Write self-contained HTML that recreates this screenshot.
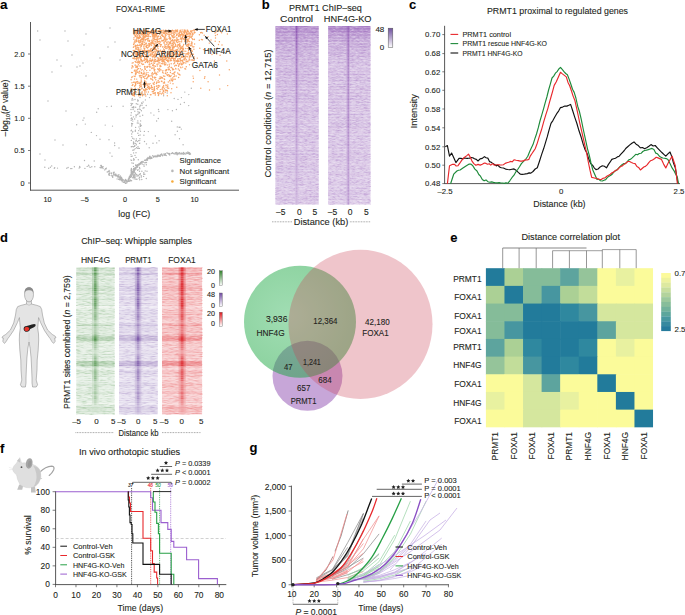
<!DOCTYPE html>
<html><head><meta charset="utf-8"><style>
html,body{margin:0;padding:0;background:#fff;}
body{width:685px;height:615px;overflow:hidden;}
svg{display:block;font-family:"Liberation Sans", sans-serif;}
text{stroke:#231f20;stroke-width:0.1px;}
</style></head><body>
<svg width="685" height="615" viewBox="0 0 685 615" fill="#231f20">
<text x="0" y="9.0" font-size="13.5" font-weight="bold" fill="#000">a</text>
<text x="140.50" y="12.47" font-size="8.8" text-anchor="middle" textLength="49" lengthAdjust="spacingAndGlyphs">FOXA1-RIME</text>
<line x1="30.50" y1="22.00" x2="30.50" y2="190.50" stroke="#444" stroke-width="0.9"/>
<line x1="30.00" y1="190.20" x2="239.00" y2="190.20" stroke="#444" stroke-width="0.9"/>
<line x1="28.00" y1="54.00" x2="30.50" y2="54.00" stroke="#444" stroke-width="0.7"/>
<text x="24.50" y="56.63" font-size="7.3" text-anchor="end">2.0</text>
<line x1="28.00" y1="86.20" x2="30.50" y2="86.20" stroke="#444" stroke-width="0.7"/>
<text x="24.50" y="88.83" font-size="7.3" text-anchor="end">1.5</text>
<line x1="28.00" y1="118.30" x2="30.50" y2="118.30" stroke="#444" stroke-width="0.7"/>
<text x="24.50" y="120.93" font-size="7.3" text-anchor="end">1.0</text>
<line x1="28.00" y1="150.50" x2="30.50" y2="150.50" stroke="#444" stroke-width="0.7"/>
<text x="24.50" y="153.13" font-size="7.3" text-anchor="end">0.5</text>
<line x1="28.00" y1="183.00" x2="30.50" y2="183.00" stroke="#444" stroke-width="0.7"/>
<text x="24.50" y="185.63" font-size="7.3" text-anchor="end">0</text>
<text x="47.50" y="201.93" font-size="7.3" text-anchor="middle">10</text>
<text x="84.80" y="201.93" font-size="7.3" text-anchor="middle">–5</text>
<text x="125.00" y="201.93" font-size="7.3" text-anchor="middle">0</text>
<text x="157.70" y="201.93" font-size="7.3" text-anchor="middle">5</text>
<text x="194.60" y="201.93" font-size="7.3" text-anchor="middle">10</text>
<text x="134.30" y="216.97" font-size="8.8" text-anchor="middle" textLength="32" lengthAdjust="spacingAndGlyphs">log (FC)</text>
<text transform="translate(7.8,108) rotate(-90)" font-size="8.6" text-anchor="middle">–log<tspan font-size="5.5" dy="2">10</tspan><tspan dy="-2">(</tspan><tspan font-style="italic">P</tspan> value)</text>
<path d="M145.2 160.6h0M131.1 174.9h0M158.7 155.4h0M156.9 156.1h0M129.4 176.8h0M132.0 172.9h0M151.5 157.5h0M139.2 164.0h0M164.9 155.3h0M149.8 157.8h0M189.3 154.4h0M143.2 161.7h0M134.8 169.3h0M177.9 153.9h0M136.8 165.9h0M148.2 158.2h0M159.5 155.6h0M138.2 165.3h0M168.5 153.7h0M162.0 155.2h0M153.4 156.5h0M169.7 155.1h0M140.4 162.7h0M182.0 153.1h0M171.8 153.5h0M133.4 172.4h0M151.1 157.6h0M155.7 155.9h0M129.5 176.4h0M161.2 154.2h0M182.1 153.1h0M162.6 155.7h0M161.7 153.9h0M187.0 153.6h0M154.7 156.3h0M169.9 153.9h0M166.2 155.5h0M142.8 161.5h0M149.1 158.2h0M153.9 156.5h0M136.1 167.6h0M174.5 153.9h0M134.0 169.9h0M181.8 154.0h0M131.5 172.8h0M182.6 153.6h0M178.1 153.9h0M150.9 157.2h0M147.4 160.2h0M135.2 167.5h0M136.6 167.0h0M155.4 156.7h0M162.3 154.9h0M151.2 157.6h0M148.0 157.4h0M169.2 153.5h0M157.4 155.1h0M130.2 175.1h0M183.8 153.6h0M176.6 152.4h0M149.5 157.9h0M165.3 154.7h0M130.6 175.4h0M135.8 167.9h0M146.2 159.6h0M135.2 168.5h0M132.5 171.9h0M182.0 153.5h0M164.0 155.0h0M146.7 159.8h0M147.7 159.7h0M190.5 154.0h0M154.2 156.3h0M132.6 171.9h0M146.4 159.4h0M135.7 168.9h0M128.8 178.9h0M134.9 168.5h0M159.2 156.2h0M189.4 153.4h0M181.2 153.3h0M147.9 158.4h0M136.0 167.6h0M175.3 153.0h0M145.6 160.1h0M189.9 154.3h0M180.4 153.9h0M172.6 152.8h0M139.4 163.6h0M129.1 177.7h0M129.0 177.7h0M169.3 154.6h0M187.9 151.9h0M190.1 153.7h0M187.8 153.0h0M139.4 164.5h0M137.7 166.0h0M183.8 154.2h0M179.6 152.6h0M176.7 153.7h0M131.7 172.5h0M175.5 152.6h0M173.3 153.5h0M176.0 153.7h0M145.8 160.4h0M149.7 156.5h0M150.1 158.8h0M136.2 167.0h0M133.9 170.8h0M177.2 154.7h0M134.9 169.6h0M166.9 152.9h0M146.9 159.0h0M128.5 178.8h0M188.9 152.8h0M186.2 152.7h0M152.1 158.0h0M138.5 164.1h0M140.9 162.8h0M162.1 155.4h0M141.3 162.3h0M184.5 153.5h0M147.1 158.4h0M184.1 153.6h0M151.3 158.1h0M158.5 155.2h0M157.9 156.3h0M136.9 166.6h0M128.1 179.7h0M154.7 156.1h0M171.5 153.4h0M157.6 155.6h0M160.0 155.3h0M160.4 155.0h0M140.7 162.9h0M156.9 156.9h0M160.5 155.3h0M152.7 155.7h0M163.9 154.0h0M169.3 154.1h0M153.3 156.2h0M186.8 153.1h0M169.7 155.1h0M141.4 161.6h0M160.3 156.3h0M134.4 169.0h0M133.6 170.3h0M140.2 163.6h0M131.1 173.6h0M183.6 152.5h0M135.4 168.1h0M134.7 168.1h0M182.6 153.8h0M187.6 153.2h0M149.9 156.2h0M179.0 153.7h0M135.7 167.2h0M146.2 159.9h0M137.7 165.4h0M128.7 179.4h0M159.9 155.2h0M145.7 159.9h0M164.6 154.4h0M189.9 153.2h0M175.9 154.0h0M141.7 162.3h0M129.5 176.9h0M134.0 169.4h0M151.4 158.4h0M141.3 162.1h0M135.1 169.3h0M169.8 153.7h0M131.9 173.7h0M151.6 157.7h0M131.1 175.0h0M176.9 153.3h0M131.6 173.4h0M181.2 153.3h0M153.4 156.4h0M185.7 154.0h0M141.8 162.8h0M140.1 164.1h0M132.9 171.5h0M138.0 165.6h0M144.5 160.2h0M143.2 162.3h0M156.4 156.3h0M128.6 179.1h0M140.8 164.0h0M159.7 155.4h0M137.3 164.7h0M132.8 171.8h0M178.1 152.9h0M179.2 153.8h0M149.5 157.2h0M189.7 153.2h0M146.4 160.0h0M165.4 153.7h0M150.3 157.7h0M134.0 170.1h0M131.0 174.3h0M135.8 167.2h0M131.7 173.9h0M167.8 153.2h0M142.7 161.7h0M153.8 157.2h0M135.5 167.6h0M188.2 153.4h0M189.0 152.8h0M188.5 153.1h0M130.4 177.4h0M127.0 182.0h0M133.5 175.7h0M128.8 180.0h0M127.0 182.0h0M127.5 181.2h0M127.2 181.6h0M130.4 176.8h0M136.0 174.4h0M140.0 174.5h0M139.1 178.3h0M131.9 175.6h0M146.5 162.5h0M139.3 174.5h0M127.2 181.9h0M143.8 172.8h0M139.6 177.2h0M128.0 180.8h0M134.2 178.9h0M141.4 177.0h0M135.9 179.2h0M138.3 175.7h0M129.2 177.6h0M128.0 180.6h0M127.7 181.6h0M135.3 176.0h0M136.9 176.0h0M133.8 170.2h0M141.2 175.7h0M134.1 175.7h0M137.7 166.7h0M139.6 168.1h0M127.4 181.3h0M139.5 167.4h0M139.7 179.8h0M133.9 174.1h0M133.6 177.5h0M140.4 173.7h0M137.3 167.2h0M128.1 180.1h0M139.8 168.8h0M135.6 168.2h0M127.3 181.5h0M138.0 175.8h0M138.1 169.7h0M134.4 174.7h0M133.4 172.0h0M143.9 164.7h0M146.3 178.5h0M127.0 181.9h0M141.8 179.5h0M133.0 173.8h0M128.9 181.4h0M128.9 180.1h0M128.1 180.8h0M145.6 162.6h0M141.9 171.3h0M143.7 174.3h0M129.2 181.1h0M133.8 170.5h0M127.0 182.0h0M133.1 174.1h0M128.1 180.4h0M130.6 180.3h0M127.0 182.0h0M142.4 164.1h0M144.8 174.2h0M144.1 166.3h0M131.5 176.5h0M147.0 171.3h0M131.3 176.9h0M129.9 176.5h0M127.6 181.6h0M130.1 181.0h0M129.5 178.2h0M134.3 171.7h0M131.6 180.8h0M143.6 176.4h0M137.0 179.2h0M145.2 170.9h0M139.2 165.1h0M139.5 171.3h0M140.1 174.3h0M130.1 176.2h0M144.8 162.8h0M133.5 174.1h0M130.2 179.9h0M146.3 164.8h0M137.6 170.2h0M135.3 173.2h0M122.5 179.6h0M102.5 167.6h0M113.6 174.2h0M100.1 167.5h0M114.9 175.0h0M124.6 181.0h0M117.8 176.9h0M120.0 178.1h0M111.6 173.7h0M115.9 174.2h0M115.8 174.3h0M117.9 176.3h0M125.3 180.6h0M123.6 182.2h0M113.4 172.5h0M121.2 177.1h0M119.7 177.5h0M115.0 175.6h0M101.2 167.3h0M126.4 180.2h0M126.1 181.0h0M114.2 172.3h0M111.1 173.2h0M102.0 166.7h0M104.7 169.9h0M120.3 176.0h0M124.1 180.8h0M108.6 171.6h0M101.6 166.2h0M106.4 168.1h0M114.7 174.2h0M105.9 169.0h0M120.7 179.3h0M118.8 176.4h0M123.5 179.9h0M108.1 171.8h0M124.0 181.1h0M111.3 172.9h0M116.5 175.8h0M126.7 183.0h0M118.9 174.8h0M109.6 171.9h0M103.1 166.8h0M120.3 178.0h0M101.1 165.9h0M126.4 180.9h0M113.5 173.3h0M120.1 176.9h0M109.0 171.6h0M126.1 181.1h0M117.9 175.2h0M121.7 179.4h0M105.5 168.8h0M121.5 177.5h0M100.8 165.4h0M120.8 179.7h0M121.0 178.4h0M101.3 165.5h0M113.6 174.1h0M115.7 175.7h0M109.0 171.5h0M116.4 175.3h0M121.3 179.0h0M125.6 181.1h0M125.4 179.5h0M103.1 168.6h0M107.2 172.0h0M118.1 176.5h0M122.0 180.3h0M126.1 180.9h0M109.1 170.4h0M118.0 177.1h0M122.4 179.9h0M117.5 176.2h0M101.2 167.9h0M122.3 181.8h0M119.6 179.8h0M118.2 177.2h0M125.1 180.8h0M109.4 174.8h0M122.5 179.3h0M125.5 183.0h0M118.6 179.2h0M125.3 180.4h0M125.4 183.4h0M121.4 180.6h0M112.5 176.6h0M121.1 179.4h0M108.8 173.9h0M113.1 175.8h0M120.3 179.5h0M112.4 176.0h0M109.5 173.4h0M125.6 180.4h0M121.8 178.1h0M108.8 174.7h0M119.0 178.9h0M117.1 178.9h0M109.3 175.2h0M112.7 177.4h0M111.2 175.6h0M120.1 178.3h0M120.2 178.5h0M124.6 182.4h0M122.4 180.4h0M91.8 166.8h0M94.8 166.7h0M44.8 167.2h0M48.7 168.2h0M90.1 167.4h0M89.1 166.1h0M68.1 167.5h0M79.7 166.4h0M57.5 168.1h0M54.3 168.3h0M87.2 166.4h0M50.4 167.2h0M71.9 168.6h0M54.7 167.7h0M79.1 168.1h0M84.9 168.4h0M74.4 166.7h0M70.7 168.6h0M79.9 167.4h0M51.7 165.9h0M88.6 165.2h0M66.8 168.2h0M131.1 171.0h0M131.7 117.9h0M143.0 108.1h0M139.5 143.4h0M140.1 125.0h0M132.8 131.8h0M138.3 159.8h0M137.7 99.9h0M132.2 146.5h0M131.9 124.7h0M133.1 109.5h0M136.3 144.8h0M131.0 109.5h0M137.8 120.9h0M133.8 107.7h0M140.2 109.5h0M131.3 140.4h0M135.0 99.5h0M136.3 140.6h0M132.3 98.4h0M133.6 152.9h0M133.5 116.9h0M132.4 174.2h0M133.5 142.0h0M139.8 128.9h0M132.7 177.7h0M139.2 108.9h0M131.0 109.5h0M133.3 170.0h0M133.3 163.3h0M133.6 168.5h0M131.1 105.5h0M136.3 140.7h0M131.3 170.7h0M133.5 146.7h0M131.8 136.6h0M136.0 116.9h0M131.4 171.9h0M138.6 135.4h0M131.8 175.3h0M143.1 102.0h0M133.5 176.0h0M143.4 94.4h0M140.5 126.4h0M138.0 146.6h0M140.3 105.3h0M134.8 111.2h0M136.7 165.5h0M132.7 107.5h0M135.6 127.4h0M131.7 126.0h0M138.9 113.6h0M131.1 169.6h0M137.6 141.6h0M142.0 92.8h0M137.7 101.1h0M136.2 140.6h0M134.7 119.0h0M134.1 143.3h0M134.1 149.8h0M131.1 130.8h0M134.6 146.4h0M139.5 112.5h0M133.8 160.0h0M135.7 107.2h0M131.9 100.0h0M131.5 130.2h0M135.3 131.2h0M138.7 93.1h0M140.0 97.5h0M134.3 159.8h0M136.6 94.5h0M141.2 125.5h0M141.6 103.0h0M135.1 177.7h0M131.9 162.9h0M133.5 176.5h0M136.8 174.5h0M140.3 105.8h0M131.2 172.4h0M138.7 123.1h0M142.0 105.2h0M140.0 116.2h0M136.3 103.7h0M131.9 171.5h0M135.9 115.0h0M131.2 120.2h0M132.2 107.4h0M135.0 172.8h0M131.7 169.5h0M131.5 160.4h0M136.4 138.9h0M140.3 123.9h0M135.7 141.0h0M131.4 168.4h0M134.4 177.4h0M139.0 126.9h0M142.7 115.2h0M133.5 142.9h0M133.7 158.7h0M139.6 106.9h0M141.6 93.9h0M137.7 114.2h0M134.1 176.7h0M132.9 150.2h0M131.2 88.3h0M137.8 104.3h0M135.4 130.3h0M131.5 169.5h0M138.0 111.7h0M131.0 90.9h0M131.6 123.4h0M132.6 123.6h0M135.7 143.4h0M137.7 109.5h0M131.7 134.0h0M132.1 172.8h0M131.6 104.3h0M138.4 148.1h0M133.4 160.1h0M131.0 115.2h0M135.2 148.6h0M137.3 123.0h0M140.5 131.3h0M132.3 156.1h0M131.1 170.1h0M134.0 139.0h0M131.3 112.7h0M131.0 159.9h0M139.8 140.6h0M132.6 103.6h0M134.8 145.5h0M137.8 148.4h0M133.7 106.7h0M131.2 118.5h0M136.1 169.0h0M131.0 154.6h0M136.0 165.3h0M137.9 133.2h0M132.5 132.1h0M133.0 99.9h0M134.3 92.8h0M136.0 157.4h0M135.7 165.4h0M136.5 115.3h0M138.7 130.6h0M132.7 138.2h0M139.4 148.4h0M141.4 110.8h0M133.5 90.1h0M139.2 112.5h0M135.5 173.5h0M140.6 120.9h0M132.8 121.1h0M134.8 170.5h0M136.0 152.7h0M133.4 176.3h0M135.6 164.9h0M133.5 166.4h0M135.0 155.4h0M132.5 119.2h0M131.3 146.8h0M131.6 170.7h0M131.8 91.5h0M132.7 172.2h0M131.1 103.5h0M139.6 93.2h0M136.6 147.7h0M131.2 156.4h0M133.5 144.0h0M179.5 138.8h0M184.8 92.1h0M183.1 144.7h0M188.8 94.6h0M144.0 94.9h0M138.5 140.6h0M179.1 127.3h0M180.0 127.2h0M147.6 94.2h0M140.1 135.0h0M144.0 107.8h0M154.5 89.3h0M146.2 105.5h0M172.4 110.8h0M149.2 147.8h0M159.1 140.8h0M166.1 89.9h0M153.9 115.1h0M176.4 109.5h0M171.7 121.3h0M144.5 141.5h0M139.9 138.8h0M142.6 88.1h0M143.9 135.3h0M191.3 88.3h0M158.3 118.5h0M178.0 99.4h0M158.5 109.5h0M180.5 104.2h0M188.7 105.6h0M144.4 131.4h0M158.7 94.8h0M167.2 93.0h0M177.4 131.2h0M177.3 126.9h0M150.9 112.9h0M153.0 143.2h0M139.8 143.1h0M138.3 100.8h0M146.5 143.9h0M158.9 111.5h0M184.3 102.5h0M156.6 121.0h0M175.1 134.7h0M167.9 109.6h0M149.5 97.6h0M181.3 129.1h0M174.2 98.5h0M155.4 136.0h0M163.6 95.8h0M156.7 142.9h0M145.4 99.9h0M148.3 131.6h0M181.4 97.6h0M142.1 103.4h0M91.3 132.4h0M83.0 120.3h0M84.5 160.5h0M111.4 106.3h0M123.1 106.3h0M94.2 161.0h0M114.7 145.5h0M96.7 112.2h0M106.9 106.6h0M85.3 124.1h0M76.7 124.7h0M114.6 143.0h0M100.0 139.2h0M98.2 108.8h0M105.2 125.1h0M112.0 156.3h0M96.5 135.6h0M112.5 126.1h0M86.4 144.8h0M119.0 148.0h0M110.0 152.9h0M109.0 139.8h0M40.0 40.0h0M65.0 31.0h0M86.0 34.0h0M52.0 72.0h0M57.0 60.0h0M72.0 55.0h0M80.0 66.0h0M48.0 101.0h0M55.0 140.0h0M63.0 145.0h0M40.0 154.0h0M45.0 160.0h0M110.0 28.0h0M115.0 42.0h0M120.0 60.0h0M37.7 31.0h0M68.0 41.0h0M84.0 45.0h0M83.0 63.0h0M77.0 67.0h0M86.0 76.0h0M100.0 58.0h0M108.0 47.0h0M61.0 66.0h0M66.0 111.0h0M84.0 118.0h0" stroke="#b3b3b3" stroke-width="1.4" stroke-linecap="round"/>
<path d="M151.0 42.4h0M181.3 48.3h0M171.5 51.3h0M169.3 36.1h0M174.3 41.0h0M180.5 59.3h0M163.9 40.3h0M142.6 61.0h0M190.0 53.8h0M166.7 44.6h0M164.5 51.5h0M158.1 48.7h0M144.8 60.0h0M140.0 50.3h0M154.7 61.4h0M134.7 31.0h0M159.3 41.3h0M146.2 50.8h0M190.6 52.3h0M156.9 44.8h0M141.9 35.0h0M161.5 53.6h0M146.1 46.0h0M180.6 60.6h0M162.0 55.1h0M182.3 37.4h0M183.9 39.2h0M158.5 36.6h0M134.0 34.2h0M151.0 51.6h0M159.5 43.2h0M187.8 48.6h0M136.0 56.5h0M141.6 55.5h0M169.6 55.6h0M175.9 30.2h0M139.8 36.1h0M154.5 33.1h0M190.4 33.4h0M170.7 54.2h0M175.5 53.8h0M144.7 58.0h0M162.9 50.6h0M164.1 52.4h0M147.9 36.5h0M161.2 33.0h0M162.9 33.1h0M133.7 43.9h0M160.5 56.0h0M154.9 46.0h0M187.5 41.3h0M135.6 31.4h0M172.5 47.7h0M162.0 59.4h0M191.3 43.4h0M153.8 30.6h0M153.7 56.8h0M145.2 43.1h0M158.3 41.8h0M183.3 45.8h0M162.7 40.8h0M169.0 36.7h0M152.6 54.2h0M170.8 38.1h0M135.3 53.9h0M136.0 51.7h0M134.0 37.6h0M174.3 34.4h0M186.4 54.1h0M173.4 47.7h0M172.6 47.2h0M178.1 35.0h0M144.3 32.1h0M173.1 30.6h0M178.8 39.7h0M150.6 54.0h0M152.2 41.4h0M136.5 41.6h0M135.4 46.2h0M189.1 32.5h0M134.2 42.2h0M188.0 40.2h0M156.9 43.1h0M142.7 32.1h0M134.3 30.2h0M138.6 50.3h0M140.9 57.1h0M177.1 30.3h0M136.7 34.3h0M176.1 53.5h0M168.6 31.6h0M147.1 51.2h0M176.7 60.6h0M184.6 30.1h0M152.4 31.5h0M163.1 51.9h0M156.9 31.1h0M141.4 46.5h0M155.1 54.4h0M155.6 48.9h0M188.3 54.0h0M136.4 53.9h0M174.6 61.0h0M190.3 55.5h0M170.4 55.6h0M154.6 37.8h0M170.2 50.3h0M132.7 58.1h0M158.1 36.4h0M135.8 46.9h0M178.5 55.7h0M182.8 57.0h0M173.5 54.7h0M165.8 58.7h0M145.0 54.4h0M170.2 52.7h0M160.6 50.1h0M180.6 34.8h0M138.9 42.6h0M167.8 54.7h0M184.8 58.1h0M144.1 44.7h0M144.6 34.4h0M156.4 50.9h0M142.5 44.5h0M140.4 30.8h0M180.2 48.5h0M163.8 33.4h0M135.9 30.3h0M167.7 61.6h0M178.6 36.4h0M184.8 41.5h0M147.6 60.6h0M138.9 30.6h0M167.5 30.9h0M183.3 57.1h0M170.0 31.2h0M149.7 40.6h0M173.7 46.1h0M159.2 60.3h0M189.3 33.5h0M147.9 61.7h0M187.7 39.1h0M180.3 58.4h0M171.4 51.2h0M179.0 61.4h0M173.7 59.7h0M139.6 37.5h0M148.4 38.3h0M147.7 32.6h0M174.0 33.1h0M136.1 30.2h0M145.6 59.2h0M141.4 59.5h0M138.9 42.2h0M160.6 59.3h0M180.5 38.8h0M146.4 43.2h0M175.5 31.0h0M149.8 45.7h0M143.2 41.0h0M143.8 36.7h0M151.8 43.6h0M136.3 58.3h0M175.4 58.0h0M148.6 35.0h0M155.4 34.7h0M138.8 61.7h0M186.8 37.2h0M191.5 31.0h0M180.3 30.2h0M183.1 38.8h0M144.4 44.8h0M168.1 41.8h0M144.4 33.0h0M137.6 53.4h0M169.1 31.7h0M169.7 43.8h0M182.8 51.1h0M177.2 46.7h0M176.9 40.9h0M184.2 31.0h0M161.6 56.9h0M187.1 30.2h0M144.5 36.5h0M154.8 55.6h0M133.4 47.2h0M140.2 44.6h0M182.6 51.4h0M155.2 56.9h0M136.7 52.7h0M164.8 57.2h0M165.0 45.0h0M145.0 30.3h0M148.6 32.1h0M175.5 55.1h0M134.8 34.5h0M173.7 47.3h0M184.3 32.1h0M163.1 51.5h0M150.1 44.0h0M168.3 32.6h0M141.6 56.7h0M182.6 46.4h0M155.6 59.6h0M157.5 41.3h0M177.9 59.8h0M159.5 38.7h0M182.6 61.3h0M135.9 58.7h0M187.1 44.5h0M170.8 59.5h0M166.2 39.5h0M135.1 31.3h0M192.1 33.0h0M183.6 53.6h0M185.1 57.6h0M173.3 30.6h0M165.2 36.8h0M163.4 59.1h0M189.1 41.7h0M140.7 37.2h0M193.0 47.1h0M165.0 44.4h0M141.4 33.2h0M150.8 32.8h0M139.1 35.9h0M168.1 45.5h0M144.6 49.1h0M168.2 51.2h0M152.1 42.9h0M156.6 35.8h0M133.9 46.8h0M167.2 39.2h0M150.0 43.6h0M141.9 61.5h0M188.3 31.2h0M160.4 41.9h0M139.5 52.1h0M143.4 35.3h0M154.2 38.7h0M179.9 50.0h0M175.5 44.5h0M180.2 52.4h0M185.8 51.2h0M179.2 32.7h0M162.9 46.8h0M178.4 60.6h0M168.7 57.2h0M175.0 40.0h0M157.1 37.3h0M179.2 45.8h0M163.4 56.3h0M142.1 42.1h0M168.9 46.5h0M185.1 31.7h0M189.7 55.9h0M134.4 34.8h0M168.4 30.8h0M167.1 43.8h0M162.9 61.9h0M154.4 44.5h0M153.5 47.2h0M138.4 60.0h0M156.5 39.8h0M187.3 46.0h0M158.8 43.5h0M165.8 48.2h0M143.0 55.1h0M165.9 38.1h0M186.3 32.3h0M188.6 50.5h0M141.9 41.3h0M144.4 37.2h0M171.0 34.2h0M168.8 47.4h0M160.3 30.7h0M133.0 54.0h0M186.0 37.7h0M162.6 46.9h0M148.8 45.7h0M163.6 49.0h0M140.5 41.0h0M139.8 33.5h0M164.2 33.8h0M136.3 55.3h0M177.6 30.2h0M143.6 38.2h0M139.4 36.5h0M159.0 58.3h0M136.7 40.2h0M157.2 57.8h0M147.4 48.0h0M153.7 30.8h0M180.5 58.2h0M161.0 37.7h0M146.5 60.1h0M151.8 40.3h0M161.2 57.3h0M154.4 54.2h0M192.5 34.3h0M164.8 37.3h0M157.3 40.2h0M155.6 31.2h0M145.5 35.9h0M173.1 37.1h0M142.9 38.8h0M184.2 51.1h0M160.5 32.7h0M154.1 55.8h0M155.1 51.7h0M163.7 60.4h0M162.7 35.4h0M186.7 32.8h0M154.6 46.9h0M184.5 36.0h0M163.8 32.6h0M156.1 45.4h0M169.0 49.3h0M144.0 37.9h0M152.2 56.4h0M155.4 49.5h0M151.5 43.9h0M141.3 31.2h0M150.3 51.5h0M188.6 40.8h0M140.4 56.7h0M175.0 36.8h0M158.3 39.1h0M183.4 49.4h0M170.0 39.1h0M179.7 34.1h0M135.5 51.3h0M152.1 30.7h0M135.9 40.0h0M182.8 37.9h0M175.4 46.3h0M153.4 36.2h0M184.2 30.0h0M184.1 53.6h0M136.0 47.6h0M146.7 35.9h0M179.6 58.7h0M177.6 31.7h0M149.1 55.5h0M190.7 31.8h0M176.8 50.6h0M135.9 55.6h0M158.0 50.8h0M179.5 44.3h0M175.1 30.7h0M191.0 54.7h0M167.0 48.6h0M158.8 36.1h0M152.4 34.7h0M147.7 32.9h0M162.8 35.8h0M151.8 42.1h0M141.1 57.6h0M165.0 46.1h0M143.6 53.0h0M177.6 49.7h0M139.5 55.6h0M137.2 37.2h0M145.6 37.0h0M152.1 50.9h0M155.1 42.9h0M192.8 33.8h0M137.9 52.7h0M139.7 51.5h0M159.1 43.6h0M188.0 34.4h0M170.6 48.9h0M147.2 59.5h0M135.5 33.0h0M144.2 53.5h0M182.6 48.7h0M184.2 59.2h0M153.5 52.4h0M155.9 34.2h0M154.7 45.7h0M166.9 55.6h0M182.7 48.3h0M164.6 51.1h0M142.3 43.9h0M174.0 37.5h0M159.9 33.6h0M159.3 60.8h0M176.8 34.4h0M182.1 30.0h0M149.4 41.5h0M152.6 49.5h0M173.0 41.9h0M150.8 55.4h0M166.6 42.1h0M152.9 39.0h0M192.1 42.6h0M194.1 58.5h0M178.4 48.0h0M151.1 31.1h0M187.8 46.3h0M153.5 43.3h0M134.3 57.6h0M138.7 34.3h0M154.6 49.5h0M165.8 46.7h0M140.4 40.5h0M140.7 34.1h0M147.5 56.8h0M162.1 31.9h0M146.7 45.8h0M169.5 46.4h0M158.7 31.6h0M164.4 31.4h0M179.5 51.4h0M140.2 32.4h0M156.3 55.6h0M181.6 33.9h0M179.3 32.9h0M134.8 31.0h0M146.3 47.1h0M185.9 37.5h0M183.6 48.1h0M143.8 46.1h0M152.7 52.5h0M140.0 53.2h0M174.9 39.8h0M169.0 60.0h0M166.0 32.0h0M175.8 54.6h0M145.7 36.2h0M140.3 42.2h0M140.3 30.3h0M150.5 54.5h0M156.7 50.4h0M175.8 33.1h0M188.2 54.8h0M163.3 30.2h0M181.7 57.2h0M175.1 30.6h0M163.4 40.4h0M186.5 33.5h0M137.5 47.7h0M169.1 38.4h0M144.7 30.7h0M155.6 39.4h0M133.9 39.2h0M160.6 46.6h0M135.2 61.5h0M149.8 33.2h0M148.6 43.9h0M187.6 46.3h0M166.6 30.6h0M172.4 53.4h0M153.9 48.5h0M190.4 37.0h0M150.0 50.2h0M171.0 53.1h0M165.0 39.1h0M153.2 40.8h0M161.9 61.6h0M154.3 39.6h0M134.3 32.9h0M165.8 57.1h0M143.8 37.6h0M176.5 31.2h0M190.8 45.7h0M138.5 38.8h0M167.4 34.1h0M157.4 61.5h0M136.9 57.0h0M149.0 43.4h0M143.5 30.3h0M157.2 36.6h0M168.7 34.6h0M176.4 56.9h0M168.2 60.6h0M154.6 31.5h0M144.3 32.9h0M190.3 45.2h0M152.5 35.0h0M172.9 52.6h0M136.9 38.7h0M154.3 41.1h0M169.5 43.7h0M188.3 36.3h0M192.3 46.1h0M152.6 31.0h0M142.8 31.9h0M182.1 33.1h0M165.1 41.4h0M167.5 46.9h0M176.9 38.5h0M179.1 36.3h0M176.9 37.8h0M163.3 61.1h0M140.6 59.7h0M177.4 30.1h0M192.8 39.5h0M135.4 35.4h0M137.4 32.9h0M188.3 44.0h0M142.3 39.6h0M143.3 34.0h0M176.4 30.5h0M172.9 35.8h0M180.9 38.9h0M139.6 42.6h0M137.1 52.1h0M136.5 48.9h0M158.7 46.1h0M146.7 58.9h0M149.0 36.1h0M178.8 41.7h0M151.3 48.8h0M142.0 61.8h0M187.3 56.8h0M150.4 36.6h0M160.6 38.5h0M169.7 57.9h0M169.4 42.4h0M154.8 57.6h0M188.2 53.7h0M152.7 34.2h0M140.0 30.4h0M142.2 61.0h0M138.8 52.2h0M153.8 33.8h0M175.3 58.9h0M146.9 57.5h0M174.3 54.2h0M158.8 30.6h0M135.1 32.1h0M139.5 61.6h0M141.9 43.5h0M142.4 41.6h0M164.4 52.2h0M186.9 32.3h0M146.7 39.1h0M149.6 60.8h0M148.9 34.0h0M159.0 31.3h0M155.1 45.8h0M165.5 30.1h0M172.6 45.6h0M157.5 61.3h0M157.5 38.1h0M156.7 61.0h0M194.2 33.1h0M148.1 30.1h0M154.6 47.7h0M184.0 35.8h0M188.3 53.9h0M171.7 30.9h0M151.6 45.6h0M187.0 60.9h0M168.7 44.3h0M177.7 61.8h0M177.9 40.0h0M171.9 40.4h0M170.7 38.2h0M149.2 45.4h0M162.5 58.5h0M145.7 51.6h0M188.4 33.1h0M179.9 44.9h0M143.9 35.7h0M180.3 55.3h0M185.6 58.0h0M180.0 30.7h0M143.4 32.6h0M182.5 36.1h0M160.8 44.6h0M171.2 31.7h0M163.9 42.3h0M173.8 54.4h0M163.9 39.6h0M155.8 35.7h0M146.1 30.3h0M177.0 46.3h0M153.0 36.8h0M171.7 35.8h0M144.7 56.7h0M155.8 41.4h0M158.9 30.8h0M157.6 39.6h0M180.3 49.0h0M186.7 39.2h0M193.0 34.4h0M152.0 51.3h0M180.2 31.3h0M185.0 40.0h0M134.4 52.9h0M181.6 47.1h0M161.9 41.1h0M162.4 57.8h0M173.7 55.4h0M173.4 52.3h0M179.5 45.7h0M137.6 53.4h0M139.0 55.1h0M137.2 31.7h0M173.8 50.2h0M159.5 43.4h0M193.9 46.8h0M153.2 55.1h0M133.6 44.5h0M151.3 61.6h0M186.0 36.2h0M136.2 45.8h0M185.0 37.7h0M145.1 54.6h0M165.0 30.9h0M166.9 39.8h0M181.6 39.6h0M136.9 34.6h0M164.6 38.0h0M149.3 40.9h0M150.1 54.3h0M160.6 51.2h0M158.3 59.5h0M172.5 57.4h0M185.5 30.9h0M187.5 31.4h0M180.5 46.0h0M150.5 43.9h0M181.2 34.9h0M139.9 33.2h0M179.7 31.9h0M147.4 60.1h0M175.1 58.4h0M136.4 33.4h0M150.7 55.8h0M166.1 35.6h0M187.0 33.4h0M181.6 38.3h0M155.8 61.2h0M146.7 30.5h0M139.0 45.5h0M173.7 42.7h0M181.1 32.4h0M195.0 32.6h0M149.7 44.8h0M188.8 39.0h0M161.4 31.9h0M137.8 56.9h0M149.5 33.0h0M189.2 57.9h0M168.6 30.5h0M170.4 60.8h0M155.0 30.9h0M144.1 42.3h0M151.7 54.0h0M166.1 31.3h0M168.5 54.0h0M139.4 42.6h0M141.0 49.0h0M172.1 46.6h0M144.1 33.7h0M183.7 59.8h0M142.7 43.3h0M163.6 31.9h0M140.2 45.1h0M164.2 42.9h0M145.7 39.6h0M147.8 40.8h0M163.4 57.1h0M164.4 57.8h0M167.4 54.2h0M142.3 50.5h0M135.6 36.5h0M185.0 40.4h0M168.0 31.6h0M173.8 35.6h0M148.0 31.1h0M170.5 47.3h0M181.8 50.6h0M189.1 38.8h0M187.5 30.1h0M147.9 41.0h0M174.0 52.1h0M145.4 33.3h0M153.7 35.2h0M163.2 61.1h0M179.8 43.8h0M144.6 58.5h0M181.4 48.2h0M154.8 54.0h0M192.7 33.6h0M182.7 49.9h0M186.3 59.6h0M169.4 52.5h0M180.0 41.8h0M191.8 53.9h0M188.6 45.0h0M149.6 32.4h0M146.5 55.9h0M162.2 34.6h0M174.2 58.5h0M178.4 51.2h0M191.6 50.2h0M171.6 55.4h0M153.3 55.8h0M133.4 47.2h0M134.2 43.6h0M170.1 32.3h0M152.7 42.5h0M169.0 35.0h0M139.1 37.3h0M172.5 36.7h0M139.8 54.7h0M144.7 50.2h0M191.4 36.7h0M170.2 39.5h0M158.1 58.0h0M194.6 43.9h0M182.4 34.3h0M144.2 33.6h0M160.0 59.9h0M138.8 54.8h0M186.4 45.7h0M183.7 44.4h0M137.8 49.7h0M153.1 48.2h0M172.0 49.5h0M184.8 39.9h0M154.9 43.9h0M176.3 61.1h0M160.6 45.9h0M179.8 52.7h0M152.5 30.6h0M143.0 32.9h0M167.0 46.9h0M170.2 30.8h0M180.5 37.0h0M189.7 37.3h0M180.8 49.0h0M172.9 50.0h0M150.6 50.5h0M178.1 33.6h0M141.6 39.0h0M178.0 44.5h0M152.0 33.8h0M190.5 31.0h0M144.2 60.6h0M153.1 37.8h0M139.8 41.9h0M189.3 36.4h0M146.0 36.6h0M168.8 58.5h0M152.1 53.7h0M166.9 33.3h0M176.5 49.8h0M163.5 36.8h0M173.2 37.2h0M182.8 36.3h0M154.1 46.2h0M136.7 59.7h0M179.4 45.6h0M139.3 50.1h0M173.1 37.8h0M177.8 60.7h0M187.3 40.5h0M180.4 52.4h0M144.9 39.1h0M171.5 57.1h0M140.6 58.3h0M164.4 38.7h0M173.5 56.4h0M149.0 46.6h0M181.4 56.1h0M179.5 55.9h0M189.1 43.9h0M171.7 58.2h0M140.1 57.4h0M149.3 51.0h0M168.0 31.3h0M146.2 55.4h0M174.8 31.9h0M175.2 61.0h0M182.0 31.4h0M142.2 38.3h0M137.2 36.8h0M135.6 42.1h0M139.3 55.5h0M152.9 35.3h0M145.9 46.2h0M182.3 54.2h0M135.2 45.2h0M159.3 53.7h0M171.4 31.2h0M162.8 51.7h0M146.5 46.9h0M194.1 57.0h0M192.1 38.4h0M160.3 31.3h0M175.6 50.2h0M157.1 42.4h0M145.4 37.0h0M144.4 52.2h0M144.7 51.0h0M188.6 36.5h0M188.8 52.6h0M136.3 59.0h0M134.5 34.8h0M148.4 56.8h0M142.8 39.2h0M135.8 48.5h0M154.8 34.0h0M138.8 58.2h0M142.7 32.2h0M182.2 53.7h0M162.0 54.3h0M167.1 55.3h0M145.9 44.2h0M178.9 36.1h0M192.4 59.9h0M181.6 41.8h0M140.5 56.0h0M156.6 30.2h0M185.1 30.1h0M185.8 54.0h0M137.5 45.1h0M160.9 38.3h0M144.8 48.7h0M140.0 35.9h0M140.6 47.0h0M169.8 34.6h0M159.7 51.1h0M161.7 31.3h0M173.1 40.7h0M174.6 51.3h0M142.2 43.0h0M146.9 58.5h0M146.2 61.5h0M171.8 40.4h0M135.0 52.4h0M136.3 31.9h0M148.0 30.9h0M189.3 59.4h0M190.9 48.7h0M178.8 36.4h0M191.7 32.1h0M142.9 51.2h0M140.0 44.3h0M132.9 54.0h0M164.6 56.4h0M166.9 55.3h0M137.4 54.5h0M156.8 31.0h0M177.6 30.1h0M161.8 30.4h0M170.2 32.6h0M190.8 34.8h0M154.4 45.5h0M183.6 31.9h0M154.2 32.1h0M169.7 37.6h0M178.1 61.2h0M175.5 30.1h0M164.5 47.3h0M170.6 42.5h0M178.0 58.8h0M178.3 54.4h0M172.8 30.5h0M142.9 56.3h0M160.0 59.8h0M153.9 51.1h0M139.4 38.3h0M191.7 42.0h0M182.9 53.1h0M147.5 61.8h0M134.7 41.1h0M154.3 35.5h0M177.2 53.4h0M139.0 57.8h0M150.9 55.4h0M189.3 48.3h0M166.2 33.6h0M155.6 49.1h0M173.5 58.7h0M150.2 60.8h0M133.4 58.4h0M143.9 36.4h0M170.3 41.9h0M147.9 50.5h0M135.2 36.3h0M191.2 50.5h0M169.4 48.8h0M150.5 49.3h0M137.8 31.2h0M140.6 30.2h0M192.0 43.7h0M143.6 50.4h0M152.8 32.0h0M176.2 40.9h0M187.1 31.9h0M183.0 38.8h0M184.0 35.4h0M133.4 54.6h0M186.1 34.4h0M172.0 33.5h0M142.0 34.1h0M173.7 31.9h0M146.5 46.3h0M142.1 31.2h0M154.6 60.6h0M148.6 51.7h0M166.0 39.6h0M150.8 32.3h0M181.7 40.0h0M156.7 35.3h0M172.5 39.6h0M173.2 43.0h0M146.8 55.8h0M160.7 30.5h0M138.6 51.3h0M147.2 32.5h0M140.5 42.0h0M187.9 31.3h0M137.6 45.8h0M185.2 35.3h0M182.2 60.6h0M148.6 32.3h0M184.3 33.8h0M189.8 35.0h0M177.6 42.6h0M145.7 31.4h0M154.9 49.5h0M144.9 32.5h0M172.4 30.1h0M179.1 44.4h0M147.3 45.2h0M141.6 43.9h0M188.0 54.6h0M188.2 52.3h0M146.9 34.1h0M146.3 47.3h0M159.7 30.6h0M169.0 33.0h0M158.1 59.7h0M148.1 50.1h0M164.1 43.2h0M166.2 60.0h0M183.4 35.1h0M147.7 34.7h0M151.9 60.5h0M134.8 40.9h0M143.6 39.8h0M149.0 55.5h0M166.9 42.4h0M140.3 51.3h0M141.7 60.5h0M184.0 32.9h0M147.7 31.0h0M157.2 33.7h0M171.8 57.8h0M190.9 56.7h0M136.5 40.9h0M150.2 58.8h0M191.3 37.2h0M182.0 57.1h0M172.9 54.7h0M173.3 44.4h0M181.9 46.9h0M137.3 58.2h0M166.9 58.1h0M147.7 34.1h0M163.9 39.6h0M172.3 50.1h0M174.4 43.0h0M175.1 54.5h0M171.9 51.2h0M148.4 34.1h0M189.6 41.6h0M183.2 34.8h0M179.3 35.6h0M140.9 39.4h0M145.8 35.3h0M158.2 36.5h0M138.1 41.3h0M155.3 46.7h0M158.8 51.0h0M173.6 34.0h0M155.7 33.6h0M171.6 60.6h0M172.7 48.5h0M151.0 60.7h0M185.1 36.2h0M169.8 47.4h0M134.6 34.6h0M137.4 45.1h0M143.9 30.1h0M149.3 50.7h0M192.3 51.3h0M194.6 30.3h0M154.7 33.2h0M161.4 44.7h0M137.0 36.3h0M171.1 31.6h0M148.9 50.7h0M162.3 54.2h0M187.1 34.3h0M175.4 46.0h0M176.4 40.2h0M139.4 35.5h0M143.9 46.9h0M147.1 51.1h0M170.9 31.9h0M168.5 46.1h0M172.0 32.2h0M165.3 35.8h0M134.8 51.7h0M171.5 51.7h0M170.9 50.5h0M172.9 58.3h0M143.3 36.4h0M176.5 35.4h0M177.6 60.4h0M136.8 37.8h0M138.7 47.7h0M187.9 30.9h0M160.5 57.3h0M165.6 34.6h0M177.3 39.5h0M137.5 44.9h0M161.8 40.2h0M152.3 36.1h0M175.0 43.2h0M187.2 53.4h0M170.9 59.5h0M149.6 32.1h0M192.7 30.6h0M171.0 58.6h0M137.8 37.5h0M138.0 52.7h0M138.9 40.5h0M180.2 60.6h0M140.2 32.9h0M184.2 31.3h0M144.5 33.8h0M140.1 53.2h0M192.1 35.9h0M186.4 32.4h0M162.7 58.4h0M160.0 60.3h0M176.3 51.4h0M140.4 32.8h0M154.8 55.0h0M192.4 36.0h0M186.3 33.2h0M154.4 38.2h0M159.8 34.3h0M133.4 55.3h0M168.1 53.1h0M185.3 58.2h0M148.6 55.2h0M155.5 39.6h0M147.6 32.3h0M184.1 58.6h0M147.9 52.9h0M178.0 58.9h0M177.1 52.8h0M182.6 36.2h0M164.9 32.9h0M184.4 38.7h0M184.2 56.3h0M176.0 33.0h0M135.9 49.2h0M152.4 57.1h0M179.4 53.9h0M147.8 57.1h0M153.8 32.0h0M138.2 30.4h0M176.7 31.3h0M179.7 34.6h0M151.4 60.2h0M188.6 48.5h0M151.2 52.1h0M167.6 57.2h0M163.8 55.6h0M170.7 43.4h0M156.0 34.9h0M141.3 39.5h0M134.6 58.7h0M157.6 47.0h0M165.5 31.8h0M146.2 55.2h0M179.6 52.5h0M161.4 35.2h0M172.8 40.0h0M152.6 59.3h0M144.4 52.0h0M141.4 45.5h0M193.0 60.3h0M188.0 46.0h0M177.7 45.7h0M144.6 57.0h0M165.4 30.4h0M165.5 58.1h0M164.8 59.4h0M157.9 33.1h0M148.0 47.4h0M160.5 36.8h0M134.2 31.8h0M147.5 38.8h0M162.7 36.2h0M145.1 34.0h0M174.4 46.8h0M149.1 52.6h0M185.7 55.9h0M139.2 30.9h0M180.4 31.3h0M172.2 50.1h0M153.3 61.9h0M142.5 53.3h0M171.1 41.0h0M138.7 37.6h0M152.9 34.4h0M160.0 44.1h0M162.9 61.0h0M167.5 59.9h0M143.9 33.1h0M157.1 31.4h0M156.7 39.2h0M142.5 39.1h0M166.1 56.9h0M155.6 30.1h0M185.8 48.4h0M165.6 40.7h0M177.6 49.5h0M185.0 60.1h0M169.2 54.2h0M164.5 50.0h0M145.1 40.7h0M135.5 32.4h0M161.0 38.3h0M153.2 43.8h0M191.8 45.0h0M155.6 48.7h0M180.4 47.7h0M154.7 36.4h0M165.9 58.7h0M142.9 36.8h0M134.4 50.5h0M143.0 34.4h0M137.2 35.4h0M187.4 36.5h0M164.1 60.0h0M160.5 59.0h0M179.9 34.4h0M184.8 56.7h0M169.1 52.8h0M140.0 61.1h0M175.9 30.3h0M144.1 48.4h0M173.9 47.7h0M157.2 60.8h0M149.6 40.4h0M180.1 35.6h0M144.3 34.0h0M137.2 33.3h0M175.7 44.9h0M166.1 30.5h0M187.1 42.3h0M188.6 47.4h0M189.4 56.7h0M156.4 46.0h0M133.3 50.5h0M133.1 54.6h0M156.7 54.4h0M156.3 49.8h0M189.0 60.5h0M154.8 59.3h0M186.2 36.6h0M193.3 54.2h0M150.9 50.4h0M142.4 52.9h0M163.5 56.6h0M189.5 36.8h0M141.8 52.9h0M165.8 53.1h0M187.2 41.5h0M150.3 31.7h0M184.6 32.4h0M176.8 42.0h0M138.7 49.0h0M172.2 43.7h0M155.1 36.9h0M161.2 59.0h0M179.6 46.4h0M155.4 53.0h0M161.6 60.1h0M174.0 32.5h0M191.2 31.0h0M171.3 45.3h0M148.1 39.9h0M138.2 55.0h0M187.0 56.4h0M174.8 30.6h0M145.2 85.4h0M160.0 93.3h0M141.8 63.5h0M173.8 76.8h0M169.6 75.8h0M181.0 67.8h0M172.5 81.0h0M162.6 87.0h0M135.5 74.7h0M158.6 92.6h0M154.0 67.2h0M138.2 89.1h0M153.3 83.7h0M154.6 73.3h0M144.0 76.5h0M157.9 72.0h0M178.7 64.9h0M139.2 72.0h0M172.2 79.9h0M132.4 72.6h0M137.7 66.3h0M178.3 69.0h0M145.2 83.8h0M158.6 94.0h0M145.2 83.2h0M141.2 80.7h0M133.7 94.9h0M159.9 60.2h0M177.7 63.4h0M170.3 83.1h0M156.5 83.5h0M191.1 60.0h0M161.0 70.0h0M162.4 60.2h0M131.5 89.1h0M136.8 66.2h0M141.7 93.3h0M163.7 91.3h0M165.3 73.3h0M137.8 61.8h0M139.9 86.1h0M181.5 64.4h0M167.3 95.8h0M161.9 81.4h0M146.8 78.7h0M136.7 92.1h0M164.8 64.4h0M154.3 88.2h0M150.9 79.0h0M150.8 78.4h0M171.7 67.4h0M136.1 67.6h0M148.6 76.0h0M165.4 70.8h0M147.1 89.5h0M140.1 76.9h0M135.6 61.9h0M154.3 70.7h0M158.8 69.9h0M141.7 93.5h0M179.4 70.4h0M132.8 84.6h0M179.5 63.6h0M133.6 82.3h0M147.8 77.0h0M159.9 62.9h0M164.9 65.1h0M174.3 74.3h0M143.9 60.1h0M165.4 73.1h0M142.5 95.8h0M151.8 68.4h0M148.2 83.9h0M189.5 64.7h0M134.7 92.8h0M161.1 76.9h0M169.1 76.6h0M158.2 69.3h0M157.0 64.2h0M162.5 63.7h0M132.3 95.1h0M144.4 84.9h0M164.0 61.4h0M145.0 85.2h0M143.4 84.8h0M134.1 95.1h0M166.3 85.3h0M164.4 81.9h0M154.5 63.3h0M146.3 83.2h0M167.5 91.1h0M179.5 70.2h0M171.4 80.1h0M140.2 82.2h0M152.8 77.5h0M159.6 70.9h0M146.7 66.9h0M160.0 76.9h0M160.2 65.6h0M172.6 68.7h0M141.4 77.4h0M140.4 93.1h0M165.9 73.2h0M138.1 88.9h0M148.4 75.0h0M166.8 69.8h0M144.6 66.4h0M154.3 87.6h0M141.4 84.1h0M186.1 61.7h0M162.4 77.7h0M142.7 94.7h0M174.5 63.1h0M141.1 85.7h0M164.8 76.3h0M148.4 91.9h0M144.8 73.9h0M140.7 95.0h0M162.5 92.9h0M154.5 70.7h0M169.4 65.9h0M155.1 72.2h0M163.2 73.0h0M152.3 68.0h0M153.0 60.3h0M154.4 86.7h0M132.2 65.7h0M139.1 83.3h0M163.3 90.3h0M147.2 67.3h0M149.3 60.9h0M135.9 82.2h0M147.2 66.6h0M136.2 73.7h0M140.2 95.5h0M145.1 90.4h0M180.6 61.0h0M149.1 88.6h0M133.1 95.5h0M170.4 72.4h0M153.9 89.8h0M144.1 72.7h0M148.0 86.3h0M138.7 95.7h0M136.7 60.0h0M158.9 62.6h0M169.4 69.2h0M155.7 77.4h0M148.4 76.6h0M144.8 90.5h0M166.1 70.8h0M173.9 79.1h0M136.9 72.0h0M144.2 82.7h0M143.5 89.9h0M151.8 73.8h0M167.3 64.9h0M140.2 83.0h0M149.3 87.8h0M132.0 89.4h0M186.3 66.8h0M150.1 83.6h0M139.9 66.0h0M158.2 82.2h0M164.1 64.0h0M160.0 65.2h0M158.1 63.9h0M161.9 81.1h0M160.4 78.5h0M147.5 87.4h0M151.9 89.3h0M167.7 86.4h0M157.5 89.0h0M183.5 63.1h0M155.3 94.9h0M175.7 68.4h0M131.7 77.6h0M152.3 91.7h0M172.5 78.0h0M132.5 66.2h0M134.3 70.9h0M140.0 62.0h0M145.3 69.3h0M171.0 92.8h0M166.9 74.6h0M173.1 68.9h0M135.7 67.1h0M158.0 93.0h0M169.2 64.3h0M140.6 75.5h0M139.7 94.3h0M159.7 86.0h0M141.7 73.0h0M160.0 66.7h0M132.2 76.8h0M145.2 86.4h0M147.8 66.5h0M151.4 85.5h0M179.8 64.6h0M139.4 75.8h0M145.4 85.2h0M156.7 88.6h0M149.4 76.1h0M131.1 79.7h0M141.6 88.1h0M152.3 89.4h0M173.8 63.7h0M168.8 69.3h0M146.0 88.8h0M135.4 83.3h0M155.8 73.6h0M153.1 64.4h0M142.3 64.4h0M155.8 79.7h0M157.0 74.6h0M139.9 89.6h0M176.3 61.0h0M164.6 79.4h0M168.4 69.8h0M149.6 67.1h0M134.0 76.1h0M154.4 82.2h0M134.9 85.6h0M140.5 89.7h0M145.3 62.4h0M147.5 62.4h0M148.9 75.4h0M139.7 87.7h0M149.9 60.2h0M185.8 63.1h0M132.8 66.4h0M144.4 86.5h0M135.0 70.0h0M144.7 93.9h0M163.7 87.0h0M174.6 75.9h0M165.4 73.4h0M141.2 79.0h0M171.1 78.9h0M183.0 62.2h0M170.7 60.3h0M136.9 81.7h0M166.1 69.6h0M158.5 85.4h0M132.0 82.7h0M146.7 74.7h0M171.2 63.8h0M160.0 69.1h0M135.2 88.5h0M132.2 85.5h0M147.1 85.2h0M152.7 65.4h0M161.6 63.6h0M154.9 69.6h0M182.6 67.1h0M149.9 70.3h0M140.9 86.4h0M183.3 63.2h0M155.4 66.2h0M151.5 86.7h0M178.5 74.1h0M146.1 92.0h0M158.6 60.9h0M155.3 92.7h0M187.9 61.7h0M132.1 63.1h0M137.9 72.3h0M142.0 75.8h0M136.2 62.3h0M174.6 65.9h0M143.3 73.7h0M171.1 67.5h0M184.1 62.8h0M135.5 73.4h0M168.7 61.8h0M152.9 80.1h0M154.0 65.7h0M144.8 68.9h0M134.6 82.1h0M135.2 88.2h0M154.5 77.1h0M165.6 85.1h0M184.9 68.7h0M142.1 91.8h0M154.2 88.7h0M178.6 66.3h0M134.6 79.0h0M154.4 90.6h0M157.3 65.9h0M135.7 84.8h0M163.5 75.9h0M173.0 83.8h0M152.4 72.8h0M162.6 72.2h0M156.5 73.2h0M178.6 77.4h0M176.8 87.3h0M167.4 75.5h0M167.8 84.9h0M162.1 89.5h0M145.4 75.9h0M175.0 72.0h0M137.3 83.2h0M149.1 64.7h0M139.7 62.9h0M144.8 85.0h0M144.0 90.1h0M153.9 68.4h0M131.6 72.4h0M166.5 90.6h0M144.6 67.1h0M167.3 60.6h0M143.2 76.9h0M185.7 69.1h0M135.5 91.5h0M165.1 90.0h0M154.2 84.1h0M141.8 88.7h0M141.1 73.1h0M154.0 84.6h0M169.7 80.5h0M164.3 88.6h0M136.0 72.1h0M162.9 70.7h0M164.6 82.9h0M158.5 87.3h0M136.8 70.2h0M161.4 81.3h0M135.3 91.8h0M181.7 64.0h0M145.8 95.9h0M167.6 87.9h0M135.1 65.3h0M152.3 75.0h0M145.4 94.2h0M140.1 90.1h0M154.6 69.7h0M146.3 73.0h0M172.1 80.8h0M136.1 66.2h0M155.7 61.5h0M160.4 89.6h0M152.6 80.0h0M166.4 60.3h0M163.1 61.8h0M135.8 72.3h0M163.6 85.5h0M172.2 80.5h0M158.4 95.5h0M148.0 61.2h0M157.7 92.8h0M144.7 91.9h0M173.7 69.4h0M169.9 81.1h0M175.2 79.3h0M152.1 79.3h0M164.1 78.7h0M151.0 94.8h0M161.8 78.0h0M163.6 93.9h0M176.9 61.6h0M144.1 60.8h0M141.3 72.5h0M143.2 84.5h0M172.8 80.0h0M152.4 87.4h0M148.0 72.6h0M162.2 88.3h0M131.7 93.5h0M138.5 68.6h0M146.0 89.7h0M146.4 78.6h0M138.4 64.7h0M137.2 69.7h0M148.7 88.2h0M143.6 64.2h0M155.1 93.6h0M180.5 67.1h0M174.7 62.8h0M166.1 87.1h0M170.3 70.6h0M154.0 92.9h0M154.6 90.1h0M138.1 68.7h0M167.3 90.5h0M137.3 67.6h0M157.9 87.3h0M172.6 69.8h0M171.1 75.6h0M181.8 64.8h0M135.2 64.9h0M134.7 86.3h0M168.1 67.7h0M132.1 91.0h0M143.8 71.0h0M151.1 87.7h0M135.6 84.3h0M167.4 72.6h0M149.4 66.6h0M157.6 69.0h0M174.2 72.4h0M157.8 93.6h0M145.1 68.1h0M139.1 63.0h0M179.2 74.3h0M169.5 76.1h0M137.7 72.3h0M159.3 81.9h0M154.2 69.8h0M175.9 69.1h0M165.2 92.3h0M176.2 76.0h0M168.3 82.0h0M173.3 73.6h0M145.3 88.9h0M149.3 89.3h0M141.6 73.5h0M168.7 88.2h0M150.8 66.9h0M172.2 73.7h0M145.8 81.8h0M166.0 63.1h0M180.0 74.9h0M139.1 73.6h0M153.1 93.6h0M144.8 78.4h0M152.5 76.6h0M132.7 95.2h0M149.9 64.8h0M162.9 87.5h0M156.3 74.7h0M162.4 78.0h0M147.0 83.9h0M133.4 92.8h0M159.3 78.8h0M133.0 67.0h0M156.9 85.7h0M140.4 68.8h0M176.5 65.5h0M169.4 75.1h0M158.2 80.4h0M177.7 72.9h0M153.1 83.3h0M141.5 82.0h0M131.5 89.8h0M168.3 74.8h0M142.2 69.6h0M145.0 84.5h0M156.4 86.6h0M171.7 88.8h0M182.4 60.2h0M173.8 60.8h0M141.6 70.1h0M147.8 87.5h0M174.8 60.9h0M145.0 66.7h0M163.4 83.0h0M156.9 81.9h0M161.0 66.3h0M144.7 80.4h0M135.7 71.1h0M139.7 71.3h0M135.3 85.5h0M141.3 86.3h0M143.9 77.3h0M160.0 91.4h0M153.8 84.1h0M131.8 68.0h0M146.7 70.6h0M132.2 66.1h0M143.5 89.6h0M143.9 60.3h0M151.3 63.4h0M164.2 63.5h0M146.4 74.8h0M147.1 77.8h0M155.3 92.8h0M136.7 79.1h0M153.3 91.5h0M133.1 62.8h0M140.2 84.3h0M154.6 78.1h0M138.7 83.0h0M137.7 81.5h0M132.9 84.7h0M159.5 68.7h0M175.8 65.3h0M137.7 62.7h0M169.2 66.7h0M151.0 75.7h0M142.4 94.3h0M150.4 94.7h0M134.9 93.7h0M153.9 90.1h0M180.8 62.9h0M149.4 62.9h0M146.3 83.7h0M149.0 86.3h0M150.1 88.3h0M131.9 88.6h0M135.0 76.4h0M165.8 90.5h0M161.4 93.9h0M164.9 62.3h0M181.0 60.4h0M143.1 74.5h0M182.1 60.7h0M185.1 68.5h0M139.6 85.8h0M165.6 64.4h0M153.1 63.9h0M133.2 93.9h0M134.5 95.9h0M132.6 94.2h0M149.5 84.1h0M170.6 76.5h0M182.7 63.9h0M153.4 73.9h0M156.7 82.3h0M163.2 91.7h0M196.3 30.0h0M199.4 34.8h0M194.3 39.1h0M193.2 81.7h0M204.9 76.7h0M214.4 61.0h0M217.4 34.4h0M215.9 31.9h0M207.8 49.8h0M218.3 31.2h0M199.9 70.5h0M219.8 89.0h0M194.2 32.0h0M194.1 60.4h0M216.7 53.9h0M218.5 44.5h0M208.1 81.7h0M212.0 54.5h0M209.3 43.1h0M217.3 48.2h0M194.4 39.5h0M202.5 39.8h0M208.1 36.6h0M201.5 39.5h0M200.8 88.2h0M193.8 30.0h0M215.5 38.0h0M203.5 49.6h0M200.6 32.7h0M193.0 76.1h0M227.4 33.9h0M204.2 35.2h0M193.4 78.3h0M221.6 32.7h0M197.3 58.1h0M219.4 41.8h0M201.3 32.5h0M219.5 74.9h0M222.7 30.5h0M209.5 90.0h0M215.2 41.2h0M194.7 30.1h0M216.1 30.2h0M220.1 55.3h0M204.5 78.2h0M227.0 51.4h0M193.9 49.3h0M202.5 32.9h0M226.8 61.0h0M194.3 32.4h0M199.8 48.2h0M199.3 40.2h0M220.3 31.5h0M215.5 35.4h0M227.7 85.6h0M229.3 69.8h0M226.5 52.0h0M222.0 45.0h0M215.0 33.0h0M211.0 40.0h0" stroke="#f8a568" stroke-width="1.45" stroke-linecap="round"/>
<text x="147.00" y="34.00" font-size="8.6" text-anchor="middle" textLength="28.6" lengthAdjust="spacingAndGlyphs">HNF4G</text>
<line x1="164.60" y1="31.00" x2="171.50" y2="31.00" stroke="#111" stroke-width="0.8"/>
<path d="M171.5 31.0L168.6 32.4L168.6 29.6Z" fill="#111"/>
<text x="218.50" y="32.30" font-size="8.6" text-anchor="middle" textLength="25.4" lengthAdjust="spacingAndGlyphs">FOXA1</text>
<line x1="204.80" y1="29.40" x2="194.80" y2="29.40" stroke="#111" stroke-width="0.8"/>
<path d="M194.8 29.4L197.7 28.0L197.7 30.8Z" fill="#111"/>
<text x="135.00" y="56.60" font-size="8.6" text-anchor="middle" textLength="28" lengthAdjust="spacingAndGlyphs">NCOR1</text>
<line x1="151.90" y1="51.00" x2="158.00" y2="44.00" stroke="#111" stroke-width="0.8"/>
<path d="M158.0 44.0L157.2 47.1L155.1 45.3Z" fill="#111"/>
<text x="169.80" y="57.30" font-size="8.6" text-anchor="middle" textLength="28.5" lengthAdjust="spacingAndGlyphs">ARID1A</text>
<line x1="185.70" y1="44.60" x2="185.70" y2="35.00" stroke="#111" stroke-width="0.8"/>
<path d="M185.7 35.0L187.1 37.9L184.3 37.9Z" fill="#111"/>
<text x="217.20" y="54.10" font-size="8.6" text-anchor="middle" textLength="27.1" lengthAdjust="spacingAndGlyphs">HNF4A</text>
<line x1="214.30" y1="46.30" x2="205.20" y2="36.20" stroke="#111" stroke-width="0.8"/>
<path d="M205.2 36.2L208.2 37.4L206.1 39.3Z" fill="#111"/>
<text x="204.80" y="67.80" font-size="8.6" text-anchor="middle" textLength="26.3" lengthAdjust="spacingAndGlyphs">GATA6</text>
<line x1="194.20" y1="59.50" x2="188.90" y2="46.80" stroke="#111" stroke-width="0.8"/>
<path d="M188.9 46.8L191.3 48.9L188.7 50.0Z" fill="#111"/>
<text x="128.60" y="94.70" font-size="8.6" text-anchor="middle" textLength="25.4" lengthAdjust="spacingAndGlyphs">PRMT1</text>
<line x1="144.50" y1="88.00" x2="144.50" y2="81.50" stroke="#111" stroke-width="0.8"/>
<path d="M144.5 81.5L145.9 84.4L143.1 84.4Z" fill="#111"/>
<text x="179.60" y="163.04" font-size="7.6" textLength="41.4" lengthAdjust="spacingAndGlyphs">Significance</text>
<path d="M172.4 170.9h0" stroke="#b8b8b8" stroke-width="2.6" stroke-linecap="round"/>
<text x="179.60" y="173.74" font-size="7.6" textLength="49.6" lengthAdjust="spacingAndGlyphs">Not significant</text>
<path d="M172.4 181.5h0" stroke="#f7aa3a" stroke-width="2.6" stroke-linecap="round"/>
<text x="179.60" y="184.34" font-size="7.6" textLength="36.5" lengthAdjust="spacingAndGlyphs">Significant</text>
<text x="261.8" y="9.1" font-size="13" font-weight="bold" fill="#000">b</text>
<text x="325.40" y="11.34" font-size="9" text-anchor="middle" textLength="73" lengthAdjust="spacingAndGlyphs">PRMT1 ChIP–seq</text>
<text x="296.60" y="21.54" font-size="9" text-anchor="middle" textLength="33.1" lengthAdjust="spacingAndGlyphs">Control</text>
<text x="347.70" y="21.54" font-size="9" text-anchor="middle" textLength="47.7" lengthAdjust="spacingAndGlyphs">HNF4G-KO</text>
<defs><filter id="nzc126_62_168" x="0" y="0" width="1" height="1" color-interpolation-filters="sRGB"><feTurbulence type="fractalNoise" baseFrequency="0.25 1.5" numOctaves="2" seed="4"/><feColorMatrix type="matrix" values="0 0 0 0 0.494 0 0 0 0 0.243 0 0 0 0 0.659 -2 0 0 0 1"/></filter></defs>
<defs><filter id="nzw" x="0" y="0" width="1" height="1" color-interpolation-filters="sRGB"><feTurbulence type="fractalNoise" baseFrequency="0.25 1.5" numOctaves="2" seed="4"/><feColorMatrix type="matrix" values="0 0 0 0 1 0 0 0 0 1 0 0 0 0 1 2 0 0 0 -1"/></filter></defs>
<g><rect x="275.4" y="26.00" width="43.3" height="1.64" fill="#b48fcd"/><rect x="275.4" y="27.49" width="43.3" height="1.64" fill="#b48fcd"/><rect x="275.4" y="28.97" width="43.3" height="1.64" fill="#bb99d1"/><rect x="275.4" y="30.46" width="43.3" height="1.64" fill="#b894cf"/><rect x="275.4" y="31.95" width="43.3" height="1.64" fill="#ba98d0"/><rect x="275.4" y="33.43" width="43.3" height="1.64" fill="#bfa0d4"/><rect x="275.4" y="34.92" width="43.3" height="1.64" fill="#c0a1d5"/><rect x="275.4" y="36.41" width="43.3" height="1.64" fill="#c1a2d5"/><rect x="275.4" y="37.89" width="43.3" height="1.64" fill="#c3a5d6"/><rect x="275.4" y="39.38" width="43.3" height="1.64" fill="#c2a4d6"/><rect x="275.4" y="40.87" width="43.3" height="1.64" fill="#c1a3d6"/><rect x="275.4" y="42.35" width="43.3" height="1.64" fill="#c9aeda"/><rect x="275.4" y="43.84" width="43.3" height="1.64" fill="#c8acda"/><rect x="275.4" y="45.33" width="43.3" height="1.64" fill="#c4a7d7"/><rect x="275.4" y="46.81" width="43.3" height="1.64" fill="#cab0dc"/><rect x="275.4" y="48.30" width="43.3" height="1.64" fill="#c7abd9"/><rect x="275.4" y="49.79" width="43.3" height="1.64" fill="#ccb3dd"/><rect x="275.4" y="51.27" width="43.3" height="1.64" fill="#c9afdb"/><rect x="275.4" y="52.76" width="43.3" height="1.64" fill="#ceb6de"/><rect x="275.4" y="54.25" width="43.3" height="1.64" fill="#cdb4dd"/><rect x="275.4" y="55.73" width="43.3" height="1.64" fill="#cbb1dc"/><rect x="275.4" y="57.22" width="43.3" height="1.64" fill="#ceb6de"/><rect x="275.4" y="58.71" width="43.3" height="1.64" fill="#ccb2dc"/><rect x="275.4" y="60.19" width="43.3" height="1.64" fill="#cdb4dd"/><rect x="275.4" y="61.68" width="43.3" height="1.64" fill="#d1bae0"/><rect x="275.4" y="63.17" width="43.3" height="1.64" fill="#ceb6de"/><rect x="275.4" y="64.65" width="43.3" height="1.64" fill="#d0b9df"/><rect x="275.4" y="66.14" width="43.3" height="1.64" fill="#cfb8df"/><rect x="275.4" y="67.63" width="43.3" height="1.64" fill="#d3bde1"/><rect x="275.4" y="69.11" width="43.3" height="1.64" fill="#d1bae0"/><rect x="275.4" y="70.60" width="43.3" height="1.64" fill="#ceb6de"/><rect x="275.4" y="72.09" width="43.3" height="1.64" fill="#d2bbe0"/><rect x="275.4" y="73.57" width="43.3" height="1.64" fill="#cdb4dd"/><rect x="275.4" y="75.06" width="43.3" height="1.64" fill="#d3bde1"/><rect x="275.4" y="76.55" width="43.3" height="1.64" fill="#d1bae0"/><rect x="275.4" y="78.03" width="43.3" height="1.64" fill="#d4bfe2"/><rect x="275.4" y="79.52" width="43.3" height="1.64" fill="#d0b9df"/><rect x="275.4" y="81.01" width="43.3" height="1.64" fill="#d1bae0"/><rect x="275.4" y="82.49" width="43.3" height="1.64" fill="#d6c1e3"/><rect x="275.4" y="83.98" width="43.3" height="1.64" fill="#d2bce1"/><rect x="275.4" y="85.47" width="43.3" height="1.64" fill="#d0b9df"/><rect x="275.4" y="86.95" width="43.3" height="1.64" fill="#d4bfe2"/><rect x="275.4" y="88.44" width="43.3" height="1.64" fill="#d4bee2"/><rect x="275.4" y="89.93" width="43.3" height="1.64" fill="#d4bfe2"/><rect x="275.4" y="91.41" width="43.3" height="1.64" fill="#d7c3e4"/><rect x="275.4" y="92.90" width="43.3" height="1.64" fill="#d2bbe1"/><rect x="275.4" y="94.39" width="43.3" height="1.64" fill="#d2bce1"/><rect x="275.4" y="95.87" width="43.3" height="1.64" fill="#d2bce1"/><rect x="275.4" y="97.36" width="43.3" height="1.64" fill="#d3bee2"/><rect x="275.4" y="98.85" width="43.3" height="1.64" fill="#d3bde1"/><rect x="275.4" y="100.33" width="43.3" height="1.64" fill="#d6c2e3"/><rect x="275.4" y="101.82" width="43.3" height="1.64" fill="#d3bde1"/><rect x="275.4" y="103.31" width="43.3" height="1.64" fill="#d7c3e4"/><rect x="275.4" y="104.79" width="43.3" height="1.64" fill="#dac7e6"/><rect x="275.4" y="106.28" width="43.3" height="1.64" fill="#d6c2e3"/><rect x="275.4" y="107.77" width="43.3" height="1.64" fill="#d4bee2"/><rect x="275.4" y="109.25" width="43.3" height="1.64" fill="#d4bee2"/><rect x="275.4" y="110.74" width="43.3" height="1.64" fill="#d4bfe2"/><rect x="275.4" y="112.23" width="43.3" height="1.64" fill="#d7c4e4"/><rect x="275.4" y="113.71" width="43.3" height="1.64" fill="#d7c3e4"/><rect x="275.4" y="115.20" width="43.3" height="1.64" fill="#d5c0e2"/><rect x="275.4" y="116.69" width="43.3" height="1.64" fill="#d5c0e3"/><rect x="275.4" y="118.17" width="43.3" height="1.64" fill="#d3bee2"/><rect x="275.4" y="119.66" width="43.3" height="1.64" fill="#d9c5e5"/><rect x="275.4" y="121.15" width="43.3" height="1.64" fill="#d3bee2"/><rect x="275.4" y="122.63" width="43.3" height="1.64" fill="#d8c4e4"/><rect x="275.4" y="124.12" width="43.3" height="1.64" fill="#d9c7e6"/><rect x="275.4" y="125.61" width="43.3" height="1.64" fill="#d4bfe2"/><rect x="275.4" y="127.09" width="43.3" height="1.64" fill="#d5c1e3"/><rect x="275.4" y="128.58" width="43.3" height="1.64" fill="#d9c6e5"/><rect x="275.4" y="130.07" width="43.3" height="1.64" fill="#d7c3e4"/><rect x="275.4" y="131.55" width="43.3" height="1.64" fill="#d4bfe2"/><rect x="275.4" y="133.04" width="43.3" height="1.64" fill="#dac8e6"/><rect x="275.4" y="134.53" width="43.3" height="1.64" fill="#d7c2e4"/><rect x="275.4" y="136.01" width="43.3" height="1.64" fill="#d2bce1"/><rect x="275.4" y="137.50" width="43.3" height="1.64" fill="#d7c3e4"/><rect x="275.4" y="138.99" width="43.3" height="1.64" fill="#d8c5e5"/><rect x="275.4" y="140.47" width="43.3" height="1.64" fill="#d9c6e6"/><rect x="275.4" y="141.96" width="43.3" height="1.64" fill="#d8c5e5"/><rect x="275.4" y="143.45" width="43.3" height="1.64" fill="#d8c4e4"/><rect x="275.4" y="144.93" width="43.3" height="1.64" fill="#dac7e6"/><rect x="275.4" y="146.42" width="43.3" height="1.64" fill="#dbc8e6"/><rect x="275.4" y="147.91" width="43.3" height="1.64" fill="#dac8e6"/><rect x="275.4" y="149.39" width="43.3" height="1.64" fill="#d4bfe2"/><rect x="275.4" y="150.88" width="43.3" height="1.64" fill="#d7c4e4"/><rect x="275.4" y="152.37" width="43.3" height="1.64" fill="#d9c6e5"/><rect x="275.4" y="153.85" width="43.3" height="1.64" fill="#d2bbe1"/><rect x="275.4" y="155.34" width="43.3" height="1.64" fill="#d7c3e4"/><rect x="275.4" y="156.83" width="43.3" height="1.64" fill="#d9c6e5"/><rect x="275.4" y="158.31" width="43.3" height="1.64" fill="#d3bde1"/><rect x="275.4" y="159.80" width="43.3" height="1.64" fill="#dbc9e7"/><rect x="275.4" y="161.29" width="43.3" height="1.64" fill="#dac7e6"/><rect x="275.4" y="162.77" width="43.3" height="1.64" fill="#d9c6e5"/><rect x="275.4" y="164.26" width="43.3" height="1.64" fill="#d7c3e4"/><rect x="275.4" y="165.75" width="43.3" height="1.64" fill="#d7c3e4"/><rect x="275.4" y="167.23" width="43.3" height="1.64" fill="#d5c0e3"/><rect x="275.4" y="168.72" width="43.3" height="1.64" fill="#d6c2e4"/><rect x="275.4" y="170.21" width="43.3" height="1.64" fill="#d5c1e3"/><rect x="275.4" y="171.69" width="43.3" height="1.64" fill="#d5c0e2"/><rect x="275.4" y="173.18" width="43.3" height="1.64" fill="#dac7e6"/><rect x="275.4" y="174.67" width="43.3" height="1.64" fill="#dccbe8"/><rect x="275.4" y="176.15" width="43.3" height="1.64" fill="#d9c6e5"/><rect x="275.4" y="177.64" width="43.3" height="1.64" fill="#d8c4e5"/><rect x="275.4" y="179.13" width="43.3" height="1.64" fill="#d5c0e3"/><rect x="275.4" y="180.61" width="43.3" height="1.64" fill="#dbcae7"/><rect x="275.4" y="182.10" width="43.3" height="1.64" fill="#d9c7e6"/><rect x="275.4" y="183.59" width="43.3" height="1.64" fill="#d9c6e5"/><rect x="275.4" y="185.07" width="43.3" height="1.64" fill="#dac8e6"/><rect x="275.4" y="186.56" width="43.3" height="1.64" fill="#dbc9e7"/><rect x="275.4" y="188.05" width="43.3" height="1.64" fill="#dac7e6"/><rect x="275.4" y="189.53" width="43.3" height="1.64" fill="#dac7e6"/><rect x="275.4" y="191.02" width="43.3" height="1.64" fill="#ddcce8"/><rect x="275.4" y="192.51" width="43.3" height="1.64" fill="#dac7e6"/><rect x="275.4" y="193.99" width="43.3" height="1.64" fill="#d6c2e3"/><rect x="275.4" y="195.48" width="43.3" height="1.64" fill="#dac7e6"/><rect x="275.4" y="196.97" width="43.3" height="1.64" fill="#dac7e6"/><rect x="275.4" y="198.45" width="43.3" height="1.64" fill="#d7c3e4"/><rect x="275.4" y="199.94" width="43.3" height="1.64" fill="#d8c5e5"/><rect x="275.4" y="201.43" width="43.3" height="1.64" fill="#dac8e6"/><rect x="275.4" y="202.91" width="43.3" height="1.64" fill="#dac7e6"/></g>
<defs><filter id="bl0p3_0p2" x="-30%" y="-2%" width="160%" height="104%"><feGaussianBlur stdDeviation="0.3 0.2"/></filter></defs>
<rect x="275.4" y="26.0" width="43.3" height="178.4" filter="url(#nzw)" opacity="0.5"/>
<rect x="275.4" y="26.0" width="43.3" height="178.4" filter="url(#nzc126_62_168)" opacity="0.32"/>
<g filter="url(#bl0p3_0p2)" opacity="0.85"><rect x="294.9" y="26.00" width="3.5" height="1.64" fill="#a77cc4"/><rect x="295.9" y="26.00" width="1.4" height="1.64" fill="#8142aa"/><rect x="294.9" y="27.49" width="3.5" height="1.64" fill="#aa7fc6"/><rect x="295.9" y="27.49" width="1.4" height="1.64" fill="#8b51b1"/><rect x="294.9" y="28.97" width="3.5" height="1.64" fill="#ae86c9"/><rect x="295.9" y="28.97" width="1.4" height="1.64" fill="#894faf"/><rect x="294.9" y="30.46" width="3.5" height="1.64" fill="#ac83c7"/><rect x="295.9" y="30.46" width="1.4" height="1.64" fill="#8a51b0"/><rect x="294.9" y="31.95" width="3.5" height="1.64" fill="#b089ca"/><rect x="295.9" y="31.95" width="1.4" height="1.64" fill="#925cb5"/><rect x="294.9" y="33.43" width="3.5" height="1.64" fill="#b48ecc"/><rect x="295.9" y="33.43" width="1.4" height="1.64" fill="#915ab5"/><rect x="294.9" y="34.92" width="3.5" height="1.64" fill="#b490cd"/><rect x="295.9" y="34.92" width="1.4" height="1.64" fill="#925cb5"/><rect x="294.9" y="36.41" width="3.5" height="1.64" fill="#b48fcd"/><rect x="295.9" y="36.41" width="1.4" height="1.64" fill="#9059b4"/><rect x="294.9" y="37.89" width="3.5" height="1.64" fill="#b692ce"/><rect x="295.9" y="37.89" width="1.4" height="1.64" fill="#915bb5"/><rect x="294.9" y="39.38" width="3.5" height="1.64" fill="#b894cf"/><rect x="295.9" y="39.38" width="1.4" height="1.64" fill="#9865b9"/><rect x="294.9" y="40.87" width="3.5" height="1.64" fill="#b692ce"/><rect x="295.9" y="40.87" width="1.4" height="1.64" fill="#935db6"/><rect x="294.9" y="42.35" width="3.5" height="1.64" fill="#bb9ad1"/><rect x="295.9" y="42.35" width="1.4" height="1.64" fill="#935eb6"/><rect x="294.9" y="43.84" width="3.5" height="1.64" fill="#bc9bd2"/><rect x="295.9" y="43.84" width="1.4" height="1.64" fill="#9865ba"/><rect x="294.9" y="45.33" width="3.5" height="1.64" fill="#b997d0"/><rect x="295.9" y="45.33" width="1.4" height="1.64" fill="#9967ba"/><rect x="294.9" y="46.81" width="3.5" height="1.64" fill="#be9dd3"/><rect x="295.9" y="46.81" width="1.4" height="1.64" fill="#9764b9"/><rect x="294.9" y="48.30" width="3.5" height="1.64" fill="#bc9bd2"/><rect x="295.9" y="48.30" width="1.4" height="1.64" fill="#9b69bb"/><rect x="294.9" y="49.79" width="3.5" height="1.64" fill="#c0a1d5"/><rect x="295.9" y="49.79" width="1.4" height="1.64" fill="#9b69bc"/><rect x="294.9" y="51.27" width="3.5" height="1.64" fill="#be9ed3"/><rect x="295.9" y="51.27" width="1.4" height="1.64" fill="#9d6cbd"/><rect x="294.9" y="52.76" width="3.5" height="1.64" fill="#c2a3d6"/><rect x="295.9" y="52.76" width="1.4" height="1.64" fill="#9c6bbc"/><rect x="294.9" y="54.25" width="3.5" height="1.64" fill="#c1a2d5"/><rect x="295.9" y="54.25" width="1.4" height="1.64" fill="#9d6dbd"/><rect x="294.9" y="55.73" width="3.5" height="1.64" fill="#c0a1d5"/><rect x="295.9" y="55.73" width="1.4" height="1.64" fill="#a173c0"/><rect x="294.9" y="57.22" width="3.5" height="1.64" fill="#c2a4d6"/><rect x="295.9" y="57.22" width="1.4" height="1.64" fill="#9f70be"/><rect x="294.9" y="58.71" width="3.5" height="1.64" fill="#bfa0d4"/><rect x="295.9" y="58.71" width="1.4" height="1.64" fill="#9b69bb"/><rect x="294.9" y="60.19" width="3.5" height="1.64" fill="#c1a2d5"/><rect x="295.9" y="60.19" width="1.4" height="1.64" fill="#9d6cbd"/><rect x="294.9" y="61.68" width="3.5" height="1.64" fill="#c5a8d8"/><rect x="295.9" y="61.68" width="1.4" height="1.64" fill="#a071bf"/><rect x="294.9" y="63.17" width="3.5" height="1.64" fill="#c4a7d7"/><rect x="295.9" y="63.17" width="1.4" height="1.64" fill="#a77cc4"/><rect x="294.9" y="64.65" width="3.5" height="1.64" fill="#c5a9d8"/><rect x="295.9" y="64.65" width="1.4" height="1.64" fill="#a477c2"/><rect x="294.9" y="66.14" width="3.5" height="1.64" fill="#c4a7d7"/><rect x="295.9" y="66.14" width="1.4" height="1.64" fill="#a375c1"/><rect x="294.9" y="67.63" width="3.5" height="1.64" fill="#c6aad9"/><rect x="295.9" y="67.63" width="1.4" height="1.64" fill="#a173c0"/><rect x="294.9" y="69.11" width="3.5" height="1.64" fill="#c5a8d8"/><rect x="295.9" y="69.11" width="1.4" height="1.64" fill="#a172c0"/><rect x="294.9" y="70.60" width="3.5" height="1.64" fill="#c3a5d6"/><rect x="295.9" y="70.60" width="1.4" height="1.64" fill="#a071bf"/><rect x="294.9" y="72.09" width="3.5" height="1.64" fill="#c6aad9"/><rect x="295.9" y="72.09" width="1.4" height="1.64" fill="#a477c2"/><rect x="294.9" y="73.57" width="3.5" height="1.64" fill="#c4a6d7"/><rect x="295.9" y="73.57" width="1.4" height="1.64" fill="#a77bc4"/><rect x="294.9" y="75.06" width="3.5" height="1.64" fill="#c8acda"/><rect x="295.9" y="75.06" width="1.4" height="1.64" fill="#a77cc4"/><rect x="294.9" y="76.55" width="3.5" height="1.64" fill="#c7abd9"/><rect x="295.9" y="76.55" width="1.4" height="1.64" fill="#a87cc4"/><rect x="294.9" y="78.03" width="3.5" height="1.64" fill="#c9aeda"/><rect x="295.9" y="78.03" width="1.4" height="1.64" fill="#a77bc4"/><rect x="294.9" y="79.52" width="3.5" height="1.64" fill="#c6aad9"/><rect x="295.9" y="79.52" width="1.4" height="1.64" fill="#aa80c6"/><rect x="294.9" y="81.01" width="3.5" height="1.64" fill="#c8acda"/><rect x="295.9" y="81.01" width="1.4" height="1.64" fill="#ab82c7"/><rect x="294.9" y="82.49" width="3.5" height="1.64" fill="#c9afdb"/><rect x="295.9" y="82.49" width="1.4" height="1.64" fill="#a477c2"/><rect x="294.9" y="83.98" width="3.5" height="1.64" fill="#c8adda"/><rect x="295.9" y="83.98" width="1.4" height="1.64" fill="#aa80c6"/><rect x="294.9" y="85.47" width="3.5" height="1.64" fill="#c7abd9"/><rect x="295.9" y="85.47" width="1.4" height="1.64" fill="#ab81c6"/><rect x="294.9" y="86.95" width="3.5" height="1.64" fill="#cab0dc"/><rect x="295.9" y="86.95" width="1.4" height="1.64" fill="#ad84c7"/><rect x="294.9" y="88.44" width="3.5" height="1.64" fill="#cab0db"/><rect x="295.9" y="88.44" width="1.4" height="1.64" fill="#ad84c8"/><rect x="294.9" y="89.93" width="3.5" height="1.64" fill="#ccb2dc"/><rect x="295.9" y="89.93" width="1.4" height="1.64" fill="#b18bcb"/><rect x="294.9" y="91.41" width="3.5" height="1.64" fill="#ccb3dd"/><rect x="295.9" y="91.41" width="1.4" height="1.64" fill="#ac82c7"/><rect x="294.9" y="92.90" width="3.5" height="1.64" fill="#c8adda"/><rect x="295.9" y="92.90" width="1.4" height="1.64" fill="#aa80c6"/><rect x="294.9" y="94.39" width="3.5" height="1.64" fill="#caafdb"/><rect x="295.9" y="94.39" width="1.4" height="1.64" fill="#b28bcb"/><rect x="294.9" y="95.87" width="3.5" height="1.64" fill="#caafdb"/><rect x="295.9" y="95.87" width="1.4" height="1.64" fill="#b088ca"/><rect x="294.9" y="97.36" width="3.5" height="1.64" fill="#caafdb"/><rect x="295.9" y="97.36" width="1.4" height="1.64" fill="#ad84c8"/><rect x="294.9" y="98.85" width="3.5" height="1.64" fill="#cbb2dc"/><rect x="295.9" y="98.85" width="1.4" height="1.64" fill="#b48fcc"/><rect x="294.9" y="100.33" width="3.5" height="1.64" fill="#ccb2dc"/><rect x="295.9" y="100.33" width="1.4" height="1.64" fill="#ae85c8"/><rect x="294.9" y="101.82" width="3.5" height="1.64" fill="#c9aedb"/><rect x="295.9" y="101.82" width="1.4" height="1.64" fill="#ac82c7"/><rect x="294.9" y="103.31" width="3.5" height="1.64" fill="#ceb6de"/><rect x="295.9" y="103.31" width="1.4" height="1.64" fill="#b48fcd"/><rect x="294.9" y="104.79" width="3.5" height="1.64" fill="#d0b9df"/><rect x="295.9" y="104.79" width="1.4" height="1.64" fill="#b48ecc"/><rect x="294.9" y="106.28" width="3.5" height="1.64" fill="#cdb4dd"/><rect x="295.9" y="106.28" width="1.4" height="1.64" fill="#b18bcb"/><rect x="294.9" y="107.77" width="3.5" height="1.64" fill="#ccb3dd"/><rect x="295.9" y="107.77" width="1.4" height="1.64" fill="#b692ce"/><rect x="294.9" y="109.25" width="3.5" height="1.64" fill="#cbb1dc"/><rect x="295.9" y="109.25" width="1.4" height="1.64" fill="#b18aca"/><rect x="294.9" y="110.74" width="3.5" height="1.64" fill="#ccb2dc"/><rect x="295.9" y="110.74" width="1.4" height="1.64" fill="#b28ccb"/><rect x="294.9" y="112.23" width="3.5" height="1.64" fill="#ceb5de"/><rect x="295.9" y="112.23" width="1.4" height="1.64" fill="#b18aca"/><rect x="294.9" y="113.71" width="3.5" height="1.64" fill="#cfb7de"/><rect x="295.9" y="113.71" width="1.4" height="1.64" fill="#b692ce"/><rect x="294.9" y="115.20" width="3.5" height="1.64" fill="#ceb5de"/><rect x="295.9" y="115.20" width="1.4" height="1.64" fill="#b996d0"/><rect x="294.9" y="116.69" width="3.5" height="1.64" fill="#ceb5de"/><rect x="295.9" y="116.69" width="1.4" height="1.64" fill="#b894cf"/><rect x="294.9" y="118.17" width="3.5" height="1.64" fill="#ceb5de"/><rect x="295.9" y="118.17" width="1.4" height="1.64" fill="#bd9cd3"/><rect x="294.9" y="119.66" width="3.5" height="1.64" fill="#d1bbe0"/><rect x="295.9" y="119.66" width="1.4" height="1.64" fill="#bc9bd2"/><rect x="294.9" y="121.15" width="3.5" height="1.64" fill="#cdb5de"/><rect x="295.9" y="121.15" width="1.4" height="1.64" fill="#bc9ad1"/><rect x="294.9" y="122.63" width="3.5" height="1.64" fill="#cfb7de"/><rect x="295.9" y="122.63" width="1.4" height="1.64" fill="#b48fcc"/><rect x="294.9" y="124.12" width="3.5" height="1.64" fill="#d1bae0"/><rect x="295.9" y="124.12" width="1.4" height="1.64" fill="#b794cf"/><rect x="294.9" y="125.61" width="3.5" height="1.64" fill="#ccb3dd"/><rect x="295.9" y="125.61" width="1.4" height="1.64" fill="#b48ecc"/><rect x="294.9" y="127.09" width="3.5" height="1.64" fill="#cfb7de"/><rect x="295.9" y="127.09" width="1.4" height="1.64" fill="#ba98d1"/><rect x="294.9" y="128.58" width="3.5" height="1.64" fill="#d2bbe0"/><rect x="295.9" y="128.58" width="1.4" height="1.64" fill="#bb99d1"/><rect x="294.9" y="130.07" width="3.5" height="1.64" fill="#d0b9df"/><rect x="295.9" y="130.07" width="1.4" height="1.64" fill="#bb99d1"/><rect x="294.9" y="131.55" width="3.5" height="1.64" fill="#cfb7de"/><rect x="295.9" y="131.55" width="1.4" height="1.64" fill="#be9ed3"/><rect x="294.9" y="133.04" width="3.5" height="1.64" fill="#d4bfe2"/><rect x="295.9" y="133.04" width="1.4" height="1.64" fill="#c2a4d6"/><rect x="294.9" y="134.53" width="3.5" height="1.64" fill="#d0b8df"/><rect x="295.9" y="134.53" width="1.4" height="1.64" fill="#bb9ad1"/><rect x="294.9" y="136.01" width="3.5" height="1.64" fill="#ccb3dd"/><rect x="295.9" y="136.01" width="1.4" height="1.64" fill="#b996d0"/><rect x="294.9" y="137.50" width="3.5" height="1.64" fill="#d2bce1"/><rect x="295.9" y="137.50" width="1.4" height="1.64" fill="#c3a5d7"/><rect x="294.9" y="138.99" width="3.5" height="1.64" fill="#d2bce1"/><rect x="295.9" y="138.99" width="1.4" height="1.64" fill="#c0a1d5"/><rect x="294.9" y="140.47" width="3.5" height="1.64" fill="#d1bae0"/><rect x="295.9" y="140.47" width="1.4" height="1.64" fill="#b895cf"/><rect x="294.9" y="141.96" width="3.5" height="1.64" fill="#d2bce1"/><rect x="295.9" y="141.96" width="1.4" height="1.64" fill="#c0a1d5"/><rect x="294.9" y="143.45" width="3.5" height="1.64" fill="#d1bae0"/><rect x="295.9" y="143.45" width="1.4" height="1.64" fill="#bd9dd3"/><rect x="294.9" y="144.93" width="3.5" height="1.64" fill="#d4bee2"/><rect x="295.9" y="144.93" width="1.4" height="1.64" fill="#c2a4d6"/><rect x="294.9" y="146.42" width="3.5" height="1.64" fill="#d3bee2"/><rect x="295.9" y="146.42" width="1.4" height="1.64" fill="#be9ed3"/><rect x="294.9" y="147.91" width="3.5" height="1.64" fill="#d4bee2"/><rect x="295.9" y="147.91" width="1.4" height="1.64" fill="#c0a0d4"/><rect x="294.9" y="149.39" width="3.5" height="1.64" fill="#d1bae0"/><rect x="295.9" y="149.39" width="1.4" height="1.64" fill="#c6aad9"/><rect x="294.9" y="150.88" width="3.5" height="1.64" fill="#d1bae0"/><rect x="295.9" y="150.88" width="1.4" height="1.64" fill="#be9ed3"/><rect x="294.9" y="152.37" width="3.5" height="1.64" fill="#d4bfe2"/><rect x="295.9" y="152.37" width="1.4" height="1.64" fill="#c8acda"/><rect x="294.9" y="153.85" width="3.5" height="1.64" fill="#ceb5de"/><rect x="295.9" y="153.85" width="1.4" height="1.64" fill="#c2a4d6"/><rect x="294.9" y="155.34" width="3.5" height="1.64" fill="#d2bce1"/><rect x="295.9" y="155.34" width="1.4" height="1.64" fill="#c4a7d7"/><rect x="294.9" y="156.83" width="3.5" height="1.64" fill="#d2bce1"/><rect x="295.9" y="156.83" width="1.4" height="1.64" fill="#bf9fd4"/><rect x="294.9" y="158.31" width="3.5" height="1.64" fill="#ceb6de"/><rect x="295.9" y="158.31" width="1.4" height="1.64" fill="#c0a1d5"/><rect x="294.9" y="159.80" width="3.5" height="1.64" fill="#d5bfe2"/><rect x="295.9" y="159.80" width="1.4" height="1.64" fill="#c2a4d6"/><rect x="294.9" y="161.29" width="3.5" height="1.64" fill="#d2bce1"/><rect x="295.9" y="161.29" width="1.4" height="1.64" fill="#bc9ad2"/><rect x="294.9" y="162.77" width="3.5" height="1.64" fill="#d5c0e3"/><rect x="295.9" y="162.77" width="1.4" height="1.64" fill="#c9afdb"/><rect x="294.9" y="164.26" width="3.5" height="1.64" fill="#d2bce1"/><rect x="295.9" y="164.26" width="1.4" height="1.64" fill="#c5a8d8"/><rect x="294.9" y="165.75" width="3.5" height="1.64" fill="#d1bbe0"/><rect x="295.9" y="165.75" width="1.4" height="1.64" fill="#c0a1d5"/><rect x="294.9" y="167.23" width="3.5" height="1.64" fill="#d1bae0"/><rect x="295.9" y="167.23" width="1.4" height="1.64" fill="#c4a7d8"/><rect x="294.9" y="168.72" width="3.5" height="1.64" fill="#d2bce1"/><rect x="295.9" y="168.72" width="1.4" height="1.64" fill="#c5a8d8"/><rect x="294.9" y="170.21" width="3.5" height="1.64" fill="#d2bbe1"/><rect x="295.9" y="170.21" width="1.4" height="1.64" fill="#c7abd9"/><rect x="294.9" y="171.69" width="3.5" height="1.64" fill="#d1bbe0"/><rect x="295.9" y="171.69" width="1.4" height="1.64" fill="#c8acda"/><rect x="294.9" y="173.18" width="3.5" height="1.64" fill="#d5c1e3"/><rect x="295.9" y="173.18" width="1.4" height="1.64" fill="#c8adda"/><rect x="294.9" y="174.67" width="3.5" height="1.64" fill="#d7c3e4"/><rect x="295.9" y="174.67" width="1.4" height="1.64" fill="#c6aad9"/><rect x="294.9" y="176.15" width="3.5" height="1.64" fill="#d5c1e3"/><rect x="295.9" y="176.15" width="1.4" height="1.64" fill="#cbb2dc"/><rect x="294.9" y="177.64" width="3.5" height="1.64" fill="#d2bce1"/><rect x="295.9" y="177.64" width="1.4" height="1.64" fill="#c2a4d6"/><rect x="294.9" y="179.13" width="3.5" height="1.64" fill="#d1bbe0"/><rect x="295.9" y="179.13" width="1.4" height="1.64" fill="#c6aad9"/><rect x="294.9" y="180.61" width="3.5" height="1.64" fill="#d6c2e3"/><rect x="295.9" y="180.61" width="1.4" height="1.64" fill="#c6aad9"/><rect x="294.9" y="182.10" width="3.5" height="1.64" fill="#d5c0e3"/><rect x="295.9" y="182.10" width="1.4" height="1.64" fill="#c8adda"/><rect x="294.9" y="183.59" width="3.5" height="1.64" fill="#d4bfe2"/><rect x="295.9" y="183.59" width="1.4" height="1.64" fill="#c7abd9"/><rect x="294.9" y="185.07" width="3.5" height="1.64" fill="#d5c1e3"/><rect x="295.9" y="185.07" width="1.4" height="1.64" fill="#c8adda"/><rect x="294.9" y="186.56" width="3.5" height="1.64" fill="#d7c3e4"/><rect x="295.9" y="186.56" width="1.4" height="1.64" fill="#cbb2dc"/><rect x="294.9" y="188.05" width="3.5" height="1.64" fill="#d5c0e2"/><rect x="295.9" y="188.05" width="1.4" height="1.64" fill="#c6aad9"/><rect x="294.9" y="189.53" width="3.5" height="1.64" fill="#d6c2e4"/><rect x="295.9" y="189.53" width="1.4" height="1.64" fill="#ccb2dc"/><rect x="294.9" y="191.02" width="3.5" height="1.64" fill="#d7c3e4"/><rect x="295.9" y="191.02" width="1.4" height="1.64" fill="#c4a6d7"/><rect x="294.9" y="192.51" width="3.5" height="1.64" fill="#d6c1e3"/><rect x="295.9" y="192.51" width="1.4" height="1.64" fill="#c9afdb"/><rect x="294.9" y="193.99" width="3.5" height="1.64" fill="#d3bde1"/><rect x="295.9" y="193.99" width="1.4" height="1.64" fill="#c9afdb"/><rect x="294.9" y="195.48" width="3.5" height="1.64" fill="#d6c2e3"/><rect x="295.9" y="195.48" width="1.4" height="1.64" fill="#cbb1dc"/><rect x="294.9" y="196.97" width="3.5" height="1.64" fill="#d7c3e4"/><rect x="295.9" y="196.97" width="1.4" height="1.64" fill="#cfb7df"/><rect x="294.9" y="198.45" width="3.5" height="1.64" fill="#d5c0e3"/><rect x="295.9" y="198.45" width="1.4" height="1.64" fill="#d0b8df"/><rect x="294.9" y="199.94" width="3.5" height="1.64" fill="#d5c0e3"/><rect x="295.9" y="199.94" width="1.4" height="1.64" fill="#cdb4dd"/><rect x="294.9" y="201.43" width="3.5" height="1.64" fill="#d6c1e3"/><rect x="295.9" y="201.43" width="1.4" height="1.64" fill="#caafdb"/><rect x="294.9" y="202.91" width="3.5" height="1.64" fill="#d7c3e4"/><rect x="295.9" y="202.91" width="1.4" height="1.64" fill="#d0b8df"/></g>
<g><rect x="328.1" y="26.00" width="42.4" height="1.64" fill="#ae86c9"/><rect x="328.1" y="27.49" width="42.4" height="1.64" fill="#ac83c7"/><rect x="328.1" y="28.97" width="42.4" height="1.64" fill="#b38dcc"/><rect x="328.1" y="30.46" width="42.4" height="1.64" fill="#b089ca"/><rect x="328.1" y="31.95" width="42.4" height="1.64" fill="#be9dd3"/><rect x="328.1" y="33.43" width="42.4" height="1.64" fill="#bb99d1"/><rect x="328.1" y="34.92" width="42.4" height="1.64" fill="#bd9cd2"/><rect x="328.1" y="36.41" width="42.4" height="1.64" fill="#c4a7d7"/><rect x="328.1" y="37.89" width="42.4" height="1.64" fill="#c2a4d6"/><rect x="328.1" y="39.38" width="42.4" height="1.64" fill="#c5a9d8"/><rect x="328.1" y="40.87" width="42.4" height="1.64" fill="#c8adda"/><rect x="328.1" y="42.35" width="42.4" height="1.64" fill="#cab0db"/><rect x="328.1" y="43.84" width="42.4" height="1.64" fill="#c8adda"/><rect x="328.1" y="45.33" width="42.4" height="1.64" fill="#c8acda"/><rect x="328.1" y="46.81" width="42.4" height="1.64" fill="#cbb1dc"/><rect x="328.1" y="48.30" width="42.4" height="1.64" fill="#ccb3dd"/><rect x="328.1" y="49.79" width="42.4" height="1.64" fill="#ceb5de"/><rect x="328.1" y="51.27" width="42.4" height="1.64" fill="#ccb3dd"/><rect x="328.1" y="52.76" width="42.4" height="1.64" fill="#ccb3dd"/><rect x="328.1" y="54.25" width="42.4" height="1.64" fill="#cdb3dd"/><rect x="328.1" y="55.73" width="42.4" height="1.64" fill="#d0b8df"/><rect x="328.1" y="57.22" width="42.4" height="1.64" fill="#d2bce1"/><rect x="328.1" y="58.71" width="42.4" height="1.64" fill="#d1bbe0"/><rect x="328.1" y="60.19" width="42.4" height="1.64" fill="#d4bfe2"/><rect x="328.1" y="61.68" width="42.4" height="1.64" fill="#d1bbe0"/><rect x="328.1" y="63.17" width="42.4" height="1.64" fill="#d2bbe1"/><rect x="328.1" y="64.65" width="42.4" height="1.64" fill="#d7c3e4"/><rect x="328.1" y="66.14" width="42.4" height="1.64" fill="#d7c3e4"/><rect x="328.1" y="67.63" width="42.4" height="1.64" fill="#d3bee2"/><rect x="328.1" y="69.11" width="42.4" height="1.64" fill="#d6c1e3"/><rect x="328.1" y="70.60" width="42.4" height="1.64" fill="#d4bee2"/><rect x="328.1" y="72.09" width="42.4" height="1.64" fill="#d7c3e4"/><rect x="328.1" y="73.57" width="42.4" height="1.64" fill="#d1bae0"/><rect x="328.1" y="75.06" width="42.4" height="1.64" fill="#d9c5e5"/><rect x="328.1" y="76.55" width="42.4" height="1.64" fill="#d1bbe0"/><rect x="328.1" y="78.03" width="42.4" height="1.64" fill="#d4bfe2"/><rect x="328.1" y="79.52" width="42.4" height="1.64" fill="#cfb8df"/><rect x="328.1" y="81.01" width="42.4" height="1.64" fill="#dac7e6"/><rect x="328.1" y="82.49" width="42.4" height="1.64" fill="#dac8e6"/><rect x="328.1" y="83.98" width="42.4" height="1.64" fill="#d5c1e3"/><rect x="328.1" y="85.47" width="42.4" height="1.64" fill="#d6c1e3"/><rect x="328.1" y="86.95" width="42.4" height="1.64" fill="#d5c0e2"/><rect x="328.1" y="88.44" width="42.4" height="1.64" fill="#d3bde1"/><rect x="328.1" y="89.93" width="42.4" height="1.64" fill="#d8c5e5"/><rect x="328.1" y="91.41" width="42.4" height="1.64" fill="#d7c3e4"/><rect x="328.1" y="92.90" width="42.4" height="1.64" fill="#d4bfe2"/><rect x="328.1" y="94.39" width="42.4" height="1.64" fill="#d6c2e3"/><rect x="328.1" y="95.87" width="42.4" height="1.64" fill="#d3bde1"/><rect x="328.1" y="97.36" width="42.4" height="1.64" fill="#d5c0e3"/><rect x="328.1" y="98.85" width="42.4" height="1.64" fill="#d1bae0"/><rect x="328.1" y="100.33" width="42.4" height="1.64" fill="#d9c6e5"/><rect x="328.1" y="101.82" width="42.4" height="1.64" fill="#d2bce1"/><rect x="328.1" y="103.31" width="42.4" height="1.64" fill="#dac8e6"/><rect x="328.1" y="104.79" width="42.4" height="1.64" fill="#d4bfe2"/><rect x="328.1" y="106.28" width="42.4" height="1.64" fill="#d7c3e4"/><rect x="328.1" y="107.77" width="42.4" height="1.64" fill="#d2bbe0"/><rect x="328.1" y="109.25" width="42.4" height="1.64" fill="#d8c4e4"/><rect x="328.1" y="110.74" width="42.4" height="1.64" fill="#d8c5e5"/><rect x="328.1" y="112.23" width="42.4" height="1.64" fill="#dccbe7"/><rect x="328.1" y="113.71" width="42.4" height="1.64" fill="#d3bee2"/><rect x="328.1" y="115.20" width="42.4" height="1.64" fill="#dac8e6"/><rect x="328.1" y="116.69" width="42.4" height="1.64" fill="#d6c2e3"/><rect x="328.1" y="118.17" width="42.4" height="1.64" fill="#d8c4e4"/><rect x="328.1" y="119.66" width="42.4" height="1.64" fill="#d7c3e4"/><rect x="328.1" y="121.15" width="42.4" height="1.64" fill="#d8c5e5"/><rect x="328.1" y="122.63" width="42.4" height="1.64" fill="#d4bfe2"/><rect x="328.1" y="124.12" width="42.4" height="1.64" fill="#d6c1e3"/><rect x="328.1" y="125.61" width="42.4" height="1.64" fill="#d5c1e3"/><rect x="328.1" y="127.09" width="42.4" height="1.64" fill="#d2bbe0"/><rect x="328.1" y="128.58" width="42.4" height="1.64" fill="#ddcbe8"/><rect x="328.1" y="130.07" width="42.4" height="1.64" fill="#d6c2e3"/><rect x="328.1" y="131.55" width="42.4" height="1.64" fill="#d7c2e4"/><rect x="328.1" y="133.04" width="42.4" height="1.64" fill="#dccae7"/><rect x="328.1" y="134.53" width="42.4" height="1.64" fill="#d9c7e6"/><rect x="328.1" y="136.01" width="42.4" height="1.64" fill="#d7c3e4"/><rect x="328.1" y="137.50" width="42.4" height="1.64" fill="#d9c7e6"/><rect x="328.1" y="138.99" width="42.4" height="1.64" fill="#dac7e6"/><rect x="328.1" y="140.47" width="42.4" height="1.64" fill="#dac8e6"/><rect x="328.1" y="141.96" width="42.4" height="1.64" fill="#dac7e6"/><rect x="328.1" y="143.45" width="42.4" height="1.64" fill="#d6c2e4"/><rect x="328.1" y="144.93" width="42.4" height="1.64" fill="#d9c7e6"/><rect x="328.1" y="146.42" width="42.4" height="1.64" fill="#d7c3e4"/><rect x="328.1" y="147.91" width="42.4" height="1.64" fill="#dac7e6"/><rect x="328.1" y="149.39" width="42.4" height="1.64" fill="#dbc9e7"/><rect x="328.1" y="150.88" width="42.4" height="1.64" fill="#dbcae7"/><rect x="328.1" y="152.37" width="42.4" height="1.64" fill="#d9c6e5"/><rect x="328.1" y="153.85" width="42.4" height="1.64" fill="#d8c4e5"/><rect x="328.1" y="155.34" width="42.4" height="1.64" fill="#d6c2e3"/><rect x="328.1" y="156.83" width="42.4" height="1.64" fill="#d9c6e5"/><rect x="328.1" y="158.31" width="42.4" height="1.64" fill="#d7c4e4"/><rect x="328.1" y="159.80" width="42.4" height="1.64" fill="#d7c3e4"/><rect x="328.1" y="161.29" width="42.4" height="1.64" fill="#dac7e6"/><rect x="328.1" y="162.77" width="42.4" height="1.64" fill="#ddcce8"/><rect x="328.1" y="164.26" width="42.4" height="1.64" fill="#d9c6e5"/><rect x="328.1" y="165.75" width="42.4" height="1.64" fill="#d9c6e5"/><rect x="328.1" y="167.23" width="42.4" height="1.64" fill="#d7c4e4"/><rect x="328.1" y="168.72" width="42.4" height="1.64" fill="#dac8e6"/><rect x="328.1" y="170.21" width="42.4" height="1.64" fill="#dbcae7"/><rect x="328.1" y="171.69" width="42.4" height="1.64" fill="#dbcae7"/><rect x="328.1" y="173.18" width="42.4" height="1.64" fill="#d7c3e4"/><rect x="328.1" y="174.67" width="42.4" height="1.64" fill="#dac8e6"/><rect x="328.1" y="176.15" width="42.4" height="1.64" fill="#dbc9e7"/><rect x="328.1" y="177.64" width="42.4" height="1.64" fill="#decde8"/><rect x="328.1" y="179.13" width="42.4" height="1.64" fill="#d8c5e5"/><rect x="328.1" y="180.61" width="42.4" height="1.64" fill="#dccae7"/><rect x="328.1" y="182.10" width="42.4" height="1.64" fill="#d6c2e4"/><rect x="328.1" y="183.59" width="42.4" height="1.64" fill="#d9c6e5"/><rect x="328.1" y="185.07" width="42.4" height="1.64" fill="#dccbe8"/><rect x="328.1" y="186.56" width="42.4" height="1.64" fill="#decde9"/><rect x="328.1" y="188.05" width="42.4" height="1.64" fill="#d9c7e6"/><rect x="328.1" y="189.53" width="42.4" height="1.64" fill="#dac7e6"/><rect x="328.1" y="191.02" width="42.4" height="1.64" fill="#dbc9e7"/><rect x="328.1" y="192.51" width="42.4" height="1.64" fill="#d7c3e4"/><rect x="328.1" y="193.99" width="42.4" height="1.64" fill="#d8c4e5"/><rect x="328.1" y="195.48" width="42.4" height="1.64" fill="#dbc9e7"/><rect x="328.1" y="196.97" width="42.4" height="1.64" fill="#ddcde8"/><rect x="328.1" y="198.45" width="42.4" height="1.64" fill="#d5c1e3"/><rect x="328.1" y="199.94" width="42.4" height="1.64" fill="#e0d0ea"/><rect x="328.1" y="201.43" width="42.4" height="1.64" fill="#dbc9e7"/><rect x="328.1" y="202.91" width="42.4" height="1.64" fill="#dfcfe9"/></g>
<rect x="328.1" y="26.0" width="42.4" height="178.4" filter="url(#nzw)" opacity="0.5"/>
<rect x="328.1" y="26.0" width="42.4" height="178.4" filter="url(#nzc126_62_168)" opacity="0.32"/>
<g filter="url(#bl0p3_0p2)" opacity="0.85"><rect x="346.4" y="26.00" width="3.5" height="1.64" fill="#a87dc5"/><rect x="347.6" y="26.00" width="1.3" height="1.64" fill="#9764b9"/><rect x="346.4" y="27.49" width="3.5" height="1.64" fill="#a579c2"/><rect x="347.6" y="27.49" width="1.3" height="1.64" fill="#9059b4"/><rect x="346.4" y="28.97" width="3.5" height="1.64" fill="#ab82c6"/><rect x="347.6" y="28.97" width="1.3" height="1.64" fill="#945fb7"/><rect x="346.4" y="30.46" width="3.5" height="1.64" fill="#a97fc5"/><rect x="347.6" y="30.46" width="1.3" height="1.64" fill="#9560b7"/><rect x="346.4" y="31.95" width="3.5" height="1.64" fill="#b692ce"/><rect x="347.6" y="31.95" width="1.3" height="1.64" fill="#9f6fbe"/><rect x="346.4" y="33.43" width="3.5" height="1.64" fill="#b28ccb"/><rect x="347.6" y="33.43" width="1.3" height="1.64" fill="#9865ba"/><rect x="346.4" y="34.92" width="3.5" height="1.64" fill="#b48ecc"/><rect x="347.6" y="34.92" width="1.3" height="1.64" fill="#9966ba"/><rect x="346.4" y="36.41" width="3.5" height="1.64" fill="#ba98d1"/><rect x="347.6" y="36.41" width="1.3" height="1.64" fill="#9c6bbc"/><rect x="346.4" y="37.89" width="3.5" height="1.64" fill="#b895cf"/><rect x="347.6" y="37.89" width="1.3" height="1.64" fill="#9b69bc"/><rect x="346.4" y="39.38" width="3.5" height="1.64" fill="#bb9ad1"/><rect x="347.6" y="39.38" width="1.3" height="1.64" fill="#9e6dbd"/><rect x="346.4" y="40.87" width="3.5" height="1.64" fill="#bb99d1"/><rect x="347.6" y="40.87" width="1.3" height="1.64" fill="#9560b7"/><rect x="346.4" y="42.35" width="3.5" height="1.64" fill="#bfa0d4"/><rect x="347.6" y="42.35" width="1.3" height="1.64" fill="#9e6ebe"/><rect x="346.4" y="43.84" width="3.5" height="1.64" fill="#bd9cd2"/><rect x="347.6" y="43.84" width="1.3" height="1.64" fill="#9b6abc"/><rect x="346.4" y="45.33" width="3.5" height="1.64" fill="#bc9bd2"/><rect x="347.6" y="45.33" width="1.3" height="1.64" fill="#9a68bb"/><rect x="346.4" y="46.81" width="3.5" height="1.64" fill="#c0a1d5"/><rect x="347.6" y="46.81" width="1.3" height="1.64" fill="#a274c0"/><rect x="346.4" y="48.30" width="3.5" height="1.64" fill="#bf9fd4"/><rect x="347.6" y="48.30" width="1.3" height="1.64" fill="#9864b9"/><rect x="346.4" y="49.79" width="3.5" height="1.64" fill="#c2a4d6"/><rect x="347.6" y="49.79" width="1.3" height="1.64" fill="#9f6fbe"/><rect x="346.4" y="51.27" width="3.5" height="1.64" fill="#c0a1d5"/><rect x="347.6" y="51.27" width="1.3" height="1.64" fill="#9d6dbd"/><rect x="346.4" y="52.76" width="3.5" height="1.64" fill="#c1a2d5"/><rect x="347.6" y="52.76" width="1.3" height="1.64" fill="#9e6ebe"/><rect x="346.4" y="54.25" width="3.5" height="1.64" fill="#c1a2d5"/><rect x="347.6" y="54.25" width="1.3" height="1.64" fill="#9d6cbd"/><rect x="346.4" y="55.73" width="3.5" height="1.64" fill="#c2a4d6"/><rect x="347.6" y="55.73" width="1.3" height="1.64" fill="#9b6abc"/><rect x="346.4" y="57.22" width="3.5" height="1.64" fill="#c6aad8"/><rect x="347.6" y="57.22" width="1.3" height="1.64" fill="#a172c0"/><rect x="346.4" y="58.71" width="3.5" height="1.64" fill="#c4a7d7"/><rect x="347.6" y="58.71" width="1.3" height="1.64" fill="#9d6cbd"/><rect x="346.4" y="60.19" width="3.5" height="1.64" fill="#c7abd9"/><rect x="347.6" y="60.19" width="1.3" height="1.64" fill="#9f70be"/><rect x="346.4" y="61.68" width="3.5" height="1.64" fill="#c6a9d8"/><rect x="347.6" y="61.68" width="1.3" height="1.64" fill="#a375c1"/><rect x="346.4" y="63.17" width="3.5" height="1.64" fill="#c6a9d8"/><rect x="347.6" y="63.17" width="1.3" height="1.64" fill="#a172bf"/><rect x="346.4" y="64.65" width="3.5" height="1.64" fill="#c9afdb"/><rect x="347.6" y="64.65" width="1.3" height="1.64" fill="#a071bf"/><rect x="346.4" y="66.14" width="3.5" height="1.64" fill="#cab0db"/><rect x="347.6" y="66.14" width="1.3" height="1.64" fill="#a578c2"/><rect x="346.4" y="67.63" width="3.5" height="1.64" fill="#c8adda"/><rect x="347.6" y="67.63" width="1.3" height="1.64" fill="#a679c3"/><rect x="346.4" y="69.11" width="3.5" height="1.64" fill="#caafdb"/><rect x="347.6" y="69.11" width="1.3" height="1.64" fill="#a67ac3"/><rect x="346.4" y="70.60" width="3.5" height="1.64" fill="#c9aeda"/><rect x="347.6" y="70.60" width="1.3" height="1.64" fill="#a87ec5"/><rect x="346.4" y="72.09" width="3.5" height="1.64" fill="#caafdb"/><rect x="347.6" y="72.09" width="1.3" height="1.64" fill="#a274c0"/><rect x="346.4" y="73.57" width="3.5" height="1.64" fill="#c6aad9"/><rect x="347.6" y="73.57" width="1.3" height="1.64" fill="#a579c3"/><rect x="346.4" y="75.06" width="3.5" height="1.64" fill="#cdb4dd"/><rect x="347.6" y="75.06" width="1.3" height="1.64" fill="#a97ec5"/><rect x="346.4" y="76.55" width="3.5" height="1.64" fill="#c5a9d8"/><rect x="347.6" y="76.55" width="1.3" height="1.64" fill="#a274c0"/><rect x="346.4" y="78.03" width="3.5" height="1.64" fill="#c9afdb"/><rect x="347.6" y="78.03" width="1.3" height="1.64" fill="#a97ec5"/><rect x="346.4" y="79.52" width="3.5" height="1.64" fill="#c4a7d7"/><rect x="347.6" y="79.52" width="1.3" height="1.64" fill="#a376c1"/><rect x="346.4" y="81.01" width="3.5" height="1.64" fill="#ceb5de"/><rect x="347.6" y="81.01" width="1.3" height="1.64" fill="#a97fc5"/><rect x="346.4" y="82.49" width="3.5" height="1.64" fill="#cdb4dd"/><rect x="347.6" y="82.49" width="1.3" height="1.64" fill="#a578c2"/><rect x="346.4" y="83.98" width="3.5" height="1.64" fill="#c9afdb"/><rect x="347.6" y="83.98" width="1.3" height="1.64" fill="#a67ac3"/><rect x="346.4" y="85.47" width="3.5" height="1.64" fill="#cab0db"/><rect x="347.6" y="85.47" width="1.3" height="1.64" fill="#a67ac3"/><rect x="346.4" y="86.95" width="3.5" height="1.64" fill="#cbb1dc"/><rect x="347.6" y="86.95" width="1.3" height="1.64" fill="#ad84c7"/><rect x="346.4" y="88.44" width="3.5" height="1.64" fill="#c7abd9"/><rect x="347.6" y="88.44" width="1.3" height="1.64" fill="#a375c1"/><rect x="346.4" y="89.93" width="3.5" height="1.64" fill="#ccb2dc"/><rect x="347.6" y="89.93" width="1.3" height="1.64" fill="#a67ac3"/><rect x="346.4" y="91.41" width="3.5" height="1.64" fill="#cab0db"/><rect x="347.6" y="91.41" width="1.3" height="1.64" fill="#a477c2"/><rect x="346.4" y="92.90" width="3.5" height="1.64" fill="#c8adda"/><rect x="347.6" y="92.90" width="1.3" height="1.64" fill="#a478c2"/><rect x="346.4" y="94.39" width="3.5" height="1.64" fill="#cbb2dc"/><rect x="347.6" y="94.39" width="1.3" height="1.64" fill="#ab81c6"/><rect x="346.4" y="95.87" width="3.5" height="1.64" fill="#c9aedb"/><rect x="347.6" y="95.87" width="1.3" height="1.64" fill="#aa81c6"/><rect x="346.4" y="97.36" width="3.5" height="1.64" fill="#c9aedb"/><rect x="347.6" y="97.36" width="1.3" height="1.64" fill="#a67ac3"/><rect x="346.4" y="98.85" width="3.5" height="1.64" fill="#c6a9d8"/><rect x="347.6" y="98.85" width="1.3" height="1.64" fill="#a476c1"/><rect x="346.4" y="100.33" width="3.5" height="1.64" fill="#cdb5dd"/><rect x="347.6" y="100.33" width="1.3" height="1.64" fill="#aa80c6"/><rect x="346.4" y="101.82" width="3.5" height="1.64" fill="#c8adda"/><rect x="347.6" y="101.82" width="1.3" height="1.64" fill="#ab81c6"/><rect x="346.4" y="103.31" width="3.5" height="1.64" fill="#cdb5de"/><rect x="347.6" y="103.31" width="1.3" height="1.64" fill="#a77bc3"/><rect x="346.4" y="104.79" width="3.5" height="1.64" fill="#c9aeda"/><rect x="347.6" y="104.79" width="1.3" height="1.64" fill="#a67ac3"/><rect x="346.4" y="106.28" width="3.5" height="1.64" fill="#cbb2dc"/><rect x="347.6" y="106.28" width="1.3" height="1.64" fill="#a97ec5"/><rect x="346.4" y="107.77" width="3.5" height="1.64" fill="#c8acda"/><rect x="347.6" y="107.77" width="1.3" height="1.64" fill="#aa7fc5"/><rect x="346.4" y="109.25" width="3.5" height="1.64" fill="#ccb3dd"/><rect x="347.6" y="109.25" width="1.3" height="1.64" fill="#a97fc5"/><rect x="346.4" y="110.74" width="3.5" height="1.64" fill="#ccb3dd"/><rect x="347.6" y="110.74" width="1.3" height="1.64" fill="#a97ec5"/><rect x="346.4" y="112.23" width="3.5" height="1.64" fill="#cfb8df"/><rect x="347.6" y="112.23" width="1.3" height="1.64" fill="#aa80c6"/><rect x="346.4" y="113.71" width="3.5" height="1.64" fill="#c9aeda"/><rect x="347.6" y="113.71" width="1.3" height="1.64" fill="#a97ec5"/><rect x="346.4" y="115.20" width="3.5" height="1.64" fill="#cdb4dd"/><rect x="347.6" y="115.20" width="1.3" height="1.64" fill="#a578c2"/><rect x="346.4" y="116.69" width="3.5" height="1.64" fill="#c9aedb"/><rect x="347.6" y="116.69" width="1.3" height="1.64" fill="#a275c1"/><rect x="346.4" y="118.17" width="3.5" height="1.64" fill="#ccb3dd"/><rect x="347.6" y="118.17" width="1.3" height="1.64" fill="#a97ec5"/><rect x="346.4" y="119.66" width="3.5" height="1.64" fill="#cbb1dc"/><rect x="347.6" y="119.66" width="1.3" height="1.64" fill="#a67bc3"/><rect x="346.4" y="121.15" width="3.5" height="1.64" fill="#ceb6de"/><rect x="347.6" y="121.15" width="1.3" height="1.64" fill="#b088c9"/><rect x="346.4" y="122.63" width="3.5" height="1.64" fill="#cab0db"/><rect x="347.6" y="122.63" width="1.3" height="1.64" fill="#ac83c7"/><rect x="346.4" y="124.12" width="3.5" height="1.64" fill="#c9afdb"/><rect x="347.6" y="124.12" width="1.3" height="1.64" fill="#a578c2"/><rect x="346.4" y="125.61" width="3.5" height="1.64" fill="#c9afdb"/><rect x="347.6" y="125.61" width="1.3" height="1.64" fill="#a579c3"/><rect x="346.4" y="127.09" width="3.5" height="1.64" fill="#c8adda"/><rect x="347.6" y="127.09" width="1.3" height="1.64" fill="#ad84c8"/><rect x="346.4" y="128.58" width="3.5" height="1.64" fill="#d1bae0"/><rect x="347.6" y="128.58" width="1.3" height="1.64" fill="#af87c9"/><rect x="346.4" y="130.07" width="3.5" height="1.64" fill="#cdb4dd"/><rect x="347.6" y="130.07" width="1.3" height="1.64" fill="#b28ccb"/><rect x="346.4" y="131.55" width="3.5" height="1.64" fill="#ccb2dc"/><rect x="347.6" y="131.55" width="1.3" height="1.64" fill="#ab81c6"/><rect x="346.4" y="133.04" width="3.5" height="1.64" fill="#d1bae0"/><rect x="347.6" y="133.04" width="1.3" height="1.64" fill="#af88c9"/><rect x="346.4" y="134.53" width="3.5" height="1.64" fill="#ceb6de"/><rect x="347.6" y="134.53" width="1.3" height="1.64" fill="#ac83c7"/><rect x="346.4" y="136.01" width="3.5" height="1.64" fill="#cdb4dd"/><rect x="347.6" y="136.01" width="1.3" height="1.64" fill="#ae85c8"/><rect x="346.4" y="137.50" width="3.5" height="1.64" fill="#cfb7df"/><rect x="347.6" y="137.50" width="1.3" height="1.64" fill="#b089ca"/><rect x="346.4" y="138.99" width="3.5" height="1.64" fill="#d0b9e0"/><rect x="347.6" y="138.99" width="1.3" height="1.64" fill="#b590cd"/><rect x="346.4" y="140.47" width="3.5" height="1.64" fill="#d0b9df"/><rect x="347.6" y="140.47" width="1.3" height="1.64" fill="#b28ccb"/><rect x="346.4" y="141.96" width="3.5" height="1.64" fill="#cfb7de"/><rect x="347.6" y="141.96" width="1.3" height="1.64" fill="#ae85c8"/><rect x="346.4" y="143.45" width="3.5" height="1.64" fill="#ccb3dd"/><rect x="347.6" y="143.45" width="1.3" height="1.64" fill="#ae86c8"/><rect x="346.4" y="144.93" width="3.5" height="1.64" fill="#ceb6de"/><rect x="347.6" y="144.93" width="1.3" height="1.64" fill="#ac83c7"/><rect x="346.4" y="146.42" width="3.5" height="1.64" fill="#ceb6de"/><rect x="347.6" y="146.42" width="1.3" height="1.64" fill="#b38ecc"/><rect x="346.4" y="147.91" width="3.5" height="1.64" fill="#d0b8df"/><rect x="347.6" y="147.91" width="1.3" height="1.64" fill="#b28ccb"/><rect x="346.4" y="149.39" width="3.5" height="1.64" fill="#d0b9e0"/><rect x="347.6" y="149.39" width="1.3" height="1.64" fill="#b089ca"/><rect x="346.4" y="150.88" width="3.5" height="1.64" fill="#d1bae0"/><rect x="347.6" y="150.88" width="1.3" height="1.64" fill="#b18aca"/><rect x="346.4" y="152.37" width="3.5" height="1.64" fill="#ceb6de"/><rect x="347.6" y="152.37" width="1.3" height="1.64" fill="#af88c9"/><rect x="346.4" y="153.85" width="3.5" height="1.64" fill="#cfb7de"/><rect x="347.6" y="153.85" width="1.3" height="1.64" fill="#b38dcb"/><rect x="346.4" y="155.34" width="3.5" height="1.64" fill="#ccb3dd"/><rect x="347.6" y="155.34" width="1.3" height="1.64" fill="#af87c9"/><rect x="346.4" y="156.83" width="3.5" height="1.64" fill="#cfb7df"/><rect x="347.6" y="156.83" width="1.3" height="1.64" fill="#b089ca"/><rect x="346.4" y="158.31" width="3.5" height="1.64" fill="#ceb5de"/><rect x="347.6" y="158.31" width="1.3" height="1.64" fill="#b28bcb"/><rect x="346.4" y="159.80" width="3.5" height="1.64" fill="#cdb5de"/><rect x="347.6" y="159.80" width="1.3" height="1.64" fill="#b18aca"/><rect x="346.4" y="161.29" width="3.5" height="1.64" fill="#cfb7df"/><rect x="347.6" y="161.29" width="1.3" height="1.64" fill="#b088c9"/><rect x="346.4" y="162.77" width="3.5" height="1.64" fill="#d2bce1"/><rect x="347.6" y="162.77" width="1.3" height="1.64" fill="#b28ccb"/><rect x="346.4" y="164.26" width="3.5" height="1.64" fill="#d0b8df"/><rect x="347.6" y="164.26" width="1.3" height="1.64" fill="#b590cd"/><rect x="346.4" y="165.75" width="3.5" height="1.64" fill="#d1bae0"/><rect x="347.6" y="165.75" width="1.3" height="1.64" fill="#b996d0"/><rect x="346.4" y="167.23" width="3.5" height="1.64" fill="#cfb7de"/><rect x="347.6" y="167.23" width="1.3" height="1.64" fill="#b590cd"/><rect x="346.4" y="168.72" width="3.5" height="1.64" fill="#cfb8df"/><rect x="347.6" y="168.72" width="1.3" height="1.64" fill="#af88c9"/><rect x="346.4" y="170.21" width="3.5" height="1.64" fill="#d2bce1"/><rect x="347.6" y="170.21" width="1.3" height="1.64" fill="#b691ce"/><rect x="346.4" y="171.69" width="3.5" height="1.64" fill="#d1bbe0"/><rect x="347.6" y="171.69" width="1.3" height="1.64" fill="#b38ecc"/><rect x="346.4" y="173.18" width="3.5" height="1.64" fill="#ceb6de"/><rect x="347.6" y="173.18" width="1.3" height="1.64" fill="#b38dcc"/><rect x="346.4" y="174.67" width="3.5" height="1.64" fill="#d1bbe0"/><rect x="347.6" y="174.67" width="1.3" height="1.64" fill="#b692ce"/><rect x="346.4" y="176.15" width="3.5" height="1.64" fill="#d0b9e0"/><rect x="347.6" y="176.15" width="1.3" height="1.64" fill="#b18aca"/><rect x="346.4" y="177.64" width="3.5" height="1.64" fill="#d4bfe2"/><rect x="347.6" y="177.64" width="1.3" height="1.64" fill="#b794cf"/><rect x="346.4" y="179.13" width="3.5" height="1.64" fill="#d0b9e0"/><rect x="347.6" y="179.13" width="1.3" height="1.64" fill="#b996d0"/><rect x="346.4" y="180.61" width="3.5" height="1.64" fill="#d1bbe0"/><rect x="347.6" y="180.61" width="1.3" height="1.64" fill="#b28ccb"/><rect x="346.4" y="182.10" width="3.5" height="1.64" fill="#ceb6de"/><rect x="347.6" y="182.10" width="1.3" height="1.64" fill="#b590cd"/><rect x="346.4" y="183.59" width="3.5" height="1.64" fill="#cfb7df"/><rect x="347.6" y="183.59" width="1.3" height="1.64" fill="#b18aca"/><rect x="346.4" y="185.07" width="3.5" height="1.64" fill="#d2bbe1"/><rect x="347.6" y="185.07" width="1.3" height="1.64" fill="#b28ccb"/><rect x="346.4" y="186.56" width="3.5" height="1.64" fill="#d3bde1"/><rect x="347.6" y="186.56" width="1.3" height="1.64" fill="#b28ccb"/><rect x="346.4" y="188.05" width="3.5" height="1.64" fill="#d0b9e0"/><rect x="347.6" y="188.05" width="1.3" height="1.64" fill="#b591cd"/><rect x="346.4" y="189.53" width="3.5" height="1.64" fill="#cfb8df"/><rect x="347.6" y="189.53" width="1.3" height="1.64" fill="#b18aca"/><rect x="346.4" y="191.02" width="3.5" height="1.64" fill="#d2bbe0"/><rect x="347.6" y="191.02" width="1.3" height="1.64" fill="#b691cd"/><rect x="346.4" y="192.51" width="3.5" height="1.64" fill="#cfb7df"/><rect x="347.6" y="192.51" width="1.3" height="1.64" fill="#b793ce"/><rect x="346.4" y="193.99" width="3.5" height="1.64" fill="#d0b8df"/><rect x="347.6" y="193.99" width="1.3" height="1.64" fill="#b894cf"/><rect x="346.4" y="195.48" width="3.5" height="1.64" fill="#d3bde1"/><rect x="347.6" y="195.48" width="1.3" height="1.64" fill="#b997d0"/><rect x="346.4" y="196.97" width="3.5" height="1.64" fill="#d5c0e3"/><rect x="347.6" y="196.97" width="1.3" height="1.64" fill="#bb9ad1"/><rect x="346.4" y="198.45" width="3.5" height="1.64" fill="#cdb5de"/><rect x="347.6" y="198.45" width="1.3" height="1.64" fill="#b591cd"/><rect x="346.4" y="199.94" width="3.5" height="1.64" fill="#d4bfe2"/><rect x="347.6" y="199.94" width="1.3" height="1.64" fill="#b28ccb"/><rect x="346.4" y="201.43" width="3.5" height="1.64" fill="#d3bde1"/><rect x="347.6" y="201.43" width="1.3" height="1.64" fill="#b996d0"/><rect x="346.4" y="202.91" width="3.5" height="1.64" fill="#d4bfe2"/><rect x="347.6" y="202.91" width="1.3" height="1.64" fill="#b38dcc"/></g>
<defs><linearGradient id="gb" x1="0" y1="0" x2="0" y2="1"><stop offset="0" stop-color="#6f4f9f"/><stop offset="1" stop-color="#ffffff"/></linearGradient></defs>
<rect x="388.2" y="28.2" width="4.6" height="19.4" fill="url(#gb)" stroke="#555" stroke-width="0.5"/>
<text x="384.30" y="32.08" font-size="8" text-anchor="end">48</text>
<text x="384.30" y="49.88" font-size="8" text-anchor="end">0</text>
<text x="280.80" y="214.66" font-size="8.5" text-anchor="middle">–5</text>
<text x="299.30" y="214.66" font-size="8.5" text-anchor="middle">0</text>
<text x="314.90" y="214.66" font-size="8.5" text-anchor="middle">5</text>
<text x="332.60" y="214.66" font-size="8.5" text-anchor="middle">–5</text>
<text x="350.20" y="214.66" font-size="8.5" text-anchor="middle">0</text>
<text x="366.30" y="214.66" font-size="8.5" text-anchor="middle">5</text>
<text x="321.00" y="225.41" font-size="9.2" text-anchor="middle" textLength="54.6" lengthAdjust="spacingAndGlyphs">Distance (kb)</text>
<line x1="272.00" y1="221.80" x2="292.10" y2="221.80" stroke="#555" stroke-width="0.6" stroke-dasharray="0.8 0.8"/>
<line x1="349.90" y1="221.80" x2="370.80" y2="221.80" stroke="#555" stroke-width="0.6" stroke-dasharray="0.8 0.8"/>
<text transform="translate(267.6,113.4) rotate(-90)" y="3.2" font-size="9" text-anchor="middle" textLength="128.2" lengthAdjust="spacingAndGlyphs">Control conditions (<tspan font-style="italic">n</tspan> = 12,715)</text>
<text x="409" y="8.8" font-size="13" font-weight="bold" fill="#000">c</text>
<text x="557.50" y="13.97" font-size="8.8" text-anchor="middle" textLength="141" lengthAdjust="spacingAndGlyphs">PRMT1 proximal to regulated genes</text>
<line x1="444.60" y1="25.80" x2="444.60" y2="184.00" stroke="#444" stroke-width="0.9"/>
<line x1="444.60" y1="183.60" x2="680.00" y2="183.60" stroke="#444" stroke-width="0.9"/>
<line x1="442.30" y1="34.60" x2="444.60" y2="34.60" stroke="#444" stroke-width="0.7"/>
<text x="440.30" y="37.41" font-size="7.8" text-anchor="end">0.70</text>
<line x1="442.30" y1="53.60" x2="444.60" y2="53.60" stroke="#444" stroke-width="0.7"/>
<text x="440.30" y="56.41" font-size="7.8" text-anchor="end">0.68</text>
<line x1="442.30" y1="71.80" x2="444.60" y2="71.80" stroke="#444" stroke-width="0.7"/>
<text x="440.30" y="74.61" font-size="7.8" text-anchor="end">0.62</text>
<line x1="442.30" y1="90.30" x2="444.60" y2="90.30" stroke="#444" stroke-width="0.7"/>
<text x="440.30" y="93.11" font-size="7.8" text-anchor="end">0.60</text>
<line x1="442.30" y1="109.00" x2="444.60" y2="109.00" stroke="#444" stroke-width="0.7"/>
<text x="440.30" y="111.81" font-size="7.8" text-anchor="end">0.58</text>
<line x1="442.30" y1="127.80" x2="444.60" y2="127.80" stroke="#444" stroke-width="0.7"/>
<text x="440.30" y="130.61" font-size="7.8" text-anchor="end">0.54</text>
<line x1="442.30" y1="146.80" x2="444.60" y2="146.80" stroke="#444" stroke-width="0.7"/>
<text x="440.30" y="149.61" font-size="7.8" text-anchor="end">0.52</text>
<line x1="442.30" y1="165.20" x2="444.60" y2="165.20" stroke="#444" stroke-width="0.7"/>
<text x="440.30" y="168.01" font-size="7.8" text-anchor="end">0.50</text>
<line x1="442.30" y1="183.60" x2="444.60" y2="183.60" stroke="#444" stroke-width="0.7"/>
<text x="440.30" y="186.41" font-size="7.8" text-anchor="end">0.48</text>
<text x="445.00" y="194.11" font-size="7.8" text-anchor="middle">–2.5</text>
<text x="561.20" y="194.11" font-size="7.8" text-anchor="middle">0</text>
<text x="679.00" y="194.11" font-size="7.8" text-anchor="middle">2.5</text>
<text x="559.40" y="206.80" font-size="8.6" text-anchor="middle" textLength="52.3" lengthAdjust="spacingAndGlyphs">Distance (kb)</text>
<text transform="translate(413.70,111.20) rotate(-90)" y="3.17" font-size="8.8" text-anchor="middle" textLength="34.3" lengthAdjust="spacingAndGlyphs">Intensity</text>
<line x1="450.50" y1="34.40" x2="458.20" y2="34.40" stroke="#e8282c" stroke-width="1.1"/>
<text x="462.50" y="37.14" font-size="7.6" textLength="48.5" lengthAdjust="spacingAndGlyphs">PRMT1 control</text>
<line x1="450.50" y1="43.60" x2="458.20" y2="43.60" stroke="#1e8a3a" stroke-width="1.1"/>
<text x="462.50" y="46.34" font-size="7.6" textLength="84.5" lengthAdjust="spacingAndGlyphs">PRMT1 rescue HNF4G-KO</text>
<line x1="450.50" y1="53.00" x2="458.20" y2="53.00" stroke="#111" stroke-width="1.1"/>
<text x="462.50" y="55.74" font-size="7.6" textLength="60" lengthAdjust="spacingAndGlyphs">PRMT1 HNF4G-KO</text>
<path d="M445.3 146.7 L447.4 145.6 L449.5 156.2 L451.6 153.0 L453.8 157.7 L455.9 162.6 L459.0 158.3 L460.9 158.4 L462.7 158.9 L464.5 158.0 L466.4 158.3 L468.0 158.3 L469.6 158.1 L471.2 157.5 L472.8 157.7 L474.5 158.7 L476.3 159.4 L478.0 161.0 L480.1 158.9 L482.3 158.4 L484.4 156.6 L486.1 157.8 L487.8 158.1 L489.5 161.6 L491.2 162.2 L492.9 163.6 L494.6 164.4 L496.3 165.9 L497.9 165.1 L499.6 167.0 L501.3 167.8 L503.4 168.0 L505.6 169.1 L507.7 169.5 L509.8 169.8 L511.9 169.2 L514.0 168.9 L516.1 170.3 L518.3 172.4 L520.4 174.2 L522.1 174.4 L523.9 174.2 L525.6 173.9 L527.4 173.6 L529.1 172.9 L530.9 173.1 L533.0 171.5 L535.2 169.0 L537.3 167.8 L539.4 161.5 L541.5 154.9 L543.6 148.8 L545.5 142.6 L547.3 136.7 L549.1 129.8 L551.0 123.4 L552.9 120.6 L554.8 117.0 L556.7 113.7 L558.6 111.1 L560.5 107.6 L562.6 107.1 L564.8 106.1 L566.9 106.1 L568.8 105.3 L570.6 104.4 L572.7 110.7 L574.8 117.3 L576.9 123.5 L579.0 130.8 L581.2 137.3 L583.3 144.6 L585.1 149.7 L587.0 153.2 L588.9 159.6 L590.7 163.6 L592.5 165.1 L594.2 167.8 L596.0 169.6 L598.1 169.0 L600.2 166.9 L602.3 165.8 L604.4 166.2 L606.5 167.9 L608.3 164.6 L610.0 162.2 L611.8 159.4 L613.6 158.7 L615.5 158.3 L617.4 156.9 L619.2 156.2 L620.9 154.2 L622.6 152.3 L624.3 150.5 L626.0 148.2 L627.7 146.7 L629.8 144.9 L631.9 143.2 L634.0 141.9 L636.1 144.2 L638.3 145.6 L640.4 147.8 L642.5 147.6 L644.6 148.7 L646.7 147.8 L648.9 146.3 L651.0 144.6 L653.1 146.0 L655.2 145.5 L657.3 147.8 L659.0 149.6 L660.7 151.4 L662.4 153.0 L664.1 154.6 L665.8 156.2 L667.9 153.9 L670.0 152.0 L671.8 156.6 L673.5 163.0 L675.3 167.9 L678.0 183.7" fill="none" stroke="#111" stroke-width="1.15" stroke-linejoin="round"/>
<path d="M450.6 183.7 L453.7 174.2 L456.9 171.0 L458.5 170.3 L460.1 170.0 L463.3 167.8 L466.4 165.7 L469.2 164.0 L471.0 164.1 L472.8 165.7 L474.9 169.1 L477.0 171.0 L478.8 174.5 L480.5 176.2 L482.3 179.5 L484.1 180.8 L486.0 179.9 L487.9 181.7 L489.7 182.2 L491.6 181.9 L493.5 182.4 L495.4 182.7 L497.3 182.9 L499.2 182.6 L500.9 183.0 L502.6 183.0 L504.3 183.4 L506.0 182.7 L507.7 183.3 L509.8 180.8 L511.9 177.7 L514.0 175.2 L515.9 171.8 L517.7 169.5 L519.5 166.8 L521.4 163.6 L523.5 161.4 L525.7 159.3 L527.8 156.2 L529.5 152.0 L531.3 147.9 L533.0 144.6 L534.8 138.9 L536.5 134.0 L538.3 127.7 L540.1 120.5 L541.8 114.8 L543.6 108.6 L545.3 102.4 L547.0 96.5 L548.6 90.0 L550.3 84.1 L552.0 78.0 L553.7 76.1 L555.4 73.2 L557.1 71.6 L558.8 69.0 L560.5 67.4 L562.2 69.4 L564.0 71.6 L565.7 73.5 L567.4 74.8 L569.1 79.1 L570.8 84.0 L572.5 89.3 L574.2 92.4 L575.9 98.0 L577.7 106.2 L579.4 111.5 L581.2 119.2 L583.3 129.5 L585.4 139.1 L587.5 148.8 L589.3 155.5 L591.0 163.0 L592.8 170.0 L594.9 174.7 L597.0 179.5 L598.8 179.0 L600.5 180.8 L602.3 181.0 L604.0 180.3 L605.7 179.6 L607.4 177.4 L609.1 176.2 L610.8 175.3 L612.6 173.7 L614.4 171.4 L616.2 170.4 L618.1 168.7 L619.9 166.7 L621.7 165.0 L623.5 163.6 L625.2 163.6 L627.0 161.8 L628.8 159.9 L630.5 159.3 L632.2 157.9 L634.0 156.2 L635.8 154.3 L637.5 154.8 L639.3 153.5 L641.1 153.3 L642.8 151.5 L644.6 150.5 L646.5 150.1 L648.3 149.6 L650.1 149.0 L652.0 148.4 L653.9 149.4 L655.7 153.1 L657.5 153.8 L659.4 156.2 L661.1 157.4 L662.8 158.0 L664.5 158.2 L666.2 158.6 L667.9 159.4 L670.0 163.6 L672.1 167.9 L673.9 170.6 L675.6 174.0 L677.4 177.4 L678.4 183.7" fill="none" stroke="#1e8a3a" stroke-width="1.15" stroke-linejoin="round"/>
<path d="M447.4 183.7 L449.5 165.7 L452.7 164.3 L454.5 164.4 L456.2 166.0 L458.0 165.7 L459.8 163.2 L461.5 160.6 L463.3 158.3 L465.0 157.0 L466.8 155.6 L468.5 154.1 L470.3 157.2 L472.0 161.1 L473.8 163.6 L475.9 165.3 L478.1 164.4 L480.2 165.1 L482.3 164.2 L484.4 163.0 L486.0 163.4 L487.6 164.2 L489.2 163.8 L490.8 165.1 L492.6 163.6 L494.4 165.2 L496.2 164.7 L498.0 164.7 L499.8 164.9 L501.6 165.0 L503.4 164.7 L505.2 163.4 L506.9 162.7 L508.7 162.3 L510.5 161.4 L512.2 161.8 L514.0 159.8 L516.1 160.3 L518.3 160.6 L520.4 161.1 L522.1 161.1 L523.8 160.6 L525.4 159.9 L527.1 160.0 L528.8 159.4 L530.4 155.8 L532.0 153.5 L533.6 151.2 L535.2 148.8 L537.3 143.1 L539.4 136.2 L541.5 129.8 L543.6 122.1 L545.7 115.2 L547.8 108.6 L549.4 102.6 L551.0 97.0 L552.6 91.3 L554.2 85.4 L556.3 81.7 L558.4 76.9 L560.5 72.3 L562.4 73.9 L564.4 75.4 L566.3 76.9 L568.0 82.4 L569.7 85.8 L571.4 90.8 L573.1 96.1 L574.8 100.2 L576.5 107.7 L578.2 115.5 L579.9 123.6 L581.6 130.9 L583.3 138.3 L585.0 145.8 L586.7 153.4 L588.3 162.0 L590.0 170.2 L591.7 177.4 L593.5 177.7 L595.2 178.3 L597.0 178.4 L599.1 179.5 L601.2 179.5 L603.1 178.2 L604.9 177.9 L606.8 176.3 L608.6 175.3 L610.3 174.2 L612.0 172.8 L613.7 172.1 L615.4 170.4 L617.1 170.0 L618.9 168.1 L620.6 166.5 L622.4 165.9 L624.2 164.2 L625.9 163.3 L627.7 161.5 L629.6 161.5 L631.4 162.5 L633.2 163.2 L635.1 163.6 L636.9 166.5 L638.6 167.4 L640.4 170.0 L642.1 168.5 L643.8 167.0 L645.4 166.4 L647.1 164.9 L648.8 162.6 L650.6 160.7 L652.5 160.0 L654.4 158.8 L656.2 157.3 L658.0 157.9 L659.7 158.6 L661.5 159.4 L663.6 164.1 L665.8 167.9 L667.9 163.5 L670.0 159.8 L672.1 156.2 L675.3 165.8 L677.4 183.7" fill="none" stroke="#e8282c" stroke-width="1.15" stroke-linejoin="round"/>
<text x="0" y="242.4" font-size="13" font-weight="bold" fill="#000">d</text>
<text x="136.60" y="243.97" font-size="8.8" text-anchor="middle" textLength="110.7" lengthAdjust="spacingAndGlyphs">ChIP–seq: Whipple samples</text>
<text x="95.50" y="262.70" font-size="8.6" text-anchor="middle" textLength="29.2" lengthAdjust="spacingAndGlyphs">HNF4G</text>
<text x="138.40" y="262.70" font-size="8.6" text-anchor="middle" textLength="26.5" lengthAdjust="spacingAndGlyphs">PRMT1</text>
<text x="182.00" y="262.70" font-size="8.6" text-anchor="middle" textLength="27.5" lengthAdjust="spacingAndGlyphs">FOXA1</text>
<defs><filter id="ndc50_128_44" x="0" y="0" width="1" height="1" color-interpolation-filters="sRGB"><feTurbulence type="fractalNoise" baseFrequency="0.16 1.1" numOctaves="2" seed="9"/><feColorMatrix type="matrix" values="0 0 0 0 0.196 0 0 0 0 0.502 0 0 0 0 0.173 -2 0 0 0 1"/></filter></defs>
<defs><filter id="ndw" x="0" y="0" width="1" height="1" color-interpolation-filters="sRGB"><feTurbulence type="fractalNoise" baseFrequency="0.16 1.1" numOctaves="2" seed="9"/><feColorMatrix type="matrix" values="0 0 0 0 1 0 0 0 0 1 0 0 0 0 1 2 0 0 0 -1"/></filter></defs>
<defs><filter id="ndc110_72_160" x="0" y="0" width="1" height="1" color-interpolation-filters="sRGB"><feTurbulence type="fractalNoise" baseFrequency="0.16 1.1" numOctaves="2" seed="9"/><feColorMatrix type="matrix" values="0 0 0 0 0.431 0 0 0 0 0.282 0 0 0 0 0.627 -2 0 0 0 1"/></filter></defs>
<defs><filter id="ndc218_22_28" x="0" y="0" width="1" height="1" color-interpolation-filters="sRGB"><feTurbulence type="fractalNoise" baseFrequency="0.16 1.1" numOctaves="2" seed="9"/><feColorMatrix type="matrix" values="0 0 0 0 0.855 0 0 0 0 0.086 0 0 0 0 0.110 -2 0 0 0 1"/></filter></defs>
<g><rect x="76.3" y="267.50" width="38.3" height="1.98" fill="#cadec8"/><rect x="76.3" y="269.33" width="38.3" height="1.98" fill="#d2e3d1"/><rect x="76.3" y="271.17" width="38.3" height="1.98" fill="#dce9db"/><rect x="76.3" y="273.00" width="38.3" height="1.98" fill="#c2d9c0"/><rect x="76.3" y="274.83" width="38.3" height="1.98" fill="#e0ecdf"/><rect x="76.3" y="276.67" width="38.3" height="1.98" fill="#e2ede1"/><rect x="76.3" y="278.50" width="38.3" height="1.98" fill="#d6e6d5"/><rect x="76.3" y="280.34" width="38.3" height="1.98" fill="#e4eee3"/><rect x="76.3" y="282.17" width="38.3" height="1.98" fill="#e1ede1"/><rect x="76.3" y="284.00" width="38.3" height="1.98" fill="#e0ecdf"/><rect x="76.3" y="285.84" width="38.3" height="1.98" fill="#d7e6d6"/><rect x="76.3" y="287.67" width="38.3" height="1.98" fill="#cfe1cd"/><rect x="76.3" y="289.50" width="38.3" height="1.98" fill="#d0e2cf"/><rect x="76.3" y="291.34" width="38.3" height="1.98" fill="#e2ede1"/><rect x="76.3" y="293.17" width="38.3" height="1.98" fill="#d5e5d3"/><rect x="76.3" y="295.01" width="38.3" height="1.98" fill="#e8f1e7"/><rect x="76.3" y="296.84" width="38.3" height="1.98" fill="#dbe9da"/><rect x="76.3" y="298.67" width="38.3" height="1.98" fill="#d2e3d1"/><rect x="76.3" y="300.51" width="38.3" height="1.98" fill="#e4eee3"/><rect x="76.3" y="302.34" width="38.3" height="1.98" fill="#deebdd"/><rect x="76.3" y="304.18" width="38.3" height="1.98" fill="#deeadd"/><rect x="76.3" y="306.01" width="38.3" height="1.98" fill="#f0f5ef"/><rect x="76.3" y="307.84" width="38.3" height="1.98" fill="#e8f1e7"/><rect x="76.3" y="309.68" width="38.3" height="1.98" fill="#d9e8d8"/><rect x="76.3" y="311.51" width="38.3" height="1.98" fill="#dfebde"/><rect x="76.3" y="313.34" width="38.3" height="1.98" fill="#d7e6d5"/><rect x="76.3" y="315.18" width="38.3" height="1.98" fill="#e1ece0"/><rect x="76.3" y="317.01" width="38.3" height="1.98" fill="#ddeadc"/><rect x="76.3" y="318.84" width="38.3" height="1.98" fill="#e4eee3"/><rect x="76.3" y="320.68" width="38.3" height="1.98" fill="#e8f1e7"/><rect x="76.3" y="322.51" width="38.3" height="1.98" fill="#dae8d9"/><rect x="76.3" y="324.35" width="38.3" height="1.98" fill="#c4dac2"/><rect x="76.3" y="326.18" width="38.3" height="1.98" fill="#dfebde"/><rect x="76.3" y="328.01" width="38.3" height="1.98" fill="#ddeadc"/><rect x="76.3" y="329.85" width="38.3" height="1.98" fill="#e0ecdf"/><rect x="76.3" y="331.68" width="38.3" height="1.98" fill="#ddeadc"/><rect x="76.3" y="333.51" width="38.3" height="1.98" fill="#ddeadc"/><rect x="76.3" y="335.35" width="38.3" height="1.98" fill="#c1d8bf"/><rect x="76.3" y="337.18" width="38.3" height="1.98" fill="#b8d3b6"/><rect x="76.3" y="339.02" width="38.3" height="1.98" fill="#bad4b8"/><rect x="76.3" y="340.85" width="38.3" height="1.98" fill="#ddeadb"/><rect x="76.3" y="342.68" width="38.3" height="1.98" fill="#e6f0e5"/><rect x="76.3" y="344.52" width="38.3" height="1.98" fill="#dfebde"/><rect x="76.3" y="346.35" width="38.3" height="1.98" fill="#e2ede2"/><rect x="76.3" y="348.19" width="38.3" height="1.98" fill="#e7f0e6"/><rect x="76.3" y="350.02" width="38.3" height="1.98" fill="#e1ece0"/><rect x="76.3" y="351.85" width="38.3" height="1.98" fill="#e5efe4"/><rect x="76.3" y="353.69" width="38.3" height="1.98" fill="#dbe8da"/><rect x="76.3" y="355.52" width="38.3" height="1.98" fill="#e0ecdf"/><rect x="76.3" y="357.35" width="38.3" height="1.98" fill="#e1ece0"/><rect x="76.3" y="359.19" width="38.3" height="1.98" fill="#e4eee3"/><rect x="76.3" y="361.02" width="38.3" height="1.98" fill="#bad4b8"/><rect x="76.3" y="362.86" width="38.3" height="1.98" fill="#b8d3b6"/><rect x="76.3" y="364.69" width="38.3" height="1.98" fill="#b4d0b2"/><rect x="76.3" y="366.52" width="38.3" height="1.98" fill="#e5efe4"/><rect x="76.3" y="368.36" width="38.3" height="1.98" fill="#ebf3eb"/><rect x="76.3" y="370.19" width="38.3" height="1.98" fill="#dbe8d9"/><rect x="76.3" y="372.02" width="38.3" height="1.98" fill="#dbe9da"/><rect x="76.3" y="373.86" width="38.3" height="1.98" fill="#e3eee2"/><rect x="76.3" y="375.69" width="38.3" height="1.98" fill="#e0ecdf"/><rect x="76.3" y="377.52" width="38.3" height="1.98" fill="#e9f2e9"/><rect x="76.3" y="379.36" width="38.3" height="1.98" fill="#e4eee3"/><rect x="76.3" y="381.19" width="38.3" height="1.98" fill="#e4eee4"/><rect x="76.3" y="383.03" width="38.3" height="1.98" fill="#dce9db"/><rect x="76.3" y="384.86" width="38.3" height="1.98" fill="#dae8d9"/><rect x="76.3" y="386.69" width="38.3" height="1.98" fill="#e4eee3"/><rect x="76.3" y="388.53" width="38.3" height="1.98" fill="#e2ede1"/><rect x="76.3" y="390.36" width="38.3" height="1.98" fill="#dfebde"/><rect x="76.3" y="392.19" width="38.3" height="1.98" fill="#d4e4d3"/><rect x="76.3" y="394.03" width="38.3" height="1.98" fill="#e8f1e7"/><rect x="76.3" y="395.86" width="38.3" height="1.98" fill="#e7f0e6"/><rect x="76.3" y="397.70" width="38.3" height="1.98" fill="#e2ede1"/><rect x="76.3" y="399.53" width="38.3" height="1.98" fill="#e0ece0"/><rect x="76.3" y="401.36" width="38.3" height="1.98" fill="#e3eee2"/><rect x="76.3" y="403.20" width="38.3" height="1.98" fill="#edf4ec"/><rect x="76.3" y="405.03" width="38.3" height="1.98" fill="#e1ece0"/><rect x="76.3" y="406.87" width="38.3" height="1.98" fill="#c9ddc7"/><rect x="76.3" y="408.70" width="38.3" height="1.98" fill="#d6e5d5"/><rect x="76.3" y="410.53" width="38.3" height="1.98" fill="#d2e3d1"/><rect x="76.3" y="412.37" width="38.3" height="1.98" fill="#d9e7d8"/></g>
<defs><filter id="bl0p6_0p4" x="-30%" y="-2%" width="160%" height="104%"><feGaussianBlur stdDeviation="0.6 0.4"/></filter></defs>
<rect x="76.3" y="267.5" width="38.3" height="146.7" filter="url(#ndw)" opacity="0.6"/>
<rect x="76.3" y="267.5" width="38.3" height="146.7" filter="url(#ndc50_128_44)" opacity="0.3"/>
<g filter="url(#bl0p6_0p4)" opacity="0.8"><rect x="92.0" y="267.50" width="6.5" height="1.98" fill="#9bc199"/><rect x="94.1" y="267.50" width="2.4" height="1.98" fill="#569651"/><rect x="92.0" y="269.33" width="6.5" height="1.98" fill="#99c097"/><rect x="94.1" y="269.33" width="2.4" height="1.98" fill="#448b3f"/><rect x="92.0" y="271.17" width="6.5" height="1.98" fill="#b5d1b3"/><rect x="94.1" y="271.17" width="2.4" height="1.98" fill="#7bad77"/><rect x="92.0" y="273.00" width="6.5" height="1.98" fill="#90bb8d"/><rect x="94.1" y="273.00" width="2.4" height="1.98" fill="#468d41"/><rect x="92.0" y="274.83" width="6.5" height="1.98" fill="#b2cfb0"/><rect x="94.1" y="274.83" width="2.4" height="1.98" fill="#6da569"/><rect x="92.0" y="276.67" width="6.5" height="1.98" fill="#b4d0b1"/><rect x="94.1" y="276.67" width="2.4" height="1.98" fill="#6ea56a"/><rect x="92.0" y="278.50" width="6.5" height="1.98" fill="#accba9"/><rect x="94.1" y="278.50" width="2.4" height="1.98" fill="#6ca467"/><rect x="92.0" y="280.34" width="6.5" height="1.98" fill="#b1cfaf"/><rect x="94.1" y="280.34" width="2.4" height="1.98" fill="#65a061"/><rect x="92.0" y="282.17" width="6.5" height="1.98" fill="#afcead"/><rect x="94.1" y="282.17" width="2.4" height="1.98" fill="#649f5f"/><rect x="92.0" y="284.00" width="6.5" height="1.98" fill="#a8c9a6"/><rect x="94.1" y="284.00" width="2.4" height="1.98" fill="#54954f"/><rect x="92.0" y="285.84" width="6.5" height="1.98" fill="#a2c59f"/><rect x="94.1" y="285.84" width="2.4" height="1.98" fill="#52944d"/><rect x="92.0" y="287.67" width="6.5" height="1.98" fill="#97bf94"/><rect x="94.1" y="287.67" width="2.4" height="1.98" fill="#448b3f"/><rect x="92.0" y="289.50" width="6.5" height="1.98" fill="#9ac097"/><rect x="94.1" y="289.50" width="2.4" height="1.98" fill="#488e43"/><rect x="92.0" y="291.34" width="6.5" height="1.98" fill="#afcead"/><rect x="94.1" y="291.34" width="2.4" height="1.98" fill="#649f5f"/><rect x="92.0" y="293.17" width="6.5" height="1.98" fill="#aacaa7"/><rect x="94.1" y="293.17" width="2.4" height="1.98" fill="#6aa265"/><rect x="92.0" y="295.01" width="6.5" height="1.98" fill="#c1d8bf"/><rect x="94.1" y="295.01" width="2.4" height="1.98" fill="#86b482"/><rect x="92.0" y="296.84" width="6.5" height="1.98" fill="#b2cfaf"/><rect x="94.1" y="296.84" width="2.4" height="1.98" fill="#73a86f"/><rect x="92.0" y="298.67" width="6.5" height="1.98" fill="#9dc39a"/><rect x="94.1" y="298.67" width="2.4" height="1.98" fill="#4e9149"/><rect x="92.0" y="300.51" width="6.5" height="1.98" fill="#afcdac"/><rect x="94.1" y="300.51" width="2.4" height="1.98" fill="#5f9c5b"/><rect x="92.0" y="302.34" width="6.5" height="1.98" fill="#a6c8a3"/><rect x="94.1" y="302.34" width="2.4" height="1.98" fill="#51934c"/><rect x="92.0" y="304.18" width="6.5" height="1.98" fill="#a9caa7"/><rect x="94.1" y="304.18" width="2.4" height="1.98" fill="#5a9956"/><rect x="92.0" y="306.01" width="6.5" height="1.98" fill="#bbd5b9"/><rect x="94.1" y="306.01" width="2.4" height="1.98" fill="#6da569"/><rect x="92.0" y="307.84" width="6.5" height="1.98" fill="#bad4b8"/><rect x="94.1" y="307.84" width="2.4" height="1.98" fill="#76aa72"/><rect x="92.0" y="309.68" width="6.5" height="1.98" fill="#bbd5b9"/><rect x="94.1" y="309.68" width="2.4" height="1.98" fill="#8eb98b"/><rect x="92.0" y="311.51" width="6.5" height="1.98" fill="#bdd6bb"/><rect x="94.1" y="311.51" width="2.4" height="1.98" fill="#8ab686"/><rect x="92.0" y="313.34" width="6.5" height="1.98" fill="#b6d2b4"/><rect x="94.1" y="313.34" width="2.4" height="1.98" fill="#86b482"/><rect x="92.0" y="315.18" width="6.5" height="1.98" fill="#b8d3b6"/><rect x="94.1" y="315.18" width="2.4" height="1.98" fill="#7aad76"/><rect x="92.0" y="317.01" width="6.5" height="1.98" fill="#bad4b8"/><rect x="94.1" y="317.01" width="2.4" height="1.98" fill="#87b584"/><rect x="92.0" y="318.84" width="6.5" height="1.98" fill="#bfd7bd"/><rect x="94.1" y="318.84" width="2.4" height="1.98" fill="#88b685"/><rect x="92.0" y="320.68" width="6.5" height="1.98" fill="#d0e2cf"/><rect x="94.1" y="320.68" width="2.4" height="1.98" fill="#accba9"/><rect x="92.0" y="322.51" width="6.5" height="1.98" fill="#c8ddc6"/><rect x="94.1" y="322.51" width="2.4" height="1.98" fill="#adccab"/><rect x="92.0" y="324.35" width="6.5" height="1.98" fill="#acccaa"/><rect x="94.1" y="324.35" width="2.4" height="1.98" fill="#88b585"/><rect x="92.0" y="326.18" width="6.5" height="1.98" fill="#c8ddc7"/><rect x="94.1" y="326.18" width="2.4" height="1.98" fill="#a7c9a5"/><rect x="92.0" y="328.01" width="6.5" height="1.98" fill="#cadec9"/><rect x="94.1" y="328.01" width="2.4" height="1.98" fill="#afcdac"/><rect x="92.0" y="329.85" width="6.5" height="1.98" fill="#c9dec7"/><rect x="94.1" y="329.85" width="2.4" height="1.98" fill="#a6c8a4"/><rect x="92.0" y="331.68" width="6.5" height="1.98" fill="#c7dcc5"/><rect x="94.1" y="331.68" width="2.4" height="1.98" fill="#a7c8a4"/><rect x="92.0" y="333.51" width="6.5" height="1.98" fill="#bed7bc"/><rect x="94.1" y="333.51" width="2.4" height="1.98" fill="#8fba8c"/><rect x="92.0" y="335.35" width="6.5" height="1.98" fill="#a0c49d"/><rect x="94.1" y="335.35" width="2.4" height="1.98" fill="#6fa66b"/><rect x="92.0" y="337.18" width="6.5" height="1.98" fill="#8cb889"/><rect x="94.1" y="337.18" width="2.4" height="1.98" fill="#4b8f45"/><rect x="92.0" y="339.02" width="6.5" height="1.98" fill="#86b483"/><rect x="94.1" y="339.02" width="2.4" height="1.98" fill="#398433"/><rect x="92.0" y="340.85" width="6.5" height="1.98" fill="#b7d2b5"/><rect x="94.1" y="340.85" width="2.4" height="1.98" fill="#7eaf7a"/><rect x="92.0" y="342.68" width="6.5" height="1.98" fill="#c4dbc3"/><rect x="94.1" y="342.68" width="2.4" height="1.98" fill="#92bb8e"/><rect x="92.0" y="344.52" width="6.5" height="1.98" fill="#c6dcc5"/><rect x="94.1" y="344.52" width="2.4" height="1.98" fill="#a1c59f"/><rect x="92.0" y="346.35" width="6.5" height="1.98" fill="#c5dbc4"/><rect x="94.1" y="346.35" width="2.4" height="1.98" fill="#9ac097"/><rect x="92.0" y="348.19" width="6.5" height="1.98" fill="#d0e2cf"/><rect x="94.1" y="348.19" width="2.4" height="1.98" fill="#aecdac"/><rect x="92.0" y="350.02" width="6.5" height="1.98" fill="#d7e7d6"/><rect x="94.1" y="350.02" width="2.4" height="1.98" fill="#cadec8"/><rect x="92.0" y="351.85" width="6.5" height="1.98" fill="#dae8d9"/><rect x="94.1" y="351.85" width="2.4" height="1.98" fill="#cadec8"/><rect x="92.0" y="353.69" width="6.5" height="1.98" fill="#cadec8"/><rect x="94.1" y="353.69" width="2.4" height="1.98" fill="#b0ceae"/><rect x="92.0" y="355.52" width="6.5" height="1.98" fill="#c6dbc4"/><rect x="94.1" y="355.52" width="2.4" height="1.98" fill="#9ec39b"/><rect x="92.0" y="357.35" width="6.5" height="1.98" fill="#bcd5ba"/><rect x="94.1" y="357.35" width="2.4" height="1.98" fill="#84b381"/><rect x="92.0" y="359.19" width="6.5" height="1.98" fill="#c5dbc4"/><rect x="94.1" y="359.19" width="2.4" height="1.98" fill="#98bf95"/><rect x="92.0" y="361.02" width="6.5" height="1.98" fill="#9ac097"/><rect x="94.1" y="361.02" width="2.4" height="1.98" fill="#6aa265"/><rect x="92.0" y="362.86" width="6.5" height="1.98" fill="#97be94"/><rect x="94.1" y="362.86" width="2.4" height="1.98" fill="#66a061"/><rect x="92.0" y="364.69" width="6.5" height="1.98" fill="#93bc90"/><rect x="94.1" y="364.69" width="2.4" height="1.98" fill="#629e5e"/><rect x="92.0" y="366.52" width="6.5" height="1.98" fill="#cee1cd"/><rect x="94.1" y="366.52" width="2.4" height="1.98" fill="#accba9"/><rect x="92.0" y="368.36" width="6.5" height="1.98" fill="#cadec8"/><rect x="94.1" y="368.36" width="2.4" height="1.98" fill="#97bf94"/><rect x="92.0" y="370.19" width="6.5" height="1.98" fill="#b9d4b7"/><rect x="94.1" y="370.19" width="2.4" height="1.98" fill="#87b584"/><rect x="92.0" y="372.02" width="6.5" height="1.98" fill="#b8d3b6"/><rect x="94.1" y="372.02" width="2.4" height="1.98" fill="#82b27e"/><rect x="92.0" y="373.86" width="6.5" height="1.98" fill="#c0d8be"/><rect x="94.1" y="373.86" width="2.4" height="1.98" fill="#8bb788"/><rect x="92.0" y="375.69" width="6.5" height="1.98" fill="#bad4b8"/><rect x="94.1" y="375.69" width="2.4" height="1.98" fill="#81b17d"/><rect x="92.0" y="377.52" width="6.5" height="1.98" fill="#bed7bc"/><rect x="94.1" y="377.52" width="2.4" height="1.98" fill="#7dae79"/><rect x="92.0" y="379.36" width="6.5" height="1.98" fill="#c3dac2"/><rect x="94.1" y="379.36" width="2.4" height="1.98" fill="#93bc90"/><rect x="92.0" y="381.19" width="6.5" height="1.98" fill="#d2e3d1"/><rect x="94.1" y="381.19" width="2.4" height="1.98" fill="#b7d2b5"/><rect x="92.0" y="383.03" width="6.5" height="1.98" fill="#d1e2cf"/><rect x="94.1" y="383.03" width="2.4" height="1.98" fill="#c0d8bf"/><rect x="92.0" y="384.86" width="6.5" height="1.98" fill="#c6dcc4"/><rect x="94.1" y="384.86" width="2.4" height="1.98" fill="#a7c9a5"/><rect x="92.0" y="386.69" width="6.5" height="1.98" fill="#cce0cb"/><rect x="94.1" y="386.69" width="2.4" height="1.98" fill="#a9caa6"/><rect x="92.0" y="388.53" width="6.5" height="1.98" fill="#cadec8"/><rect x="94.1" y="388.53" width="2.4" height="1.98" fill="#a6c8a3"/><rect x="92.0" y="390.36" width="6.5" height="1.98" fill="#cce0cb"/><rect x="94.1" y="390.36" width="2.4" height="1.98" fill="#b0cead"/><rect x="92.0" y="392.19" width="6.5" height="1.98" fill="#bbd5b9"/><rect x="94.1" y="392.19" width="2.4" height="1.98" fill="#97bf94"/><rect x="92.0" y="394.03" width="6.5" height="1.98" fill="#d2e3d1"/><rect x="94.1" y="394.03" width="2.4" height="1.98" fill="#b1cfaf"/><rect x="92.0" y="395.86" width="6.5" height="1.98" fill="#cadec8"/><rect x="94.1" y="395.86" width="2.4" height="1.98" fill="#9fc39c"/><rect x="92.0" y="397.70" width="6.5" height="1.98" fill="#c4dbc2"/><rect x="94.1" y="397.70" width="2.4" height="1.98" fill="#97bf94"/><rect x="92.0" y="399.53" width="6.5" height="1.98" fill="#d0e2ce"/><rect x="94.1" y="399.53" width="2.4" height="1.98" fill="#b7d2b5"/><rect x="92.0" y="401.36" width="6.5" height="1.98" fill="#d0e2cf"/><rect x="94.1" y="401.36" width="2.4" height="1.98" fill="#b5d1b2"/><rect x="92.0" y="403.20" width="6.5" height="1.98" fill="#deebdd"/><rect x="94.1" y="403.20" width="2.4" height="1.98" fill="#c8ddc6"/><rect x="92.0" y="405.03" width="6.5" height="1.98" fill="#deebdd"/><rect x="94.1" y="405.03" width="2.4" height="1.98" fill="#dae8d9"/><rect x="92.0" y="406.87" width="6.5" height="1.98" fill="#cbdfc9"/><rect x="94.1" y="406.87" width="2.4" height="1.98" fill="#cde0cc"/><rect x="92.0" y="408.70" width="6.5" height="1.98" fill="#d5e5d3"/><rect x="94.1" y="408.70" width="2.4" height="1.98" fill="#d3e3d1"/><rect x="92.0" y="410.53" width="6.5" height="1.98" fill="#d1e3d0"/><rect x="94.1" y="410.53" width="2.4" height="1.98" fill="#d0e2ce"/><rect x="92.0" y="412.37" width="6.5" height="1.98" fill="#ddeadd"/><rect x="94.1" y="412.37" width="2.4" height="1.98" fill="#e4efe4"/></g>
<g><rect x="119.0" y="267.50" width="38.7" height="1.98" fill="#d4c8e3"/><rect x="119.0" y="269.33" width="38.7" height="1.98" fill="#dad0e6"/><rect x="119.0" y="271.17" width="38.7" height="1.98" fill="#e1d9eb"/><rect x="119.0" y="273.00" width="38.7" height="1.98" fill="#cec1df"/><rect x="119.0" y="274.83" width="38.7" height="1.98" fill="#e3dced"/><rect x="119.0" y="276.67" width="38.7" height="1.98" fill="#e5deee"/><rect x="119.0" y="278.50" width="38.7" height="1.98" fill="#dcd3e8"/><rect x="119.0" y="280.34" width="38.7" height="1.98" fill="#e6dfef"/><rect x="119.0" y="282.17" width="38.7" height="1.98" fill="#e4dded"/><rect x="119.0" y="284.00" width="38.7" height="1.98" fill="#e4dced"/><rect x="119.0" y="285.84" width="38.7" height="1.98" fill="#ddd4e9"/><rect x="119.0" y="287.67" width="38.7" height="1.98" fill="#d7cde5"/><rect x="119.0" y="289.50" width="38.7" height="1.98" fill="#d8cee6"/><rect x="119.0" y="291.34" width="38.7" height="1.98" fill="#e5deee"/><rect x="119.0" y="293.17" width="38.7" height="1.98" fill="#dbd2e8"/><rect x="119.0" y="295.01" width="38.7" height="1.98" fill="#e9e3f1"/><rect x="119.0" y="296.84" width="38.7" height="1.98" fill="#e0d8eb"/><rect x="119.0" y="298.67" width="38.7" height="1.98" fill="#dad0e6"/><rect x="119.0" y="300.51" width="38.7" height="1.98" fill="#e6dfef"/><rect x="119.0" y="302.34" width="38.7" height="1.98" fill="#e2daec"/><rect x="119.0" y="304.18" width="38.7" height="1.98" fill="#e2daec"/><rect x="119.0" y="306.01" width="38.7" height="1.98" fill="#eeeaf4"/><rect x="119.0" y="307.84" width="38.7" height="1.98" fill="#e9e3f1"/><rect x="119.0" y="309.68" width="38.7" height="1.98" fill="#ded6ea"/><rect x="119.0" y="311.51" width="38.7" height="1.98" fill="#e2dbec"/><rect x="119.0" y="313.34" width="38.7" height="1.98" fill="#ddd4e8"/><rect x="119.0" y="315.18" width="38.7" height="1.98" fill="#e4dded"/><rect x="119.0" y="317.01" width="38.7" height="1.98" fill="#e1d9eb"/><rect x="119.0" y="318.84" width="38.7" height="1.98" fill="#e6dfee"/><rect x="119.0" y="320.68" width="38.7" height="1.98" fill="#e9e3f1"/><rect x="119.0" y="322.51" width="38.7" height="1.98" fill="#dfd7ea"/><rect x="119.0" y="324.35" width="38.7" height="1.98" fill="#cfc3e0"/><rect x="119.0" y="326.18" width="38.7" height="1.98" fill="#e2dbec"/><rect x="119.0" y="328.01" width="38.7" height="1.98" fill="#e1d9eb"/><rect x="119.0" y="329.85" width="38.7" height="1.98" fill="#e3dced"/><rect x="119.0" y="331.68" width="38.7" height="1.98" fill="#e1d9eb"/><rect x="119.0" y="333.51" width="38.7" height="1.98" fill="#e1d9eb"/><rect x="119.0" y="335.35" width="38.7" height="1.98" fill="#cdc0de"/><rect x="119.0" y="337.18" width="38.7" height="1.98" fill="#c7b9da"/><rect x="119.0" y="339.02" width="38.7" height="1.98" fill="#c8badb"/><rect x="119.0" y="340.85" width="38.7" height="1.98" fill="#e1d9eb"/><rect x="119.0" y="342.68" width="38.7" height="1.98" fill="#e8e1f0"/><rect x="119.0" y="344.52" width="38.7" height="1.98" fill="#e2dbec"/><rect x="119.0" y="346.35" width="38.7" height="1.98" fill="#e5deee"/><rect x="119.0" y="348.19" width="38.7" height="1.98" fill="#e8e2f0"/><rect x="119.0" y="350.02" width="38.7" height="1.98" fill="#e4dded"/><rect x="119.0" y="351.85" width="38.7" height="1.98" fill="#e7e1ef"/><rect x="119.0" y="353.69" width="38.7" height="1.98" fill="#dfd7ea"/><rect x="119.0" y="355.52" width="38.7" height="1.98" fill="#e3dced"/><rect x="119.0" y="357.35" width="38.7" height="1.98" fill="#e4dded"/><rect x="119.0" y="359.19" width="38.7" height="1.98" fill="#e6dfee"/><rect x="119.0" y="361.02" width="38.7" height="1.98" fill="#c9badb"/><rect x="119.0" y="362.86" width="38.7" height="1.98" fill="#c7b8da"/><rect x="119.0" y="364.69" width="38.7" height="1.98" fill="#c4b4d8"/><rect x="119.0" y="366.52" width="38.7" height="1.98" fill="#e7e0ef"/><rect x="119.0" y="368.36" width="38.7" height="1.98" fill="#ebe6f2"/><rect x="119.0" y="370.19" width="38.7" height="1.98" fill="#dfd7ea"/><rect x="119.0" y="372.02" width="38.7" height="1.98" fill="#e0d8eb"/><rect x="119.0" y="373.86" width="38.7" height="1.98" fill="#e6dfee"/><rect x="119.0" y="375.69" width="38.7" height="1.98" fill="#e3dced"/><rect x="119.0" y="377.52" width="38.7" height="1.98" fill="#eae4f1"/><rect x="119.0" y="379.36" width="38.7" height="1.98" fill="#e6dfef"/><rect x="119.0" y="381.19" width="38.7" height="1.98" fill="#e6e0ef"/><rect x="119.0" y="383.03" width="38.7" height="1.98" fill="#e0d8eb"/><rect x="119.0" y="384.86" width="38.7" height="1.98" fill="#dfd7ea"/><rect x="119.0" y="386.69" width="38.7" height="1.98" fill="#e6e0ef"/><rect x="119.0" y="388.53" width="38.7" height="1.98" fill="#e4deee"/><rect x="119.0" y="390.36" width="38.7" height="1.98" fill="#e3dbec"/><rect x="119.0" y="392.19" width="38.7" height="1.98" fill="#dbd1e7"/><rect x="119.0" y="394.03" width="38.7" height="1.98" fill="#e9e3f1"/><rect x="119.0" y="395.86" width="38.7" height="1.98" fill="#e8e2f0"/><rect x="119.0" y="397.70" width="38.7" height="1.98" fill="#e5deee"/><rect x="119.0" y="399.53" width="38.7" height="1.98" fill="#e4dced"/><rect x="119.0" y="401.36" width="38.7" height="1.98" fill="#e5dfee"/><rect x="119.0" y="403.20" width="38.7" height="1.98" fill="#ece7f3"/><rect x="119.0" y="405.03" width="38.7" height="1.98" fill="#e4dded"/><rect x="119.0" y="406.87" width="38.7" height="1.98" fill="#d3c7e2"/><rect x="119.0" y="408.70" width="38.7" height="1.98" fill="#dcd3e8"/><rect x="119.0" y="410.53" width="38.7" height="1.98" fill="#d9d0e6"/><rect x="119.0" y="412.37" width="38.7" height="1.98" fill="#ded6ea"/></g>
<rect x="119.0" y="267.5" width="38.7" height="146.7" filter="url(#ndw)" opacity="0.55"/>
<rect x="119.0" y="267.5" width="38.7" height="146.7" filter="url(#ndc110_72_160)" opacity="0.3"/>
<g filter="url(#bl0p6_0p4)" opacity="0.8"><rect x="134.8" y="267.50" width="6.5" height="1.98" fill="#b09bcb"/><rect x="136.8" y="267.50" width="2.6" height="1.98" fill="#7b58a8"/><rect x="134.8" y="269.33" width="6.5" height="1.98" fill="#af9aca"/><rect x="136.8" y="269.33" width="2.6" height="1.98" fill="#6e49a0"/><rect x="134.8" y="271.17" width="6.5" height="1.98" fill="#c2b1d7"/><rect x="136.8" y="271.17" width="2.6" height="1.98" fill="#9377b8"/><rect x="134.8" y="273.00" width="6.5" height="1.98" fill="#a891c6"/><rect x="136.8" y="273.00" width="2.6" height="1.98" fill="#6f49a1"/><rect x="134.8" y="274.83" width="6.5" height="1.98" fill="#c0afd5"/><rect x="136.8" y="274.83" width="2.6" height="1.98" fill="#8a6bb2"/><rect x="134.8" y="276.67" width="6.5" height="1.98" fill="#c1b0d6"/><rect x="136.8" y="276.67" width="2.6" height="1.98" fill="#8a6cb3"/><rect x="134.8" y="278.50" width="6.5" height="1.98" fill="#bba9d2"/><rect x="136.8" y="278.50" width="2.6" height="1.98" fill="#8969b1"/><rect x="134.8" y="280.34" width="6.5" height="1.98" fill="#bfafd5"/><rect x="136.8" y="280.34" width="2.6" height="1.98" fill="#8565af"/><rect x="134.8" y="282.17" width="6.5" height="1.98" fill="#beadd4"/><rect x="136.8" y="282.17" width="2.6" height="1.98" fill="#8463ae"/><rect x="134.8" y="284.00" width="6.5" height="1.98" fill="#b9a7d1"/><rect x="136.8" y="284.00" width="2.6" height="1.98" fill="#7a57a8"/><rect x="134.8" y="285.84" width="6.5" height="1.98" fill="#b5a2cf"/><rect x="136.8" y="285.84" width="2.6" height="1.98" fill="#7a57a8"/><rect x="134.8" y="287.67" width="6.5" height="1.98" fill="#ad98c9"/><rect x="136.8" y="287.67" width="2.6" height="1.98" fill="#6e49a0"/><rect x="134.8" y="289.50" width="6.5" height="1.98" fill="#af9acb"/><rect x="136.8" y="289.50" width="2.6" height="1.98" fill="#714ca2"/><rect x="134.8" y="291.34" width="6.5" height="1.98" fill="#beadd4"/><rect x="136.8" y="291.34" width="2.6" height="1.98" fill="#8464af"/><rect x="134.8" y="293.17" width="6.5" height="1.98" fill="#baa7d2"/><rect x="136.8" y="293.17" width="2.6" height="1.98" fill="#8768b1"/><rect x="134.8" y="295.01" width="6.5" height="1.98" fill="#c9bbdc"/><rect x="136.8" y="295.01" width="2.6" height="1.98" fill="#997ebc"/><rect x="134.8" y="296.84" width="6.5" height="1.98" fill="#bfaed5"/><rect x="136.8" y="296.84" width="2.6" height="1.98" fill="#8d6fb4"/><rect x="134.8" y="298.67" width="6.5" height="1.98" fill="#b19dcc"/><rect x="136.8" y="298.67" width="2.6" height="1.98" fill="#7551a5"/><rect x="134.8" y="300.51" width="6.5" height="1.98" fill="#beadd4"/><rect x="136.8" y="300.51" width="2.6" height="1.98" fill="#8161ad"/><rect x="134.8" y="302.34" width="6.5" height="1.98" fill="#b8a5d0"/><rect x="136.8" y="302.34" width="2.6" height="1.98" fill="#7855a7"/><rect x="134.8" y="304.18" width="6.5" height="1.98" fill="#baa8d2"/><rect x="136.8" y="304.18" width="2.6" height="1.98" fill="#7e5cab"/><rect x="134.8" y="306.01" width="6.5" height="1.98" fill="#c6b7da"/><rect x="136.8" y="306.01" width="2.6" height="1.98" fill="#896ab2"/><rect x="134.8" y="307.84" width="6.5" height="1.98" fill="#c5b5d9"/><rect x="136.8" y="307.84" width="2.6" height="1.98" fill="#8e71b5"/><rect x="134.8" y="309.68" width="6.5" height="1.98" fill="#c4b5d9"/><rect x="136.8" y="309.68" width="2.6" height="1.98" fill="#9d84bf"/><rect x="134.8" y="311.51" width="6.5" height="1.98" fill="#c6b7da"/><rect x="136.8" y="311.51" width="2.6" height="1.98" fill="#9b81bd"/><rect x="134.8" y="313.34" width="6.5" height="1.98" fill="#c1b0d6"/><rect x="136.8" y="313.34" width="2.6" height="1.98" fill="#977cbb"/><rect x="134.8" y="315.18" width="6.5" height="1.98" fill="#c2b2d7"/><rect x="136.8" y="315.18" width="2.6" height="1.98" fill="#8f72b6"/><rect x="134.8" y="317.01" width="6.5" height="1.98" fill="#c4b5d8"/><rect x="136.8" y="317.01" width="2.6" height="1.98" fill="#997ebc"/><rect x="134.8" y="318.84" width="6.5" height="1.98" fill="#c7b8da"/><rect x="136.8" y="318.84" width="2.6" height="1.98" fill="#987dbb"/><rect x="134.8" y="320.68" width="6.5" height="1.98" fill="#d1c5e1"/><rect x="136.8" y="320.68" width="2.6" height="1.98" fill="#ad98c9"/><rect x="134.8" y="322.51" width="6.5" height="1.98" fill="#ccbedd"/><rect x="136.8" y="322.51" width="2.6" height="1.98" fill="#af9aca"/><rect x="134.8" y="324.35" width="6.5" height="1.98" fill="#b8a5d0"/><rect x="136.8" y="324.35" width="2.6" height="1.98" fill="#9478b9"/><rect x="134.8" y="326.18" width="6.5" height="1.98" fill="#ccbfde"/><rect x="136.8" y="326.18" width="2.6" height="1.98" fill="#ab94c8"/><rect x="134.8" y="328.01" width="6.5" height="1.98" fill="#cec1df"/><rect x="136.8" y="328.01" width="2.6" height="1.98" fill="#b19ccc"/><rect x="134.8" y="329.85" width="6.5" height="1.98" fill="#cdc0de"/><rect x="136.8" y="329.85" width="2.6" height="1.98" fill="#ab95c8"/><rect x="134.8" y="331.68" width="6.5" height="1.98" fill="#cbbedd"/><rect x="136.8" y="331.68" width="2.6" height="1.98" fill="#ab95c8"/><rect x="134.8" y="333.51" width="6.5" height="1.98" fill="#c5b6d9"/><rect x="136.8" y="333.51" width="2.6" height="1.98" fill="#9b81be"/><rect x="134.8" y="335.35" width="6.5" height="1.98" fill="#b09ccb"/><rect x="136.8" y="335.35" width="2.6" height="1.98" fill="#8565af"/><rect x="134.8" y="337.18" width="6.5" height="1.98" fill="#a48cc3"/><rect x="136.8" y="337.18" width="2.6" height="1.98" fill="#6f49a1"/><rect x="134.8" y="339.02" width="6.5" height="1.98" fill="#a087c1"/><rect x="136.8" y="339.02" width="2.6" height="1.98" fill="#6e48a0"/><rect x="134.8" y="340.85" width="6.5" height="1.98" fill="#c1b1d6"/><rect x="136.8" y="340.85" width="2.6" height="1.98" fill="#9175b7"/><rect x="134.8" y="342.68" width="6.5" height="1.98" fill="#cabcdc"/><rect x="136.8" y="342.68" width="2.6" height="1.98" fill="#9d84bf"/><rect x="134.8" y="344.52" width="6.5" height="1.98" fill="#cbbddd"/><rect x="136.8" y="344.52" width="2.6" height="1.98" fill="#a891c6"/><rect x="134.8" y="346.35" width="6.5" height="1.98" fill="#cabddd"/><rect x="136.8" y="346.35" width="2.6" height="1.98" fill="#a38ac2"/><rect x="134.8" y="348.19" width="6.5" height="1.98" fill="#d1c5e1"/><rect x="136.8" y="348.19" width="2.6" height="1.98" fill="#ae99ca"/><rect x="134.8" y="350.02" width="6.5" height="1.98" fill="#d6cbe4"/><rect x="136.8" y="350.02" width="2.6" height="1.98" fill="#c1b0d6"/><rect x="134.8" y="351.85" width="6.5" height="1.98" fill="#d8cde5"/><rect x="136.8" y="351.85" width="2.6" height="1.98" fill="#c1b1d6"/><rect x="134.8" y="353.69" width="6.5" height="1.98" fill="#cdbfde"/><rect x="136.8" y="353.69" width="2.6" height="1.98" fill="#b09bcb"/><rect x="134.8" y="355.52" width="6.5" height="1.98" fill="#cabcdc"/><rect x="136.8" y="355.52" width="2.6" height="1.98" fill="#a48cc4"/><rect x="134.8" y="357.35" width="6.5" height="1.98" fill="#c4b5d8"/><rect x="136.8" y="357.35" width="2.6" height="1.98" fill="#9478b9"/><rect x="134.8" y="359.19" width="6.5" height="1.98" fill="#cbbddd"/><rect x="136.8" y="359.19" width="2.6" height="1.98" fill="#a289c2"/><rect x="134.8" y="361.02" width="6.5" height="1.98" fill="#ac96c8"/><rect x="136.8" y="361.02" width="2.6" height="1.98" fill="#805fac"/><rect x="134.8" y="362.86" width="6.5" height="1.98" fill="#aa93c7"/><rect x="136.8" y="362.86" width="2.6" height="1.98" fill="#7e5dab"/><rect x="134.8" y="364.69" width="6.5" height="1.98" fill="#a790c5"/><rect x="136.8" y="364.69" width="2.6" height="1.98" fill="#7b59a9"/><rect x="134.8" y="366.52" width="6.5" height="1.98" fill="#d0c3e0"/><rect x="136.8" y="366.52" width="2.6" height="1.98" fill="#ad97c9"/><rect x="134.8" y="368.36" width="6.5" height="1.98" fill="#cdc0de"/><rect x="136.8" y="368.36" width="2.6" height="1.98" fill="#a088c1"/><rect x="134.8" y="370.19" width="6.5" height="1.98" fill="#c2b2d7"/><rect x="136.8" y="370.19" width="2.6" height="1.98" fill="#967bba"/><rect x="134.8" y="372.02" width="6.5" height="1.98" fill="#c1b1d6"/><rect x="136.8" y="372.02" width="2.6" height="1.98" fill="#9276b8"/><rect x="134.8" y="373.86" width="6.5" height="1.98" fill="#c7b8da"/><rect x="136.8" y="373.86" width="2.6" height="1.98" fill="#997fbc"/><rect x="134.8" y="375.69" width="6.5" height="1.98" fill="#c3b3d8"/><rect x="136.8" y="375.69" width="2.6" height="1.98" fill="#9376b8"/><rect x="134.8" y="377.52" width="6.5" height="1.98" fill="#c6b7da"/><rect x="136.8" y="377.52" width="2.6" height="1.98" fill="#9073b6"/><rect x="134.8" y="379.36" width="6.5" height="1.98" fill="#c9bbdc"/><rect x="136.8" y="379.36" width="2.6" height="1.98" fill="#9e84bf"/><rect x="134.8" y="381.19" width="6.5" height="1.98" fill="#d2c6e1"/><rect x="136.8" y="381.19" width="2.6" height="1.98" fill="#b3a0cd"/><rect x="134.8" y="383.03" width="6.5" height="1.98" fill="#d1c4e1"/><rect x="136.8" y="383.03" width="2.6" height="1.98" fill="#b9a7d1"/><rect x="134.8" y="384.86" width="6.5" height="1.98" fill="#cabcdc"/><rect x="136.8" y="384.86" width="2.6" height="1.98" fill="#a992c7"/><rect x="134.8" y="386.69" width="6.5" height="1.98" fill="#cdc0df"/><rect x="136.8" y="386.69" width="2.6" height="1.98" fill="#a992c6"/><rect x="134.8" y="388.53" width="6.5" height="1.98" fill="#ccbfde"/><rect x="136.8" y="388.53" width="2.6" height="1.98" fill="#a790c6"/><rect x="134.8" y="390.36" width="6.5" height="1.98" fill="#cec1df"/><rect x="136.8" y="390.36" width="2.6" height="1.98" fill="#af9acb"/><rect x="134.8" y="392.19" width="6.5" height="1.98" fill="#c2b2d7"/><rect x="136.8" y="392.19" width="2.6" height="1.98" fill="#9e84bf"/><rect x="134.8" y="394.03" width="6.5" height="1.98" fill="#d2c6e1"/><rect x="136.8" y="394.03" width="2.6" height="1.98" fill="#af9acb"/><rect x="134.8" y="395.86" width="6.5" height="1.98" fill="#ccbfde"/><rect x="136.8" y="395.86" width="2.6" height="1.98" fill="#a38bc3"/><rect x="134.8" y="397.70" width="6.5" height="1.98" fill="#c9badb"/><rect x="136.8" y="397.70" width="2.6" height="1.98" fill="#9e85c0"/><rect x="134.8" y="399.53" width="6.5" height="1.98" fill="#d0c4e0"/><rect x="136.8" y="399.53" width="2.6" height="1.98" fill="#b39fcd"/><rect x="134.8" y="401.36" width="6.5" height="1.98" fill="#d0c4e0"/><rect x="136.8" y="401.36" width="2.6" height="1.98" fill="#b09ccc"/><rect x="134.8" y="403.20" width="6.5" height="1.98" fill="#d9cfe6"/><rect x="136.8" y="403.20" width="2.6" height="1.98" fill="#bcaad3"/><rect x="134.8" y="405.03" width="6.5" height="1.98" fill="#d9cfe6"/><rect x="136.8" y="405.03" width="2.6" height="1.98" fill="#c8b9db"/><rect x="134.8" y="406.87" width="6.5" height="1.98" fill="#cbbddd"/><rect x="136.8" y="406.87" width="2.6" height="1.98" fill="#beadd4"/><rect x="134.8" y="408.70" width="6.5" height="1.98" fill="#d1c5e1"/><rect x="136.8" y="408.70" width="2.6" height="1.98" fill="#c1b1d7"/><rect x="134.8" y="410.53" width="6.5" height="1.98" fill="#cfc2df"/><rect x="136.8" y="410.53" width="2.6" height="1.98" fill="#bfaed5"/><rect x="134.8" y="412.37" width="6.5" height="1.98" fill="#d7cde5"/><rect x="136.8" y="412.37" width="2.6" height="1.98" fill="#cdc0de"/></g>
<g><rect x="162.0" y="267.50" width="40.1" height="1.98" fill="#f1a8aa"/><rect x="162.0" y="269.33" width="40.1" height="1.98" fill="#f3b4b6"/><rect x="162.0" y="271.17" width="40.1" height="1.98" fill="#f5bdbf"/><rect x="162.0" y="273.00" width="40.1" height="1.98" fill="#f0a0a3"/><rect x="162.0" y="274.83" width="40.1" height="1.98" fill="#f5c3c5"/><rect x="162.0" y="276.67" width="40.1" height="1.98" fill="#f6c6c7"/><rect x="162.0" y="278.50" width="40.1" height="1.98" fill="#f3b6b7"/><rect x="162.0" y="280.34" width="40.1" height="1.98" fill="#f6c8c9"/><rect x="162.0" y="282.17" width="40.1" height="1.98" fill="#f6c5c6"/><rect x="162.0" y="284.00" width="40.1" height="1.98" fill="#f6c3c5"/><rect x="162.0" y="285.84" width="40.1" height="1.98" fill="#f3b6b8"/><rect x="162.0" y="287.67" width="40.1" height="1.98" fill="#f2afb1"/><rect x="162.0" y="289.50" width="40.1" height="1.98" fill="#f3b1b3"/><rect x="162.0" y="291.34" width="40.1" height="1.98" fill="#f6c6c7"/><rect x="162.0" y="293.17" width="40.1" height="1.98" fill="#f3b4b6"/><rect x="162.0" y="295.01" width="40.1" height="1.98" fill="#f7cecf"/><rect x="162.0" y="296.84" width="40.1" height="1.98" fill="#f4bdbe"/><rect x="162.0" y="298.67" width="40.1" height="1.98" fill="#f3b4b6"/><rect x="162.0" y="300.51" width="40.1" height="1.98" fill="#f6c8ca"/><rect x="162.0" y="302.34" width="40.1" height="1.98" fill="#f5c1c2"/><rect x="162.0" y="304.18" width="40.1" height="1.98" fill="#f5c0c2"/><rect x="162.0" y="306.01" width="40.1" height="1.98" fill="#f9d9da"/><rect x="162.0" y="307.84" width="40.1" height="1.98" fill="#f7ced0"/><rect x="162.0" y="309.68" width="40.1" height="1.98" fill="#f4babc"/><rect x="162.0" y="311.51" width="40.1" height="1.98" fill="#f5c2c3"/><rect x="162.0" y="313.34" width="40.1" height="1.98" fill="#f4b7b9"/><rect x="162.0" y="315.18" width="40.1" height="1.98" fill="#f6c5c7"/><rect x="162.0" y="317.01" width="40.1" height="1.98" fill="#f5bfc1"/><rect x="162.0" y="318.84" width="40.1" height="1.98" fill="#f6c9ca"/><rect x="162.0" y="320.68" width="40.1" height="1.98" fill="#f7cfd0"/><rect x="162.0" y="322.51" width="40.1" height="1.98" fill="#f4bbbd"/><rect x="162.0" y="324.35" width="40.1" height="1.98" fill="#f1a5a7"/><rect x="162.0" y="326.18" width="40.1" height="1.98" fill="#f5c2c3"/><rect x="162.0" y="328.01" width="40.1" height="1.98" fill="#f5c0c1"/><rect x="162.0" y="329.85" width="40.1" height="1.98" fill="#f6c4c5"/><rect x="162.0" y="331.68" width="40.1" height="1.98" fill="#f5bfc1"/><rect x="162.0" y="333.51" width="40.1" height="1.98" fill="#f5c0c1"/><rect x="162.0" y="335.35" width="40.1" height="1.98" fill="#f0a3a5"/><rect x="162.0" y="337.18" width="40.1" height="1.98" fill="#ef979a"/><rect x="162.0" y="339.02" width="40.1" height="1.98" fill="#ef999c"/><rect x="162.0" y="340.85" width="40.1" height="1.98" fill="#f5bfc1"/><rect x="162.0" y="342.68" width="40.1" height="1.98" fill="#f7cdce"/><rect x="162.0" y="344.52" width="40.1" height="1.98" fill="#f5c3c4"/><rect x="162.0" y="346.35" width="40.1" height="1.98" fill="#f6c8c9"/><rect x="162.0" y="348.19" width="40.1" height="1.98" fill="#f7cdcf"/><rect x="162.0" y="350.02" width="40.1" height="1.98" fill="#f6c5c7"/><rect x="162.0" y="351.85" width="40.1" height="1.98" fill="#f7cccd"/><rect x="162.0" y="353.69" width="40.1" height="1.98" fill="#f5bdbf"/><rect x="162.0" y="355.52" width="40.1" height="1.98" fill="#f6c5c6"/><rect x="162.0" y="357.35" width="40.1" height="1.98" fill="#f6c6c8"/><rect x="162.0" y="359.19" width="40.1" height="1.98" fill="#f7c9cb"/><rect x="162.0" y="361.02" width="40.1" height="1.98" fill="#ef9a9d"/><rect x="162.0" y="362.86" width="40.1" height="1.98" fill="#ee979a"/><rect x="162.0" y="364.69" width="40.1" height="1.98" fill="#ee9294"/><rect x="162.0" y="366.52" width="40.1" height="1.98" fill="#f7cbcd"/><rect x="162.0" y="368.36" width="40.1" height="1.98" fill="#f8d4d5"/><rect x="162.0" y="370.19" width="40.1" height="1.98" fill="#f5bdbf"/><rect x="162.0" y="372.02" width="40.1" height="1.98" fill="#f5bfc0"/><rect x="162.0" y="373.86" width="40.1" height="1.98" fill="#f6c9cb"/><rect x="162.0" y="375.69" width="40.1" height="1.98" fill="#f6c5c6"/><rect x="162.0" y="377.52" width="40.1" height="1.98" fill="#f8d2d3"/><rect x="162.0" y="379.36" width="40.1" height="1.98" fill="#f7cacb"/><rect x="162.0" y="381.19" width="40.1" height="1.98" fill="#f7cbcc"/><rect x="162.0" y="383.03" width="40.1" height="1.98" fill="#f5bfc1"/><rect x="162.0" y="384.86" width="40.1" height="1.98" fill="#f5bebf"/><rect x="162.0" y="386.69" width="40.1" height="1.98" fill="#f7cbcc"/><rect x="162.0" y="388.53" width="40.1" height="1.98" fill="#f6c8c9"/><rect x="162.0" y="390.36" width="40.1" height="1.98" fill="#f6c4c6"/><rect x="162.0" y="392.19" width="40.1" height="1.98" fill="#f4b8ba"/><rect x="162.0" y="394.03" width="40.1" height="1.98" fill="#f8d0d1"/><rect x="162.0" y="395.86" width="40.1" height="1.98" fill="#f7ced0"/><rect x="162.0" y="397.70" width="40.1" height="1.98" fill="#f6c8ca"/><rect x="162.0" y="399.53" width="40.1" height="1.98" fill="#f6c6c8"/><rect x="162.0" y="401.36" width="40.1" height="1.98" fill="#f6c9cb"/><rect x="162.0" y="403.20" width="40.1" height="1.98" fill="#f9d7d8"/><rect x="162.0" y="405.03" width="40.1" height="1.98" fill="#f6c7c8"/><rect x="162.0" y="406.87" width="40.1" height="1.98" fill="#f2abad"/><rect x="162.0" y="408.70" width="40.1" height="1.98" fill="#f4bdbe"/><rect x="162.0" y="410.53" width="40.1" height="1.98" fill="#f4b8b9"/><rect x="162.0" y="412.37" width="40.1" height="1.98" fill="#f4bcbe"/></g>
<rect x="162.0" y="267.5" width="40.1" height="146.7" filter="url(#ndw)" opacity="0.55"/>
<rect x="162.0" y="267.5" width="40.1" height="146.7" filter="url(#ndc218_22_28)" opacity="0.3"/>
<g filter="url(#bl0p6_0p4)" opacity="0.8"><rect x="178.6" y="267.50" width="7.0" height="1.98" fill="#e86d70"/><rect x="180.7" y="267.50" width="2.8" height="1.98" fill="#da161c"/><rect x="178.6" y="269.33" width="7.0" height="1.98" fill="#e76a6e"/><rect x="180.7" y="269.33" width="2.8" height="1.98" fill="#da161c"/><rect x="178.6" y="271.17" width="7.0" height="1.98" fill="#ec8a8d"/><rect x="180.7" y="271.17" width="2.8" height="1.98" fill="#e03d42"/><rect x="178.6" y="273.00" width="7.0" height="1.98" fill="#e66065"/><rect x="180.7" y="273.00" width="2.8" height="1.98" fill="#da161c"/><rect x="178.6" y="274.83" width="7.0" height="1.98" fill="#ec878a"/><rect x="180.7" y="274.83" width="2.8" height="1.98" fill="#de2d32"/><rect x="178.6" y="276.67" width="7.0" height="1.98" fill="#ec898c"/><rect x="180.7" y="276.67" width="2.8" height="1.98" fill="#de2d33"/><rect x="178.6" y="278.50" width="7.0" height="1.98" fill="#ea7e81"/><rect x="180.7" y="278.50" width="2.8" height="1.98" fill="#dd2a2f"/><rect x="178.6" y="280.34" width="7.0" height="1.98" fill="#ec8689"/><rect x="180.7" y="280.34" width="2.8" height="1.98" fill="#dc242a"/><rect x="178.6" y="282.17" width="7.0" height="1.98" fill="#eb8387"/><rect x="180.7" y="282.17" width="2.8" height="1.98" fill="#dc2127"/><rect x="178.6" y="284.00" width="7.0" height="1.98" fill="#ea7b7e"/><rect x="180.7" y="284.00" width="2.8" height="1.98" fill="#da161c"/><rect x="178.6" y="285.84" width="7.0" height="1.98" fill="#e97477"/><rect x="180.7" y="285.84" width="2.8" height="1.98" fill="#da161c"/><rect x="178.6" y="287.67" width="7.0" height="1.98" fill="#e7686c"/><rect x="180.7" y="287.67" width="2.8" height="1.98" fill="#da161c"/><rect x="178.6" y="289.50" width="7.0" height="1.98" fill="#e86b6f"/><rect x="180.7" y="289.50" width="2.8" height="1.98" fill="#da161c"/><rect x="178.6" y="291.34" width="7.0" height="1.98" fill="#ec8588"/><rect x="180.7" y="291.34" width="2.8" height="1.98" fill="#dc2329"/><rect x="178.6" y="293.17" width="7.0" height="1.98" fill="#ea7c7f"/><rect x="180.7" y="293.17" width="2.8" height="1.98" fill="#dd292e"/><rect x="178.6" y="295.01" width="7.0" height="1.98" fill="#ef999c"/><rect x="180.7" y="295.01" width="2.8" height="1.98" fill="#e24a4f"/><rect x="178.6" y="296.84" width="7.0" height="1.98" fill="#ec8689"/><rect x="180.7" y="296.84" width="2.8" height="1.98" fill="#df3339"/><rect x="178.6" y="298.67" width="7.0" height="1.98" fill="#e87174"/><rect x="180.7" y="298.67" width="2.8" height="1.98" fill="#da161c"/><rect x="178.6" y="300.51" width="7.0" height="1.98" fill="#ec8488"/><rect x="180.7" y="300.51" width="2.8" height="1.98" fill="#db1f24"/><rect x="178.6" y="302.34" width="7.0" height="1.98" fill="#ea797c"/><rect x="180.7" y="302.34" width="2.8" height="1.98" fill="#da161c"/><rect x="178.6" y="304.18" width="7.0" height="1.98" fill="#ea7d80"/><rect x="180.7" y="304.18" width="2.8" height="1.98" fill="#da191f"/><rect x="178.6" y="306.01" width="7.0" height="1.98" fill="#ee9497"/><rect x="180.7" y="306.01" width="2.8" height="1.98" fill="#de2d32"/><rect x="178.6" y="307.84" width="7.0" height="1.98" fill="#ee9294"/><rect x="180.7" y="307.84" width="2.8" height="1.98" fill="#df373c"/><rect x="178.6" y="309.68" width="7.0" height="1.98" fill="#ee9194"/><rect x="180.7" y="309.68" width="2.8" height="1.98" fill="#e45358"/><rect x="178.6" y="311.51" width="7.0" height="1.98" fill="#ee9497"/><rect x="180.7" y="311.51" width="2.8" height="1.98" fill="#e34f54"/><rect x="178.6" y="313.34" width="7.0" height="1.98" fill="#ec8a8d"/><rect x="180.7" y="313.34" width="2.8" height="1.98" fill="#e2474c"/><rect x="178.6" y="315.18" width="7.0" height="1.98" fill="#ed8d90"/><rect x="180.7" y="315.18" width="2.8" height="1.98" fill="#e0393e"/><rect x="178.6" y="317.01" width="7.0" height="1.98" fill="#ee9194"/><rect x="180.7" y="317.01" width="2.8" height="1.98" fill="#e34c50"/><rect x="178.6" y="318.84" width="7.0" height="1.98" fill="#ee9698"/><rect x="180.7" y="318.84" width="2.8" height="1.98" fill="#e2494e"/><rect x="178.6" y="320.68" width="7.0" height="1.98" fill="#f1aaac"/><rect x="180.7" y="320.68" width="2.8" height="1.98" fill="#e97275"/><rect x="178.6" y="322.51" width="7.0" height="1.98" fill="#f09fa2"/><rect x="180.7" y="322.51" width="2.8" height="1.98" fill="#e97578"/><rect x="178.6" y="324.35" width="7.0" height="1.98" fill="#eb8184"/><rect x="180.7" y="324.35" width="2.8" height="1.98" fill="#e24b50"/><rect x="178.6" y="326.18" width="7.0" height="1.98" fill="#f0a0a2"/><rect x="180.7" y="326.18" width="2.8" height="1.98" fill="#e86d70"/><rect x="178.6" y="328.01" width="7.0" height="1.98" fill="#f0a3a6"/><rect x="180.7" y="328.01" width="2.8" height="1.98" fill="#ea797d"/><rect x="178.6" y="329.85" width="7.0" height="1.98" fill="#f0a2a4"/><rect x="180.7" y="329.85" width="2.8" height="1.98" fill="#e86e72"/><rect x="178.6" y="331.68" width="7.0" height="1.98" fill="#f09fa1"/><rect x="180.7" y="331.68" width="2.8" height="1.98" fill="#e86e72"/><rect x="178.6" y="333.51" width="7.0" height="1.98" fill="#ee9396"/><rect x="180.7" y="333.51" width="2.8" height="1.98" fill="#e35055"/><rect x="178.6" y="335.35" width="7.0" height="1.98" fill="#e97579"/><rect x="180.7" y="335.35" width="2.8" height="1.98" fill="#de3137"/><rect x="178.6" y="337.18" width="7.0" height="1.98" fill="#e55e62"/><rect x="180.7" y="337.18" width="2.8" height="1.98" fill="#da161c"/><rect x="178.6" y="339.02" width="7.0" height="1.98" fill="#e4565a"/><rect x="180.7" y="339.02" width="2.8" height="1.98" fill="#da161c"/><rect x="178.6" y="340.85" width="7.0" height="1.98" fill="#ed8c8f"/><rect x="180.7" y="340.85" width="2.8" height="1.98" fill="#e03f44"/><rect x="178.6" y="342.68" width="7.0" height="1.98" fill="#ef9d9f"/><rect x="180.7" y="342.68" width="2.8" height="1.98" fill="#e4555a"/><rect x="178.6" y="344.52" width="7.0" height="1.98" fill="#f09fa2"/><rect x="180.7" y="344.52" width="2.8" height="1.98" fill="#e7696d"/><rect x="178.6" y="346.35" width="7.0" height="1.98" fill="#f09ea1"/><rect x="180.7" y="346.35" width="2.8" height="1.98" fill="#e66064"/><rect x="178.6" y="348.19" width="7.0" height="1.98" fill="#f2aaac"/><rect x="180.7" y="348.19" width="2.8" height="1.98" fill="#e97579"/><rect x="178.6" y="350.02" width="7.0" height="1.98" fill="#f3b3b5"/><rect x="180.7" y="350.02" width="2.8" height="1.98" fill="#ef989b"/><rect x="178.6" y="351.85" width="7.0" height="1.98" fill="#f4b7b9"/><rect x="180.7" y="351.85" width="2.8" height="1.98" fill="#ef999c"/><rect x="178.6" y="353.69" width="7.0" height="1.98" fill="#f0a2a4"/><rect x="180.7" y="353.69" width="2.8" height="1.98" fill="#ea797d"/><rect x="178.6" y="355.52" width="7.0" height="1.98" fill="#f09ea0"/><rect x="180.7" y="355.52" width="2.8" height="1.98" fill="#e66367"/><rect x="178.6" y="357.35" width="7.0" height="1.98" fill="#ee9295"/><rect x="180.7" y="357.35" width="2.8" height="1.98" fill="#e1454a"/><rect x="178.6" y="359.19" width="7.0" height="1.98" fill="#f09fa1"/><rect x="180.7" y="359.19" width="2.8" height="1.98" fill="#e65f63"/><rect x="178.6" y="361.02" width="7.0" height="1.98" fill="#e86d71"/><rect x="180.7" y="361.02" width="2.8" height="1.98" fill="#dd292e"/><rect x="178.6" y="362.86" width="7.0" height="1.98" fill="#e76a6e"/><rect x="180.7" y="362.86" width="2.8" height="1.98" fill="#dd262c"/><rect x="178.6" y="364.69" width="7.0" height="1.98" fill="#e66468"/><rect x="180.7" y="364.69" width="2.8" height="1.98" fill="#dc2126"/><rect x="178.6" y="366.52" width="7.0" height="1.98" fill="#f1a8ab"/><rect x="180.7" y="366.52" width="2.8" height="1.98" fill="#e97477"/><rect x="178.6" y="368.36" width="7.0" height="1.98" fill="#f1a5a7"/><rect x="180.7" y="368.36" width="2.8" height="1.98" fill="#e55d61"/><rect x="178.6" y="370.19" width="7.0" height="1.98" fill="#ed8f92"/><rect x="180.7" y="370.19" width="2.8" height="1.98" fill="#e24a4e"/><rect x="178.6" y="372.02" width="7.0" height="1.98" fill="#ed8d90"/><rect x="180.7" y="372.02" width="2.8" height="1.98" fill="#e14348"/><rect x="178.6" y="373.86" width="7.0" height="1.98" fill="#ef999c"/><rect x="180.7" y="373.86" width="2.8" height="1.98" fill="#e35055"/><rect x="178.6" y="375.69" width="7.0" height="1.98" fill="#ee9194"/><rect x="180.7" y="375.69" width="2.8" height="1.98" fill="#e14449"/><rect x="178.6" y="377.52" width="7.0" height="1.98" fill="#ee9799"/><rect x="180.7" y="377.52" width="2.8" height="1.98" fill="#e03e43"/><rect x="178.6" y="379.36" width="7.0" height="1.98" fill="#ef9d9f"/><rect x="180.7" y="379.36" width="2.8" height="1.98" fill="#e5595d"/><rect x="178.6" y="381.19" width="7.0" height="1.98" fill="#f2aeb0"/><rect x="180.7" y="381.19" width="2.8" height="1.98" fill="#eb8185"/><rect x="178.6" y="383.03" width="7.0" height="1.98" fill="#f2abad"/><rect x="180.7" y="383.03" width="2.8" height="1.98" fill="#ed8c8f"/><rect x="178.6" y="384.86" width="7.0" height="1.98" fill="#f09ea0"/><rect x="180.7" y="384.86" width="2.8" height="1.98" fill="#e86e71"/><rect x="178.6" y="386.69" width="7.0" height="1.98" fill="#f1a5a7"/><rect x="180.7" y="386.69" width="2.8" height="1.98" fill="#e86d70"/><rect x="178.6" y="388.53" width="7.0" height="1.98" fill="#f0a2a5"/><rect x="180.7" y="388.53" width="2.8" height="1.98" fill="#e76b6f"/><rect x="178.6" y="390.36" width="7.0" height="1.98" fill="#f1a7a9"/><rect x="180.7" y="390.36" width="2.8" height="1.98" fill="#ea7a7e"/><rect x="178.6" y="392.19" width="7.0" height="1.98" fill="#ee9497"/><rect x="180.7" y="392.19" width="2.8" height="1.98" fill="#e55d62"/><rect x="178.6" y="394.03" width="7.0" height="1.98" fill="#f2aeb0"/><rect x="180.7" y="394.03" width="2.8" height="1.98" fill="#ea7a7e"/><rect x="178.6" y="395.86" width="7.0" height="1.98" fill="#f1a4a6"/><rect x="180.7" y="395.86" width="2.8" height="1.98" fill="#e66468"/><rect x="178.6" y="397.70" width="7.0" height="1.98" fill="#ef9c9f"/><rect x="180.7" y="397.70" width="2.8" height="1.98" fill="#e55b5f"/><rect x="178.6" y="399.53" width="7.0" height="1.98" fill="#f2abad"/><rect x="180.7" y="399.53" width="2.8" height="1.98" fill="#eb8285"/><rect x="178.6" y="401.36" width="7.0" height="1.98" fill="#f2abad"/><rect x="180.7" y="401.36" width="2.8" height="1.98" fill="#ea7d80"/><rect x="178.6" y="403.20" width="7.0" height="1.98" fill="#f4bcbd"/><rect x="180.7" y="403.20" width="2.8" height="1.98" fill="#ee9295"/><rect x="178.6" y="405.03" width="7.0" height="1.98" fill="#f4bbbd"/><rect x="180.7" y="405.03" width="2.8" height="1.98" fill="#f1a9ab"/><rect x="178.6" y="406.87" width="7.0" height="1.98" fill="#f1a5a7"/><rect x="180.7" y="406.87" width="2.8" height="1.98" fill="#ef9c9f"/><rect x="178.6" y="408.70" width="7.0" height="1.98" fill="#f3b2b4"/><rect x="180.7" y="408.70" width="2.8" height="1.98" fill="#f0a3a5"/><rect x="178.6" y="410.53" width="7.0" height="1.98" fill="#f2adaf"/><rect x="180.7" y="410.53" width="2.8" height="1.98" fill="#ef9d9f"/><rect x="178.6" y="412.37" width="7.0" height="1.98" fill="#f4b9ba"/><rect x="180.7" y="412.37" width="2.8" height="1.98" fill="#f3b3b5"/></g>
<defs><linearGradient id="gg" x1="0" y1="0" x2="0" y2="1"><stop offset="0" stop-color="#32802c"/><stop offset="1" stop-color="#ffffff"/></linearGradient></defs>
<rect x="219.3" y="270.8" width="3" height="14.8" fill="url(#gg)" stroke="#666" stroke-width="0.4"/>
<defs><linearGradient id="gp" x1="0" y1="0" x2="0" y2="1"><stop offset="0" stop-color="#6e48a0"/><stop offset="1" stop-color="#ffffff"/></linearGradient></defs>
<rect x="219.3" y="293" width="3" height="13.5" fill="url(#gp)" stroke="#666" stroke-width="0.4"/>
<defs><linearGradient id="gr" x1="0" y1="0" x2="0" y2="1"><stop offset="0" stop-color="#da161c"/><stop offset="1" stop-color="#ffffff"/></linearGradient></defs>
<rect x="219.3" y="312.2" width="3" height="14.1" fill="url(#gr)" stroke="#666" stroke-width="0.4"/>
<text x="215.00" y="273.99" font-size="7.2" text-anchor="end">20</text>
<text x="215.00" y="287.59" font-size="7.2" text-anchor="end">0</text>
<text x="215.00" y="296.59" font-size="7.2" text-anchor="end">48</text>
<text x="215.00" y="307.59" font-size="7.2" text-anchor="end">0</text>
<text x="215.00" y="316.19" font-size="7.2" text-anchor="end">20</text>
<text x="215.00" y="325.79" font-size="7.2" text-anchor="end">0</text>
<text x="76.60" y="424.08" font-size="8" text-anchor="middle">–5</text>
<text x="96.40" y="424.08" font-size="8" text-anchor="middle">0</text>
<text x="113.30" y="424.08" font-size="8" text-anchor="middle">5</text>
<text x="121.60" y="424.08" font-size="8" text-anchor="middle">–5</text>
<text x="138.30" y="424.08" font-size="8" text-anchor="middle">0</text>
<text x="155.20" y="424.08" font-size="8" text-anchor="middle">5</text>
<text x="164.30" y="424.08" font-size="8" text-anchor="middle">–5</text>
<text x="181.70" y="424.08" font-size="8" text-anchor="middle">0</text>
<text x="201.30" y="424.08" font-size="8" text-anchor="middle">5</text>
<text x="138.50" y="435.55" font-size="8.2" text-anchor="middle" textLength="40" lengthAdjust="spacingAndGlyphs">Distance kb</text>
<line x1="75.50" y1="432.60" x2="114.00" y2="432.60" stroke="#555" stroke-width="0.6" stroke-dasharray="0.8 0.8"/>
<line x1="162.00" y1="432.60" x2="200.80" y2="432.60" stroke="#555" stroke-width="0.6" stroke-dasharray="0.8 0.8"/>
<text transform="translate(67.2,342.2) rotate(-90)" y="3.1" font-size="8.6" text-anchor="middle" textLength="133.6" lengthAdjust="spacingAndGlyphs">PRMT1 sites combined (<tspan font-style="italic">n</tspan> = 2,759)</text>
<path d="M31.3 299.8 L31.5 304.0 L37.0 305.4 L40.3 306.6 L41.7 309.5 L42.5 315.0 L44.3 323.0 L47.6 330.0 L52.2 334.4 L55.3 336.3 L56.0 337.8 L54.6 338.2 L55.2 341.3 L53.6 343.4 L52.0 341.8 L50.3 338.8 L48.3 336.2 L44.4 330.4 L40.6 322.6 L38.6 317.6 L38.2 322.5 L37.7 328.0 L38.5 334.0 L38.7 340.0 L38.2 350.0 L37.2 360.0 L37.0 370.0 L36.2 380.0 L37.6 384.8 L36.2 387.0 L32.6 387.0 L32.0 383.0 L32.0 378.0 L31.6 368.0 L31.1 358.0 L30.1 348.0 L29.0 342.0 L29.0 342.0 L27.9 348.0 L26.9 358.0 L26.4 368.0 L26.0 378.0 L26.0 383.0 L25.4 387.0 L21.8 387.0 L20.4 384.8 L21.8 380.0 L21.0 370.0 L20.8 360.0 L19.8 350.0 L19.3 340.0 L19.5 334.0 L20.3 328.0 L19.8 322.5 L19.4 317.6 L17.4 322.6 L13.6 330.4 L9.7 336.2 L7.7 338.8 L6.0 341.8 L4.4 343.4 L2.8 341.3 L3.4 338.2 L2.0 337.8 L2.7 336.3 L5.8 334.4 L10.4 330.0 L13.7 323.0 L15.5 315.0 L16.3 309.5 L17.7 306.6 L21.0 305.4 L26.5 304.0 L26.7 299.8Z" fill="#e4e4e4" stroke="#8c8c8c" stroke-width="0.55" stroke-linejoin="round"/>
<ellipse cx="29" cy="294.6" rx="4.5" ry="7.3" fill="#e4e4e4" stroke="#8c8c8c" stroke-width="0.55"/>
<path d="M24.6 293.6 Q24.2 287.2 29 287.3 Q33.8 287.2 33.4 293.6 Q32.8 290 29 290.3 Q25.2 290 24.6 293.6Z" fill="#8a8a8a"/>
<path d="M26.2 304 Q29 306.5 31.8 304" fill="none" stroke="#9a9a9a" stroke-width="0.4"/>
<path d="M29 342 L29 333" fill="none" stroke="#b0b0b0" stroke-width="0.3"/>
<path d="M23.6 329 Q23.6 326.2 26.6 326 Q29.5 325.6 31.8 324.6 Q34.6 323.4 35.6 324.6 Q36.2 326.2 34 327.2 Q31.6 328.2 30.2 329 Q29.6 331.4 27.2 331.8 Q24 332 23.6 329Z" fill="#222"/>
<path d="M24.3 329 Q24.4 327 26.6 326.8 Q28.8 326.8 29.3 328.6 Q29.2 330.9 27 331.2 Q24.5 331.3 24.3 329Z" fill="#e8342a"/>
<defs><radialGradient id="vg" cx="0.4" cy="0.45" r="0.6"><stop offset="0" stop-color="#1fae4a" stop-opacity="0.42"/><stop offset="1" stop-color="#15a33b" stop-opacity="0.5"/></radialGradient></defs>
<circle cx="307.5" cy="375.8" r="35" fill="#c7a6d8"/>
<circle cx="300" cy="321.8" r="56" fill="url(#vg)"/>
<ellipse cx="360.5" cy="324.3" rx="72" ry="74.6" fill="#ca3e52" fill-opacity="0.3"/>
<text x="276.70" y="322.25" font-size="8.2" text-anchor="middle" textLength="21.5" lengthAdjust="spacingAndGlyphs">3,936</text>
<text x="270.60" y="336.05" font-size="8.2" text-anchor="middle" textLength="28.2" lengthAdjust="spacingAndGlyphs">HNF4G</text>
<text x="325.40" y="323.55" font-size="8.2" text-anchor="middle" textLength="24.2" lengthAdjust="spacingAndGlyphs">12,364</text>
<text x="377.40" y="325.05" font-size="8.2" text-anchor="middle" textLength="24.6" lengthAdjust="spacingAndGlyphs">42,180</text>
<text x="375.50" y="336.05" font-size="8.2" text-anchor="middle" textLength="26.3" lengthAdjust="spacingAndGlyphs">FOXA1</text>
<text x="311.90" y="364.65" font-size="8.2" text-anchor="middle" textLength="17.9" lengthAdjust="spacingAndGlyphs">1,241</text>
<text x="288.30" y="369.95" font-size="8.2" text-anchor="middle" textLength="8.6" lengthAdjust="spacingAndGlyphs">47</text>
<text x="325.00" y="382.55" font-size="8.2" text-anchor="middle" textLength="13.4" lengthAdjust="spacingAndGlyphs">684</text>
<text x="303.80" y="391.45" font-size="8.2" text-anchor="middle" textLength="13.4" lengthAdjust="spacingAndGlyphs">657</text>
<text x="303.60" y="403.95" font-size="8.2" text-anchor="middle" textLength="25.9" lengthAdjust="spacingAndGlyphs">PRMT1</text>
<text x="450.3" y="242.2" font-size="13" font-weight="bold" fill="#000">e</text>
<text x="570.70" y="239.97" font-size="8.8" text-anchor="middle" textLength="98.5" lengthAdjust="spacingAndGlyphs">Distance correlation plot</text>
<rect x="485.90" y="268.20" width="19.17" height="18.28" fill="#227b9b"/>
<rect x="504.47" y="268.20" width="19.17" height="18.28" fill="#abd095"/>
<rect x="523.04" y="268.20" width="19.17" height="18.28" fill="#85bc99"/>
<rect x="541.61" y="268.20" width="19.17" height="18.28" fill="#85bc99"/>
<rect x="560.18" y="268.20" width="19.17" height="18.28" fill="#5da49e"/>
<rect x="578.75" y="268.20" width="19.17" height="18.28" fill="#95c49a"/>
<rect x="597.32" y="268.20" width="19.17" height="18.28" fill="#fbfb9a"/>
<rect x="615.89" y="268.20" width="19.17" height="18.28" fill="#e8f1a0"/>
<rect x="634.46" y="268.20" width="18.57" height="18.28" fill="#fbfb9a"/>
<rect x="485.90" y="285.88" width="19.17" height="18.28" fill="#abd095"/>
<rect x="504.47" y="285.88" width="19.17" height="18.28" fill="#227b9b"/>
<rect x="523.04" y="285.88" width="19.17" height="18.28" fill="#85bc99"/>
<rect x="541.61" y="285.88" width="19.17" height="18.28" fill="#4796a0"/>
<rect x="560.18" y="285.88" width="19.17" height="18.28" fill="#abd095"/>
<rect x="578.75" y="285.88" width="19.17" height="18.28" fill="#c2dd9a"/>
<rect x="597.32" y="285.88" width="19.17" height="18.28" fill="#fbfb9a"/>
<rect x="615.89" y="285.88" width="19.17" height="18.28" fill="#fbfb9a"/>
<rect x="634.46" y="285.88" width="18.57" height="18.28" fill="#fbfb9a"/>
<rect x="485.90" y="303.56" width="19.17" height="18.28" fill="#85bc99"/>
<rect x="504.47" y="303.56" width="19.17" height="18.28" fill="#85bc99"/>
<rect x="523.04" y="303.56" width="19.17" height="18.28" fill="#227b9b"/>
<rect x="541.61" y="303.56" width="19.17" height="18.28" fill="#227b9b"/>
<rect x="560.18" y="303.56" width="19.17" height="18.28" fill="#2f889f"/>
<rect x="578.75" y="303.56" width="19.17" height="18.28" fill="#4796a0"/>
<rect x="597.32" y="303.56" width="19.17" height="18.28" fill="#d5e79e"/>
<rect x="615.89" y="303.56" width="19.17" height="18.28" fill="#d5e79e"/>
<rect x="634.46" y="303.56" width="18.57" height="18.28" fill="#d5e79e"/>
<rect x="485.90" y="321.24" width="19.17" height="18.28" fill="#85bc99"/>
<rect x="504.47" y="321.24" width="19.17" height="18.28" fill="#4796a0"/>
<rect x="523.04" y="321.24" width="19.17" height="18.28" fill="#227b9b"/>
<rect x="541.61" y="321.24" width="19.17" height="18.28" fill="#227b9b"/>
<rect x="560.18" y="321.24" width="19.17" height="18.28" fill="#227b9b"/>
<rect x="578.75" y="321.24" width="19.17" height="18.28" fill="#227b9b"/>
<rect x="597.32" y="321.24" width="19.17" height="18.28" fill="#5da49e"/>
<rect x="615.89" y="321.24" width="19.17" height="18.28" fill="#d5e79e"/>
<rect x="634.46" y="321.24" width="18.57" height="18.28" fill="#d5e79e"/>
<rect x="485.90" y="338.92" width="19.17" height="18.28" fill="#5da49e"/>
<rect x="504.47" y="338.92" width="19.17" height="18.28" fill="#abd095"/>
<rect x="523.04" y="338.92" width="19.17" height="18.28" fill="#2f889f"/>
<rect x="541.61" y="338.92" width="19.17" height="18.28" fill="#227b9b"/>
<rect x="560.18" y="338.92" width="19.17" height="18.28" fill="#227b9b"/>
<rect x="578.75" y="338.92" width="19.17" height="18.28" fill="#2f889f"/>
<rect x="597.32" y="338.92" width="19.17" height="18.28" fill="#fbfb9a"/>
<rect x="615.89" y="338.92" width="19.17" height="18.28" fill="#e8f1a0"/>
<rect x="634.46" y="338.92" width="18.57" height="18.28" fill="#fbfb9a"/>
<rect x="485.90" y="356.60" width="19.17" height="18.28" fill="#95c49a"/>
<rect x="504.47" y="356.60" width="19.17" height="18.28" fill="#c2dd9a"/>
<rect x="523.04" y="356.60" width="19.17" height="18.28" fill="#4796a0"/>
<rect x="541.61" y="356.60" width="19.17" height="18.28" fill="#227b9b"/>
<rect x="560.18" y="356.60" width="19.17" height="18.28" fill="#2f889f"/>
<rect x="578.75" y="356.60" width="19.17" height="18.28" fill="#227b9b"/>
<rect x="597.32" y="356.60" width="19.17" height="18.28" fill="#fbfb9a"/>
<rect x="615.89" y="356.60" width="19.17" height="18.28" fill="#fbfb9a"/>
<rect x="634.46" y="356.60" width="18.57" height="18.28" fill="#fbfb9a"/>
<rect x="485.90" y="374.28" width="19.17" height="18.28" fill="#fbfb9a"/>
<rect x="504.47" y="374.28" width="19.17" height="18.28" fill="#fbfb9a"/>
<rect x="523.04" y="374.28" width="19.17" height="18.28" fill="#d5e79e"/>
<rect x="541.61" y="374.28" width="19.17" height="18.28" fill="#5da49e"/>
<rect x="560.18" y="374.28" width="19.17" height="18.28" fill="#fbfb9a"/>
<rect x="578.75" y="374.28" width="19.17" height="18.28" fill="#fbfb9a"/>
<rect x="597.32" y="374.28" width="19.17" height="18.28" fill="#227b9b"/>
<rect x="615.89" y="374.28" width="19.17" height="18.28" fill="#fbfb9a"/>
<rect x="634.46" y="374.28" width="18.57" height="18.28" fill="#fbfb9a"/>
<rect x="485.90" y="391.96" width="19.17" height="18.28" fill="#e8f1a0"/>
<rect x="504.47" y="391.96" width="19.17" height="18.28" fill="#fbfb9a"/>
<rect x="523.04" y="391.96" width="19.17" height="18.28" fill="#d5e79e"/>
<rect x="541.61" y="391.96" width="19.17" height="18.28" fill="#d5e79e"/>
<rect x="560.18" y="391.96" width="19.17" height="18.28" fill="#e8f1a0"/>
<rect x="578.75" y="391.96" width="19.17" height="18.28" fill="#fbfb9a"/>
<rect x="597.32" y="391.96" width="19.17" height="18.28" fill="#fbfb9a"/>
<rect x="615.89" y="391.96" width="19.17" height="18.28" fill="#227b9b"/>
<rect x="634.46" y="391.96" width="18.57" height="18.28" fill="#fbfb9a"/>
<rect x="485.90" y="409.64" width="19.17" height="17.68" fill="#fbfb9a"/>
<rect x="504.47" y="409.64" width="19.17" height="17.68" fill="#fbfb9a"/>
<rect x="523.04" y="409.64" width="19.17" height="17.68" fill="#d5e79e"/>
<rect x="541.61" y="409.64" width="19.17" height="17.68" fill="#d5e79e"/>
<rect x="560.18" y="409.64" width="19.17" height="17.68" fill="#fbfb9a"/>
<rect x="578.75" y="409.64" width="19.17" height="17.68" fill="#fbfb9a"/>
<rect x="597.32" y="409.64" width="19.17" height="17.68" fill="#fbfb9a"/>
<rect x="615.89" y="409.64" width="19.17" height="17.68" fill="#fbfb9a"/>
<rect x="634.46" y="409.64" width="18.57" height="17.68" fill="#227b9b"/>
<text x="481.60" y="281.52" font-size="8.4" text-anchor="end">PRMT1</text>
<text x="481.60" y="299.92" font-size="8.4" text-anchor="end">FOXA1</text>
<text x="481.60" y="318.62" font-size="8.4" text-anchor="end">FOXA1</text>
<text x="481.60" y="334.32" font-size="8.4" text-anchor="end">FOXA1</text>
<text x="481.60" y="349.62" font-size="8.4" text-anchor="end">PRMT1</text>
<text x="481.60" y="367.52" font-size="8.4" text-anchor="end">HNF4G</text>
<text x="481.60" y="386.62" font-size="8.4" text-anchor="end">FOXA1</text>
<text x="481.60" y="405.82" font-size="8.4" text-anchor="end">HNF4G</text>
<text x="481.60" y="424.12" font-size="8.4" text-anchor="end">FOXA1</text>
<text transform="translate(495.19,432) rotate(-90)" y="3.0" font-size="8.4" text-anchor="end">PRMT1</text>
<text transform="translate(513.75,432) rotate(-90)" y="3.0" font-size="8.4" text-anchor="end">FOXA1</text>
<text transform="translate(532.32,432) rotate(-90)" y="3.0" font-size="8.4" text-anchor="end">FOXA1</text>
<text transform="translate(550.89,432) rotate(-90)" y="3.0" font-size="8.4" text-anchor="end">FOXA1</text>
<text transform="translate(569.46,432) rotate(-90)" y="3.0" font-size="8.4" text-anchor="end">PRMT1</text>
<text transform="translate(588.03,432) rotate(-90)" y="3.0" font-size="8.4" text-anchor="end">HNF4G</text>
<text transform="translate(606.61,432) rotate(-90)" y="3.0" font-size="8.4" text-anchor="end">FOXA1</text>
<text transform="translate(625.17,432) rotate(-90)" y="3.0" font-size="8.4" text-anchor="end">HNF4G</text>
<text transform="translate(643.75,432) rotate(-90)" y="3.0" font-size="8.4" text-anchor="end">FOXA1</text>
<line x1="502.70" y1="248.00" x2="586.50" y2="248.00" stroke="#555" stroke-width="0.7"/>
<line x1="552.60" y1="250.70" x2="602.30" y2="250.70" stroke="#777" stroke-width="0.7"/>
<line x1="602.30" y1="249.60" x2="636.20" y2="249.60" stroke="#777" stroke-width="0.7"/>
<line x1="502.70" y1="248.00" x2="502.70" y2="268.20" stroke="#6a6a6a" stroke-width="0.7"/>
<line x1="519.10" y1="248.00" x2="519.10" y2="268.20" stroke="#6a6a6a" stroke-width="0.7"/>
<line x1="536.20" y1="248.00" x2="536.20" y2="268.20" stroke="#6a6a6a" stroke-width="0.7"/>
<line x1="552.60" y1="250.70" x2="552.60" y2="268.20" stroke="#6a6a6a" stroke-width="0.7"/>
<line x1="569.40" y1="250.70" x2="569.40" y2="268.20" stroke="#6a6a6a" stroke-width="0.7"/>
<line x1="586.50" y1="250.70" x2="586.50" y2="268.20" stroke="#6a6a6a" stroke-width="0.7"/>
<line x1="602.30" y1="249.60" x2="602.30" y2="268.20" stroke="#6a6a6a" stroke-width="0.7"/>
<line x1="619.80" y1="249.60" x2="619.80" y2="268.20" stroke="#6a6a6a" stroke-width="0.7"/>
<line x1="636.20" y1="249.60" x2="636.20" y2="268.20" stroke="#6a6a6a" stroke-width="0.7"/>
<rect x="661.20" y="273.00" width="9.60" height="5.02" fill="#fcfa9c"/>
<rect x="661.20" y="277.82" width="9.60" height="5.02" fill="#eef29e"/>
<rect x="661.20" y="282.65" width="9.60" height="5.02" fill="#dde9a0"/>
<rect x="661.20" y="287.48" width="9.60" height="5.02" fill="#c8de9e"/>
<rect x="661.20" y="292.30" width="9.60" height="5.02" fill="#b3d39c"/>
<rect x="661.20" y="297.12" width="9.60" height="5.02" fill="#9cc89c"/>
<rect x="661.20" y="301.95" width="9.60" height="5.02" fill="#87bd9a"/>
<rect x="661.20" y="306.77" width="9.60" height="5.02" fill="#72b29b"/>
<rect x="661.20" y="311.60" width="9.60" height="5.02" fill="#5da69c"/>
<rect x="661.20" y="316.42" width="9.60" height="5.02" fill="#4898a0"/>
<rect x="661.20" y="321.25" width="9.60" height="5.02" fill="#37899f"/>
<rect x="661.20" y="326.07" width="9.60" height="5.02" fill="#267b9c"/>
<text x="674.50" y="276.08" font-size="8" textLength="11" lengthAdjust="spacingAndGlyphs">0.7</text>
<text x="674.50" y="332.48" font-size="8" textLength="11" lengthAdjust="spacingAndGlyphs">2.5</text>
<text x="0" y="452.7" font-size="13" font-weight="bold" fill="#000">f</text>
<text x="129.60" y="454.57" font-size="8.8" text-anchor="middle" textLength="101.3" lengthAdjust="spacingAndGlyphs">In vivo orthotopic studies</text>
<line x1="55.60" y1="491.20" x2="55.60" y2="584.90" stroke="#444" stroke-width="0.9"/>
<line x1="55.20" y1="584.60" x2="226.30" y2="584.60" stroke="#444" stroke-width="0.9"/>
<line x1="52.60" y1="491.70" x2="55.60" y2="491.70" stroke="#444" stroke-width="0.7"/>
<text x="49.80" y="494.72" font-size="8.4" text-anchor="end">100</text>
<line x1="52.60" y1="510.24" x2="55.60" y2="510.24" stroke="#444" stroke-width="0.7"/>
<text x="49.80" y="513.26" font-size="8.4" text-anchor="end">80</text>
<line x1="52.60" y1="528.78" x2="55.60" y2="528.78" stroke="#444" stroke-width="0.7"/>
<text x="49.80" y="531.80" font-size="8.4" text-anchor="end">60</text>
<line x1="52.60" y1="547.32" x2="55.60" y2="547.32" stroke="#444" stroke-width="0.7"/>
<text x="49.80" y="550.34" font-size="8.4" text-anchor="end">40</text>
<line x1="52.60" y1="565.86" x2="55.60" y2="565.86" stroke="#444" stroke-width="0.7"/>
<text x="49.80" y="568.88" font-size="8.4" text-anchor="end">20</text>
<line x1="52.60" y1="584.40" x2="55.60" y2="584.40" stroke="#444" stroke-width="0.7"/>
<text x="49.80" y="587.42" font-size="8.4" text-anchor="end">0</text>
<line x1="55.50" y1="584.60" x2="55.50" y2="587.20" stroke="#444" stroke-width="0.7"/>
<text x="55.50" y="597.62" font-size="8.4" text-anchor="middle">0</text>
<line x1="75.97" y1="584.60" x2="75.97" y2="587.20" stroke="#444" stroke-width="0.7"/>
<text x="75.97" y="597.62" font-size="8.4" text-anchor="middle">10</text>
<line x1="96.45" y1="584.60" x2="96.45" y2="587.20" stroke="#444" stroke-width="0.7"/>
<text x="96.45" y="597.62" font-size="8.4" text-anchor="middle">20</text>
<line x1="116.92" y1="584.60" x2="116.92" y2="587.20" stroke="#444" stroke-width="0.7"/>
<text x="116.92" y="597.62" font-size="8.4" text-anchor="middle">30</text>
<line x1="137.40" y1="584.60" x2="137.40" y2="587.20" stroke="#444" stroke-width="0.7"/>
<text x="137.40" y="597.62" font-size="8.4" text-anchor="middle">40</text>
<line x1="157.88" y1="584.60" x2="157.88" y2="587.20" stroke="#444" stroke-width="0.7"/>
<text x="157.88" y="597.62" font-size="8.4" text-anchor="middle">50</text>
<line x1="178.35" y1="584.60" x2="178.35" y2="587.20" stroke="#444" stroke-width="0.7"/>
<text x="178.35" y="597.62" font-size="8.4" text-anchor="middle">60</text>
<line x1="198.82" y1="584.60" x2="198.82" y2="587.20" stroke="#444" stroke-width="0.7"/>
<text x="198.82" y="597.62" font-size="8.4" text-anchor="middle">70</text>
<line x1="219.30" y1="584.60" x2="219.30" y2="587.20" stroke="#444" stroke-width="0.7"/>
<text x="219.30" y="597.62" font-size="8.4" text-anchor="middle">80</text>
<text x="140.30" y="611.47" font-size="8.8" text-anchor="middle" textLength="45.6" lengthAdjust="spacingAndGlyphs">Time (days)</text>
<text transform="translate(27.60,535.00) rotate(-90)" y="3.17" font-size="8.8" text-anchor="middle" textLength="39.5" lengthAdjust="spacingAndGlyphs">% survival</text>
<line x1="55.60" y1="538.50" x2="226.00" y2="538.50" stroke="#bdbdbd" stroke-width="0.7" stroke-dasharray="3 2"/>
<line x1="131.60" y1="488.00" x2="131.60" y2="584.40" stroke="#111111" stroke-width="0.8" stroke-dasharray="0.9 0.9"/>
<line x1="150.70" y1="488.00" x2="150.70" y2="584.40" stroke="#e8282c" stroke-width="0.8" stroke-dasharray="0.9 0.9"/>
<line x1="159.60" y1="488.00" x2="159.60" y2="584.40" stroke="#27a046" stroke-width="0.8" stroke-dasharray="0.9 0.9"/>
<line x1="170.70" y1="488.00" x2="170.70" y2="584.40" stroke="#9b5fcf" stroke-width="0.8" stroke-dasharray="0.9 0.9"/>
<path d="M55.6 491.7H150.7V497.8H152.5V510.3H161.0V522.6H167.8V529.4H171.2V541.4H173.8V547.3H186.6V559.8H198.6V578.6H217.4V584.4" fill="none" stroke="#9b5fcf" stroke-width="1.1"/>
<path d="M153.3 491.7H153.3V502.0H155.0V512.3H156.7V523.4H158.4V533.7H159.6V553.3H171.2V574.2H173.8V584.4" fill="none" stroke="#27a046" stroke-width="1.1"/>
<path d="M128.5 491.7H128.5V497.0H129.5V503.0H130.5V511.5H143.0V538.3H150.7V550.8H152.5V563.6H154.2V572.1H156.7V578.0H157.6V584.4" fill="none" stroke="#e8282c" stroke-width="1.1"/>
<path d="M127.8 491.7H128.2V500.0H128.8V507.0H129.4V515.0H130.0V522.6H131.2V524.5H132.0V533.7H132.8V543.0H143.0V564.4H159.6V574.2H171.2V584.4" fill="none" stroke="#111111" stroke-width="1.1"/>
<line x1="153.00" y1="491.60" x2="171.20" y2="491.60" stroke="#111" stroke-width="0.9"/>
<text x="130.60" y="487.43" font-size="4.8" text-anchor="middle" fill="#111111" font-style="italic" style="stroke:#111111">37</text>
<text x="150.30" y="487.43" font-size="4.8" text-anchor="middle" fill="#e8282c" font-style="italic" style="stroke:#e8282c">46</text>
<text x="157.90" y="487.43" font-size="4.8" text-anchor="middle" fill="#27a046" font-style="italic" style="stroke:#27a046">50</text>
<text x="170.20" y="487.43" font-size="4.8" text-anchor="middle" fill="#9b5fcf" font-style="italic" style="stroke:#9b5fcf">56</text>
<path d="M166.00 460.75L166.63 462.03L168.04 462.24L167.02 463.23L167.26 464.64L166.00 463.97L164.74 464.64L164.98 463.23L163.96 462.24L165.37 462.03Z" fill="#222"/>
<line x1="159.80" y1="466.50" x2="172.10" y2="466.50" stroke="#222" stroke-width="0.7"/>
<path d="M157.60 468.35L158.23 469.63L159.64 469.84L158.62 470.83L158.86 472.24L157.60 471.57L156.34 472.24L156.58 470.83L155.56 469.84L156.97 469.63ZM162.30 468.35L162.93 469.63L164.34 469.84L163.32 470.83L163.56 472.24L162.30 471.57L161.04 472.24L161.28 470.83L160.26 469.84L161.67 469.63ZM167.00 468.35L167.63 469.63L169.04 469.84L168.02 470.83L168.26 472.24L167.00 471.57L165.74 472.24L165.98 470.83L164.96 469.84L166.37 469.63Z" fill="#222"/>
<line x1="151.20" y1="474.30" x2="172.10" y2="474.30" stroke="#222" stroke-width="0.7"/>
<path d="M148.20 475.95L148.83 477.23L150.24 477.44L149.22 478.43L149.46 479.84L148.20 479.17L146.94 479.84L147.18 478.43L146.16 477.44L147.57 477.23ZM152.90 475.95L153.53 477.23L154.94 477.44L153.92 478.43L154.16 479.84L152.90 479.17L151.64 479.84L151.88 478.43L150.86 477.44L152.27 477.23ZM157.60 475.95L158.23 477.23L159.64 477.44L158.62 478.43L158.86 479.84L157.60 479.17L156.34 479.84L156.58 478.43L155.56 477.44L156.97 477.23Z" fill="#222"/>
<path d="M132.6 484.2V482.3H171.2V484.2" fill="none" stroke="#222" stroke-width="0.7"/>
<text x="175" y="466.18" font-size="8" textLength="35.5" lengthAdjust="spacingAndGlyphs"><tspan font-style="italic">P</tspan> = 0.0339</text>
<text x="175" y="474.68" font-size="8" textLength="35.5" lengthAdjust="spacingAndGlyphs"><tspan font-style="italic">P</tspan> &lt; 0.0001</text>
<text x="175" y="484.78" font-size="8" textLength="35.5" lengthAdjust="spacingAndGlyphs"><tspan font-style="italic">P</tspan> = 0.0002</text>
<line x1="60.30" y1="546.20" x2="67.00" y2="546.20" stroke="#111111" stroke-width="1.0"/>
<text x="72.90" y="549.01" font-size="7.8" textLength="39.7" lengthAdjust="spacingAndGlyphs">Control-Veh</text>
<line x1="60.30" y1="555.50" x2="67.00" y2="555.50" stroke="#e8282c" stroke-width="1.0"/>
<text x="72.90" y="558.31" font-size="7.8" textLength="42.2" lengthAdjust="spacingAndGlyphs">Control-GSK</text>
<line x1="60.30" y1="564.80" x2="67.00" y2="564.80" stroke="#27a046" stroke-width="1.0"/>
<text x="72.90" y="567.61" font-size="7.8" textLength="51.5" lengthAdjust="spacingAndGlyphs">HNF4G-KO-Veh</text>
<line x1="60.30" y1="574.10" x2="67.00" y2="574.10" stroke="#9b5fcf" stroke-width="1.0"/>
<text x="72.90" y="576.91" font-size="7.8" textLength="53.9" lengthAdjust="spacingAndGlyphs">HNF4G-KO-GSK</text>
<g stroke-linejoin="round"><path d="M39.6 472.4 Q45.6 466.4 51.8 466.2 Q55 466.6 53.6 470 Q52 473.4 49.2 475.4" fill="none" stroke="#a2a2a2" stroke-width="1.2" stroke-linecap="round"/><path d="M19.2 484.5 L17.2 489.8 L22.2 489.8 L23.4 485Z" fill="#c2c2c2"/><path d="M31 486.5 L31 492.6 L35.8 492.4 L35 486.5Z" fill="#c2c2c2"/><path d="M38.4 476.4 L42.4 478.6 L38.2 480Z" fill="#c6c6c6"/><path d="M12.4 469.2 Q13.6 465.4 16.4 463.2 L19.8 457.6 L21.6 463 Q25 462.2 28.6 463.8 Q36.8 464.2 40.2 470.4 Q42.4 477 38.8 482.8 Q35.4 487.6 29.4 487.8 Q22.4 487.8 19.4 483.4 Q17 479.6 16.6 475 Q13.4 472.8 12.4 469.2Z" fill="#dfdfdf" stroke="#c8c8c8" stroke-width="0.35"/><path d="M33.2 465.8 Q39 467 40.3 471.6 Q41.8 477.8 38.4 483 Q36.2 486 33.4 487 Q37.6 480 36.2 473.2 Q35.2 468.4 33.2 465.8Z" fill="#c9c9c9"/><ellipse cx="29.2" cy="463.4" rx="3.3" ry="5.3" transform="rotate(10 29.2 463.4)" fill="#a6a6a6"/><ellipse cx="29.6" cy="463.8" rx="1.6" ry="3.4" transform="rotate(10 29.6 463.8)" fill="#9a9a9a"/><circle cx="21.5" cy="467.2" r="0.9" fill="#555"/><path d="M17 460.8 L19.6 458.2 L20.2 462.8Z" fill="#c6c6c6"/><path d="M12 468.4 L8.8 467.2 M12.2 469.4 L9 469.8" stroke="#d0d0d0" stroke-width="0.3"/></g>
<text x="249.6" y="451.9" font-size="13" font-weight="bold" fill="#000">g</text>
<line x1="291.40" y1="485.60" x2="291.40" y2="585.10" stroke="#444" stroke-width="0.9"/>
<line x1="291.00" y1="584.75" x2="449.00" y2="584.75" stroke="#444" stroke-width="0.9"/>
<line x1="288.60" y1="486.45" x2="291.40" y2="486.45" stroke="#444" stroke-width="0.7"/>
<text x="286.00" y="489.51" font-size="8.5" text-anchor="end">2,000</text>
<line x1="288.60" y1="511.02" x2="291.40" y2="511.02" stroke="#444" stroke-width="0.7"/>
<text x="286.00" y="514.08" font-size="8.5" text-anchor="end">1,500</text>
<line x1="288.60" y1="535.60" x2="291.40" y2="535.60" stroke="#444" stroke-width="0.7"/>
<text x="286.00" y="538.66" font-size="8.5" text-anchor="end">1,000</text>
<line x1="288.60" y1="560.17" x2="291.40" y2="560.17" stroke="#444" stroke-width="0.7"/>
<text x="286.00" y="563.23" font-size="8.5" text-anchor="end">500</text>
<line x1="288.60" y1="584.75" x2="291.40" y2="584.75" stroke="#444" stroke-width="0.7"/>
<text x="286.00" y="587.81" font-size="8.5" text-anchor="end">0</text>
<line x1="291.80" y1="584.75" x2="291.80" y2="587.30" stroke="#444" stroke-width="0.7"/>
<text x="291.80" y="597.42" font-size="8.4" text-anchor="middle">10</text>
<line x1="314.18" y1="584.75" x2="314.18" y2="587.30" stroke="#444" stroke-width="0.7"/>
<text x="314.18" y="597.42" font-size="8.4" text-anchor="middle">20</text>
<line x1="336.55" y1="584.75" x2="336.55" y2="587.30" stroke="#444" stroke-width="0.7"/>
<text x="336.55" y="597.42" font-size="8.4" text-anchor="middle">30</text>
<line x1="358.93" y1="584.75" x2="358.93" y2="587.30" stroke="#444" stroke-width="0.7"/>
<text x="358.93" y="597.42" font-size="8.4" text-anchor="middle">40</text>
<line x1="381.30" y1="584.75" x2="381.30" y2="587.30" stroke="#444" stroke-width="0.7"/>
<text x="381.30" y="597.42" font-size="8.4" text-anchor="middle">50</text>
<line x1="403.68" y1="584.75" x2="403.68" y2="587.30" stroke="#444" stroke-width="0.7"/>
<text x="403.68" y="597.42" font-size="8.4" text-anchor="middle">60</text>
<line x1="426.05" y1="584.75" x2="426.05" y2="587.30" stroke="#444" stroke-width="0.7"/>
<text x="426.05" y="597.42" font-size="8.4" text-anchor="middle">70</text>
<line x1="448.43" y1="584.75" x2="448.43" y2="587.30" stroke="#444" stroke-width="0.7"/>
<text x="448.43" y="597.42" font-size="8.4" text-anchor="middle">80</text>
<text x="380.90" y="611.47" font-size="8.8" text-anchor="middle" textLength="45.2" lengthAdjust="spacingAndGlyphs">Time (days)</text>
<text transform="translate(254.6,536) rotate(-90)" y="3.2" font-size="8.8" text-anchor="middle" textLength="82.5" lengthAdjust="spacingAndGlyphs">Tumor volume (mm<tspan font-size="5.5" dy="-3">3</tspan><tspan dy="3">)</tspan></text>
<path d="M332.1 570.0 L347.7 542.6 L363.4 513.5" fill="none" stroke="#8a8a8a" stroke-width="0.8" stroke-linejoin="round" stroke-opacity="0.9"/>
<path d="M332.1 571.4 L347.7 553.2 L363.4 513.5" fill="none" stroke="#8a8a8a" stroke-width="0.8" stroke-linejoin="round" stroke-opacity="0.9"/>
<path d="M363.4 582.0 L379.1 580.8 L394.7 578.5 L410.4 575.4" fill="none" stroke="#c6b0e3" stroke-width="0.8" stroke-linejoin="round" stroke-opacity="0.9"/>
<path d="M363.4 581.9 L379.1 580.4 L394.7 576.9 L410.4 570.4 L426.1 557.4 L441.7 544.3" fill="none" stroke="#c6b0e3" stroke-width="0.8" stroke-linejoin="round" stroke-opacity="0.9"/>
<path d="M332.1 572.6 L347.7 555.9 L363.4 513.5" fill="none" stroke="#8a8a8a" stroke-width="0.8" stroke-linejoin="round" stroke-opacity="0.9"/>
<path d="M332.1 574.7 L347.7 561.9 L363.4 530.3" fill="none" stroke="#8a8a8a" stroke-width="0.8" stroke-linejoin="round" stroke-opacity="0.9"/>
<path d="M363.4 578.5 L379.1 572.2 L394.7 554.4" fill="none" stroke="#98d3a4" stroke-width="0.8" stroke-linejoin="round" stroke-opacity="0.9"/>
<path d="M347.7 579.0 L363.4 576.1 L379.1 570.9 L394.7 559.3 L410.4 544.4 L426.1 520.9" fill="none" stroke="#c6b0e3" stroke-width="0.8" stroke-linejoin="round" stroke-opacity="0.9"/>
<path d="M332.1 575.0 L347.7 566.5 L363.4 548.8 L379.1 515.9" fill="none" stroke="#f08c8c" stroke-width="0.8" stroke-linejoin="round" stroke-opacity="0.9"/>
<path d="M316.4 579.1 L332.1 575.4 L347.7 570.2 L363.4 561.6" fill="none" stroke="#f08c8c" stroke-width="0.8" stroke-linejoin="round" stroke-opacity="0.9"/>
<path d="M332.1 576.5 L347.7 565.4 L363.4 539.1 L379.1 515.9" fill="none" stroke="#f08c8c" stroke-width="0.8" stroke-linejoin="round" stroke-opacity="0.9"/>
<path d="M332.1 570.4 L347.7 554.4 L363.4 517.9" fill="none" stroke="#8a8a8a" stroke-width="0.8" stroke-linejoin="round" stroke-opacity="0.9"/>
<path d="M332.1 579.2 L347.7 574.7 L363.4 568.9 L379.1 554.2" fill="none" stroke="#8a8a8a" stroke-width="0.8" stroke-linejoin="round" stroke-opacity="0.9"/>
<path d="M347.7 578.4 L363.4 573.8 L379.1 566.8 L394.7 551.7 L410.4 521.0" fill="none" stroke="#98d3a4" stroke-width="0.8" stroke-linejoin="round" stroke-opacity="0.9"/>
<path d="M363.4 579.8 L379.1 577.6 L394.7 573.6 L410.4 567.7" fill="none" stroke="#c6b0e3" stroke-width="0.8" stroke-linejoin="round" stroke-opacity="0.9"/>
<path d="M332.1 575.9 L347.7 568.6 L363.4 553.8 L379.1 533.9" fill="none" stroke="#8a8a8a" stroke-width="0.8" stroke-linejoin="round" stroke-opacity="0.9"/>
<path d="M363.4 581.2 L379.1 578.8 L394.7 575.1 L410.4 567.2" fill="none" stroke="#98d3a4" stroke-width="0.8" stroke-linejoin="round" stroke-opacity="0.9"/>
<path d="M332.1 574.8 L347.7 567.2 L363.4 558.1" fill="none" stroke="#8a8a8a" stroke-width="0.8" stroke-linejoin="round" stroke-opacity="0.9"/>
<path d="M347.7 581.1 L363.4 579.2 L379.1 576.8 L394.7 572.0 L410.4 562.3" fill="none" stroke="#c6b0e3" stroke-width="0.8" stroke-linejoin="round" stroke-opacity="0.9"/>
<path d="M316.4 582.1 L332.1 580.2 L347.7 577.5 L363.4 571.6" fill="none" stroke="#f08c8c" stroke-width="0.8" stroke-linejoin="round" stroke-opacity="0.9"/>
<path d="M363.4 578.6 L379.1 576.4 L394.7 572.5 L410.4 567.6" fill="none" stroke="#c6b0e3" stroke-width="0.8" stroke-linejoin="round" stroke-opacity="0.9"/>
<path d="M316.4 580.1 L332.1 577.1 L347.7 571.2" fill="none" stroke="#f08c8c" stroke-width="0.8" stroke-linejoin="round" stroke-opacity="0.9"/>
<path d="M347.7 580.2 L363.4 575.3 L379.1 564.3" fill="none" stroke="#98d3a4" stroke-width="0.8" stroke-linejoin="round" stroke-opacity="0.9"/>
<path d="M363.4 578.8 L379.1 573.3 L394.7 557.8 L410.4 534.2 L426.1 501.2" fill="none" stroke="#98d3a4" stroke-width="0.8" stroke-linejoin="round" stroke-opacity="0.9"/>
<path d="M347.7 575.4 L363.4 567.5 L379.1 553.4" fill="none" stroke="#98d3a4" stroke-width="0.8" stroke-linejoin="round" stroke-opacity="0.9"/>
<path d="M316.4 579.9 L332.1 573.4 L347.7 563.0 L363.4 543.5" fill="none" stroke="#f08c8c" stroke-width="0.8" stroke-linejoin="round" stroke-opacity="0.9"/>
<path d="M347.7 580.4 L363.4 577.9 L379.1 571.8 L394.7 560.7 L410.4 546.2" fill="none" stroke="#c6b0e3" stroke-width="0.8" stroke-linejoin="round" stroke-opacity="0.9"/>
<path d="M316.4 581.3 L332.1 578.3 L347.7 571.2" fill="none" stroke="#f08c8c" stroke-width="0.8" stroke-linejoin="round" stroke-opacity="0.9"/>
<path d="M347.7 581.1 L363.4 578.3 L379.1 573.5 L394.7 564.3" fill="none" stroke="#c6b0e3" stroke-width="0.8" stroke-linejoin="round" stroke-opacity="0.9"/>
<path d="M363.4 576.7 L379.1 565.6 L394.7 539.4 L410.4 501.2" fill="none" stroke="#98d3a4" stroke-width="0.8" stroke-linejoin="round" stroke-opacity="0.9"/>
<path d="M363.4 578.5 L379.1 575.5 L394.7 569.7 L410.4 562.4 L426.1 553.5" fill="none" stroke="#c6b0e3" stroke-width="0.8" stroke-linejoin="round" stroke-opacity="0.9"/>
<path d="M363.4 582.3 L379.1 580.3 L394.7 576.2 L410.4 571.8 L426.1 564.4" fill="none" stroke="#c6b0e3" stroke-width="0.8" stroke-linejoin="round" stroke-opacity="0.9"/>
<path d="M316.4 578.4 L332.1 573.3 L347.7 565.0 L363.4 553.2" fill="none" stroke="#f08c8c" stroke-width="0.8" stroke-linejoin="round" stroke-opacity="0.9"/>
<path d="M316.4 579.2 L332.1 570.2 L347.7 547.3" fill="none" stroke="#8a8a8a" stroke-width="0.8" stroke-linejoin="round" stroke-opacity="0.9"/>
<path d="M347.7 577.5 L363.4 570.9 L379.1 558.0" fill="none" stroke="#98d3a4" stroke-width="0.8" stroke-linejoin="round" stroke-opacity="0.9"/>
<path d="M316.4 581.6 L332.1 576.7 L347.7 563.1" fill="none" stroke="#8a8a8a" stroke-width="0.8" stroke-linejoin="round" stroke-opacity="0.9"/>
<path d="M332.1 579.0 L347.7 572.2 L363.4 559.2" fill="none" stroke="#f08c8c" stroke-width="0.8" stroke-linejoin="round" stroke-opacity="0.9"/>
<path d="M316.4 577.8 L332.1 569.6 L347.7 555.5" fill="none" stroke="#8a8a8a" stroke-width="0.8" stroke-linejoin="round" stroke-opacity="0.9"/>
<path d="M347.7 579.3 L363.4 575.1 L379.1 568.3" fill="none" stroke="#98d3a4" stroke-width="0.8" stroke-linejoin="round" stroke-opacity="0.9"/>
<path d="M316.4 581.4 L332.1 576.1 L347.7 566.8 L363.4 538.7" fill="none" stroke="#f08c8c" stroke-width="0.8" stroke-linejoin="round" stroke-opacity="0.9"/>
<path d="M347.7 581.2 L363.4 578.8 L379.1 572.0 L394.7 556.9" fill="none" stroke="#98d3a4" stroke-width="0.8" stroke-linejoin="round" stroke-opacity="0.9"/>
<path d="M363.4 580.0 L379.1 577.7 L394.7 572.6 L410.4 562.8 L426.1 550.7 L441.7 538.1" fill="none" stroke="#c6b0e3" stroke-width="0.8" stroke-linejoin="round" stroke-opacity="0.9"/>
<path d="M316.4 581.0 L332.1 578.2 L347.7 572.9" fill="none" stroke="#f08c8c" stroke-width="0.8" stroke-linejoin="round" stroke-opacity="0.9"/>
<path d="M363.4 575.0 L379.1 561.6 L394.7 535.1" fill="none" stroke="#98d3a4" stroke-width="0.8" stroke-linejoin="round" stroke-opacity="0.9"/>
<path d="M335.0 551.3 L341.0 536.0 L348.2 510.4" fill="none" stroke="#777" stroke-width="0.8" stroke-linejoin="round"/>
<path d="M316.6 580.0 L326.0 570.0 L333.0 556.4" fill="none" stroke="#9a6a6a" stroke-width="0.8" stroke-linejoin="round"/>
<path d="M316.0 581.0 L333.0 560.0 L347.0 514.0" fill="none" stroke="#f08a8a" stroke-width="0.8" stroke-linejoin="round"/>
<path d="M352.0 580.0 L388.0 560.0 L424.0 536.0 L446.0 520.0" fill="none" stroke="#c9b3e6" stroke-width="0.8" stroke-linejoin="round"/>
<path d="M372.0 577.0 L410.0 552.0 L440.0 530.0 L457.0 508.0" fill="none" stroke="#c9b3e6" stroke-width="0.8" stroke-linejoin="round"/>
<path d="M380.0 570.0 L400.0 545.0 L420.0 513.0 L438.0 480.0" fill="none" stroke="#c9b3e6" stroke-width="0.8" stroke-linejoin="round"/>
<path d="M390.0 570.0 L410.0 548.0 L430.0 520.0 L440.0 513.0" fill="none" stroke="#c9b3e6" stroke-width="0.8" stroke-linejoin="round"/>
<path d="M293.0 584.6C296.6 584.3 309.2 584.1 314.5 583.0C319.8 581.9 321.6 579.8 324.7 577.9C327.8 576.0 330.2 574.4 332.9 571.7C335.6 569.0 338.0 565.9 341.1 561.5C344.2 557.1 347.9 551.3 351.3 545.2C354.7 539.1 358.6 531.2 361.5 524.7C364.4 518.2 367.0 510.7 368.7 506.3C370.4 501.9 371.2 499.9 371.7 498.6" fill="none" stroke="#111" stroke-width="1.3"/>
<path d="M293.0 584.6C296.6 584.4 308.9 584.3 314.5 583.2C320.1 582.1 322.4 580.5 326.8 577.9C331.2 575.3 337.0 571.8 341.1 567.7C345.2 563.6 347.9 558.9 351.3 553.4C354.7 547.9 358.1 541.8 361.5 535.0C364.9 528.2 369.1 518.6 371.7 512.5C374.3 506.4 376.0 500.6 376.9 498.2" fill="none" stroke="#e8282c" stroke-width="1.3"/>
<path d="M338.0 584.4C339.9 583.7 345.7 582.1 349.3 580.0C352.9 577.9 355.8 575.5 359.5 571.7C363.2 567.9 367.9 562.9 371.7 557.4C375.4 551.9 378.6 545.5 382.0 539.0C385.4 532.5 389.0 525.4 392.2 518.6C395.4 511.8 399.9 501.6 401.4 498.2" fill="none" stroke="#27a046" stroke-width="1.3"/>
<path d="M293.0 584.7C300.5 584.7 327.6 585.2 338.0 584.4C348.4 583.6 349.8 581.8 355.4 580.0C361.0 578.2 366.6 576.5 371.7 573.8C376.8 571.1 381.2 568.4 386.0 563.6C390.8 558.8 396.0 552.0 400.4 545.2C404.8 538.4 409.2 530.4 412.6 522.7C416.0 515.0 419.4 503.1 420.8 499.2" fill="none" stroke="#8a4fc4" stroke-width="1.35"/>
<circle cx="293" cy="584.75" r="1.7" fill="#222"/><circle cx="337.8" cy="583.6" r="1.7" fill="#222"/>
<line x1="293.00" y1="587.50" x2="293.00" y2="604.30" stroke="#777" stroke-width="0.6" stroke-dasharray="0.8 0.8"/>
<line x1="337.80" y1="587.50" x2="337.80" y2="604.30" stroke="#777" stroke-width="0.6" stroke-dasharray="0.8 0.8"/>
<line x1="293.00" y1="604.30" x2="337.80" y2="604.30" stroke="#333" stroke-width="0.7"/>
<path d="M309.50 598.85L310.13 600.13L311.54 600.34L310.52 601.33L310.76 602.74L309.50 602.08L308.24 602.74L308.48 601.33L307.46 600.34L308.87 600.13ZM314.20 598.85L314.83 600.13L316.24 600.34L315.22 601.33L315.46 602.74L314.20 602.08L312.94 602.74L313.18 601.33L312.16 600.34L313.57 600.13ZM318.90 598.85L319.53 600.13L320.94 600.34L319.92 601.33L320.16 602.74L318.90 602.08L317.64 602.74L317.88 601.33L316.86 600.34L318.27 600.13Z" fill="#222"/>
<text x="295.4" y="614.57" font-size="8.8" textLength="41.6" lengthAdjust="spacingAndGlyphs"><tspan font-style="italic">P</tspan> = 0.0001</text>
<path d="M408.35 478.65L408.98 479.93L410.39 480.14L409.37 481.13L409.61 482.54L408.35 481.88L407.09 482.54L407.33 481.13L406.31 480.14L407.72 479.93ZM413.05 478.65L413.68 479.93L415.09 480.14L414.07 481.13L414.31 482.54L413.05 481.88L411.79 482.54L412.03 481.13L411.01 480.14L412.42 479.93Z" fill="#222"/>
<line x1="401.90" y1="484.10" x2="421.90" y2="484.10" stroke="#222" stroke-width="0.7"/>
<path d="M393.60 485.05L394.23 486.33L395.64 486.54L394.62 487.53L394.86 488.94L393.60 488.27L392.34 488.94L392.58 487.53L391.56 486.54L392.97 486.33ZM398.30 485.05L398.93 486.33L400.34 486.54L399.32 487.53L399.56 488.94L398.30 488.27L397.04 488.94L397.28 487.53L396.26 486.54L397.67 486.33ZM403.00 485.05L403.63 486.33L405.04 486.54L404.02 487.53L404.26 488.94L403.00 488.27L401.74 488.94L401.98 487.53L400.96 486.54L402.37 486.33Z" fill="#222"/>
<line x1="376.70" y1="489.30" x2="421.90" y2="489.30" stroke="#222" stroke-width="0.7"/>
<path d="M393.60 491.45L394.23 492.73L395.64 492.94L394.62 493.93L394.86 495.34L393.60 494.67L392.34 495.34L392.58 493.93L391.56 492.94L392.97 492.73ZM398.30 491.45L398.93 492.73L400.34 492.94L399.32 493.93L399.56 495.34L398.30 494.67L397.04 495.34L397.28 493.93L396.26 492.94L397.67 492.73ZM403.00 491.45L403.63 492.73L405.04 492.94L404.02 493.93L404.26 495.34L403.00 494.67L401.74 495.34L401.98 493.93L400.96 492.94L402.37 492.73Z" fill="#222"/>
<line x1="372.00" y1="496.40" x2="421.90" y2="496.40" stroke="#222" stroke-width="0.7"/>
<text x="424.30" y="483.48" font-size="8" textLength="32.5" lengthAdjust="spacingAndGlyphs">P = 0.003</text>
<text x="424.30" y="490.58" font-size="8" textLength="36.4" lengthAdjust="spacingAndGlyphs">P = 0.0001</text>
<text x="424.30" y="498.28" font-size="8" textLength="36.4" lengthAdjust="spacingAndGlyphs">P &lt; 0.0001</text>
<line x1="395.50" y1="547.00" x2="403.00" y2="547.00" stroke="#111" stroke-width="1.0"/>
<text x="407.30" y="549.81" font-size="7.8" textLength="39.7" lengthAdjust="spacingAndGlyphs">Control-Veh</text>
<line x1="395.50" y1="556.50" x2="403.00" y2="556.50" stroke="#e8282c" stroke-width="1.0"/>
<text x="407.30" y="559.31" font-size="7.8" textLength="42.2" lengthAdjust="spacingAndGlyphs">Control-GSK</text>
<line x1="395.50" y1="565.90" x2="403.00" y2="565.90" stroke="#27a046" stroke-width="1.0"/>
<text x="407.30" y="568.71" font-size="7.8" textLength="51.5" lengthAdjust="spacingAndGlyphs">HNF4G-KO-Veh</text>
<line x1="395.50" y1="575.30" x2="403.00" y2="575.30" stroke="#8a4fc4" stroke-width="1.0"/>
<text x="407.30" y="578.11" font-size="7.8" textLength="53.9" lengthAdjust="spacingAndGlyphs">HNF4G-KO-GSK</text>
</svg></body></html>
